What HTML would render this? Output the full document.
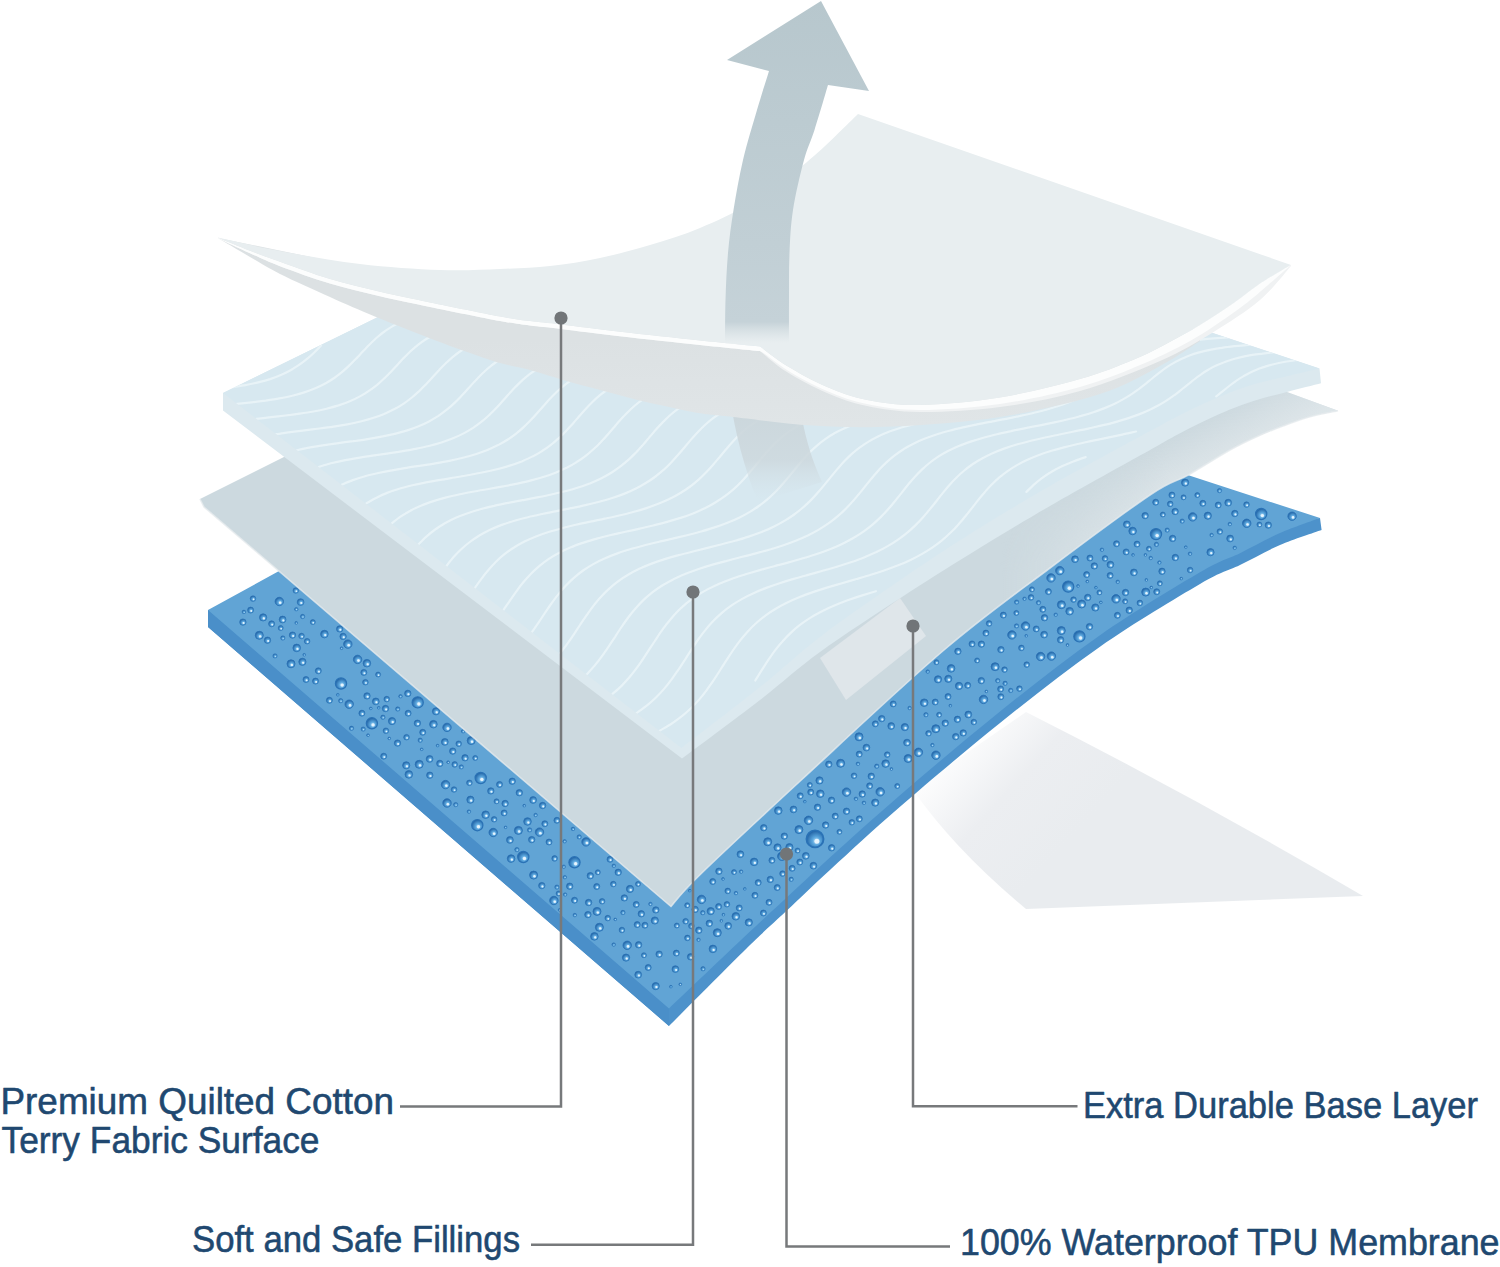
<!DOCTYPE html>
<html lang="en"><head><meta charset="utf-8"><title>Mattress protector layers</title>
<style>html,body{margin:0;padding:0;background:#fff;}body{width:1500px;height:1267px;overflow:hidden;position:relative;font-family:"Liberation Sans",sans-serif;}svg{display:block;position:absolute;left:0;top:0}
.lbl{font-family:"Liberation Sans",sans-serif;font-size:36.7px;fill:#204870;stroke:#204870;stroke-width:0.55px;stroke-linejoin:round}
</style></head><body>
<svg width="1500" height="1267" viewBox="0 0 1500 1267">
<defs>
<linearGradient id="shadowG" gradientUnits="userSpaceOnUse" x1="945" y1="745" x2="1060" y2="850"><stop offset="0" stop-color="#ffffff"/><stop offset="0.5" stop-color="#eceef1"/><stop offset="1" stop-color="#e9ecef"/></linearGradient>
<linearGradient id="arrowG" gradientUnits="userSpaceOnUse" x1="0" y1="0" x2="0" y2="348"><stop offset="0" stop-color="#b7c7cd"/><stop offset="0.7" stop-color="#c1cfd5"/><stop offset="0.925" stop-color="#c5d2d8" stop-opacity="1"/><stop offset="0.985" stop-color="#d5dee2" stop-opacity="0"/></linearGradient>
<linearGradient id="arrowLow" gradientUnits="userSpaceOnUse" x1="0" y1="400" x2="0" y2="500"><stop offset="0" stop-color="#cad5da" stop-opacity="0.95"/><stop offset="0.6" stop-color="#cdd8dd" stop-opacity="0.85"/><stop offset="1" stop-color="#d4e2e9" stop-opacity="0"/></linearGradient>
<radialGradient id="drop" cx="0.58" cy="0.62" r="0.62"><stop offset="0" stop-color="#c2e3f8"/><stop offset="0.38" stop-color="#5aa6dd"/><stop offset="1" stop-color="#1f60a2"/></radialGradient>
<linearGradient id="grayG" gradientUnits="userSpaceOnUse" x1="1140" y1="452" x2="1163" y2="495"><stop offset="0" stop-color="#e3e9ec" stop-opacity="0"/><stop offset="0.5" stop-color="#e3e9ec" stop-opacity="0.4"/><stop offset="1" stop-color="#e3e9ec" stop-opacity="0.75"/></linearGradient>
<linearGradient id="fadeX" gradientUnits="userSpaceOnUse" x1="1000" y1="0" x2="1170" y2="0"><stop offset="0" stop-color="#000"/><stop offset="1" stop-color="#fff"/></linearGradient>
<mask id="fadeM" maskUnits="userSpaceOnUse" x="0" y="0" width="1500" height="1267"><rect x="0" y="0" width="1500" height="1267" fill="url(#fadeX)"/></mask>
<linearGradient id="underG" gradientUnits="userSpaceOnUse" x1="0" y1="340" x2="0" y2="425"><stop offset="0" stop-color="#dce1e3"/><stop offset="1" stop-color="#e0e5e7"/></linearGradient>
</defs>
<path d="M1026,712 Q1200,800 1363,896 L1026,909 Q955,850 913,790 Z" fill="url(#shadowG)"/>
<clipPath id="blueClip"><path d="M208.0,610.0 L669.0,1008.5 C681.8,996.3 726.5,953.7 746.0,935.3 C765.5,916.9 771.8,911.4 786.0,898.3 C800.2,885.2 812.0,873.8 831.0,856.6 C850.0,839.4 871.8,819.4 900.0,795.2 C928.2,771.0 966.7,738.2 1000.0,711.5 C1033.3,684.8 1066.7,658.4 1100.0,635.2 C1133.3,612.0 1176.7,585.9 1200.0,572.3 C1223.3,558.6 1226.7,559.7 1240.0,553.2 C1253.3,546.7 1266.7,539.0 1280.0,533.1 C1293.3,527.2 1313.3,520.5 1320.0,518.0 L727.0,325.0 Z"/></clipPath>
<path d="M208.0,610.0 L208,627 L669.0,1026.0 C681.8,1013.2 726.5,968.1 746.0,949.0 C765.5,929.9 771.8,924.6 786.0,911.3 C800.2,898.0 812.0,886.4 831.0,869.0 C850.0,851.6 871.8,831.0 900.0,806.7 C928.2,782.4 966.7,749.7 1000.0,723.0 C1033.3,696.3 1066.7,669.9 1100.0,646.7 C1133.3,623.5 1176.7,597.6 1200.0,584.0 C1223.3,570.4 1226.7,571.5 1240.0,565.0 C1253.3,558.5 1266.4,550.8 1280.0,545.0 C1293.6,539.2 1314.7,532.5 1321.6,530.0 L1320,518 Z" fill="#4d92cb"/>
<path d="M208,610 L208,627 L669,1026 L669,1008.5 Z" fill="#4a8fc9"/>
<path d="M208.0,610.0 L669.0,1008.5 C681.8,996.3 726.5,953.7 746.0,935.3 C765.5,916.9 771.8,911.4 786.0,898.3 C800.2,885.2 812.0,873.8 831.0,856.6 C850.0,839.4 871.8,819.4 900.0,795.2 C928.2,771.0 966.7,738.2 1000.0,711.5 C1033.3,684.8 1066.7,658.4 1100.0,635.2 C1133.3,612.0 1176.7,585.9 1200.0,572.3 C1223.3,558.6 1226.7,559.7 1240.0,553.2 C1253.3,546.7 1266.7,539.0 1280.0,533.1 C1293.3,527.2 1313.3,520.5 1320.0,518.0 L727.0,325.0 Z" fill="#61a4d5"/>
<g>
<circle cx="763.7" cy="827.7" r="3.2" fill="url(#drop)" stroke="#2a72b6" stroke-width="0.7"/>
<circle cx="764.5" cy="828.6" r="1.0" fill="#eef8ff" opacity="0.9"/>
<circle cx="1094.3" cy="565.9" r="3.2" fill="url(#drop)" stroke="#2a72b6" stroke-width="0.7"/>
<circle cx="1095.0" cy="566.8" r="1.0" fill="#eef8ff" opacity="0.9"/>
<circle cx="370.8" cy="708.4" r="1.4" fill="url(#drop)" stroke="#2a72b6" stroke-width="0.5"/>
<circle cx="361.9" cy="713.2" r="3.0" fill="url(#drop)" stroke="#2a72b6" stroke-width="0.7"/>
<circle cx="362.6" cy="714.0" r="0.9" fill="#eef8ff" opacity="0.9"/>
<circle cx="282.8" cy="638.0" r="2.2" fill="url(#drop)" stroke="#2a72b6" stroke-width="0.5"/>
<circle cx="855.9" cy="798.8" r="1.8" fill="url(#drop)" stroke="#2a72b6" stroke-width="0.5"/>
<circle cx="687.2" cy="905.2" r="2.5" fill="url(#drop)" stroke="#2a72b6" stroke-width="0.6"/>
<circle cx="687.7" cy="905.9" r="0.8" fill="#eef8ff" opacity="0.9"/>
<circle cx="357.6" cy="659.4" r="4.2" fill="url(#drop)" stroke="#2a72b6" stroke-width="0.9"/>
<circle cx="358.5" cy="660.6" r="1.3" fill="#eef8ff" opacity="0.9"/>
<circle cx="835.2" cy="816.1" r="3.0" fill="url(#drop)" stroke="#2a72b6" stroke-width="0.7"/>
<circle cx="835.9" cy="817.0" r="0.9" fill="#eef8ff" opacity="0.9"/>
<circle cx="784.3" cy="836.1" r="3.2" fill="url(#drop)" stroke="#2a72b6" stroke-width="0.7"/>
<circle cx="785.0" cy="837.0" r="1.0" fill="#eef8ff" opacity="0.9"/>
<circle cx="918.4" cy="752.3" r="4.2" fill="url(#drop)" stroke="#2a72b6" stroke-width="0.9"/>
<circle cx="919.3" cy="753.5" r="1.3" fill="#eef8ff" opacity="0.9"/>
<circle cx="493.2" cy="832.5" r="4.2" fill="url(#drop)" stroke="#2a72b6" stroke-width="0.9"/>
<circle cx="494.2" cy="833.7" r="1.3" fill="#eef8ff" opacity="0.9"/>
<circle cx="349.2" cy="704.2" r="4.2" fill="url(#drop)" stroke="#2a72b6" stroke-width="0.9"/>
<circle cx="350.1" cy="705.4" r="1.3" fill="#eef8ff" opacity="0.9"/>
<circle cx="972.0" cy="643.9" r="3.0" fill="url(#drop)" stroke="#2a72b6" stroke-width="0.7"/>
<circle cx="972.6" cy="644.8" r="0.9" fill="#eef8ff" opacity="0.9"/>
<circle cx="1185.1" cy="482.6" r="3.6" fill="url(#drop)" stroke="#2a72b6" stroke-width="0.8"/>
<circle cx="1185.9" cy="483.6" r="1.1" fill="#eef8ff" opacity="0.9"/>
<circle cx="306.0" cy="679.5" r="3.0" fill="url(#drop)" stroke="#2a72b6" stroke-width="0.7"/>
<circle cx="306.7" cy="680.3" r="0.9" fill="#eef8ff" opacity="0.9"/>
<circle cx="770.3" cy="879.4" r="3.2" fill="url(#drop)" stroke="#2a72b6" stroke-width="0.7"/>
<circle cx="771.0" cy="880.3" r="1.0" fill="#eef8ff" opacity="0.9"/>
<circle cx="315.5" cy="681.1" r="3.0" fill="url(#drop)" stroke="#2a72b6" stroke-width="0.7"/>
<circle cx="316.2" cy="681.9" r="0.9" fill="#eef8ff" opacity="0.9"/>
<circle cx="659.1" cy="954.1" r="3.2" fill="url(#drop)" stroke="#2a72b6" stroke-width="0.7"/>
<circle cx="659.8" cy="955.0" r="1.0" fill="#eef8ff" opacity="0.9"/>
<circle cx="263.1" cy="617.4" r="3.6" fill="url(#drop)" stroke="#2a72b6" stroke-width="0.8"/>
<circle cx="263.9" cy="618.4" r="1.1" fill="#eef8ff" opacity="0.9"/>
<circle cx="341.0" cy="683.5" r="5.6" fill="url(#drop)" stroke="#2a72b6" stroke-width="1.2"/>
<circle cx="342.2" cy="685.1" r="1.7" fill="#eef8ff" opacity="0.9"/>
<circle cx="810.7" cy="792.1" r="3.0" fill="url(#drop)" stroke="#2a72b6" stroke-width="0.7"/>
<circle cx="811.3" cy="793.0" r="0.9" fill="#eef8ff" opacity="0.9"/>
<circle cx="523.3" cy="857.0" r="5.6" fill="url(#drop)" stroke="#2a72b6" stroke-width="1.2"/>
<circle cx="524.5" cy="858.5" r="1.7" fill="#eef8ff" opacity="0.9"/>
<circle cx="499.5" cy="784.4" r="3.0" fill="url(#drop)" stroke="#2a72b6" stroke-width="0.7"/>
<circle cx="500.1" cy="785.2" r="0.9" fill="#eef8ff" opacity="0.9"/>
<circle cx="1024.5" cy="598.7" r="1.8" fill="url(#drop)" stroke="#2a72b6" stroke-width="0.5"/>
<circle cx="509.9" cy="839.9" r="3.4" fill="url(#drop)" stroke="#2a72b6" stroke-width="0.7"/>
<circle cx="510.7" cy="840.9" r="1.0" fill="#eef8ff" opacity="0.9"/>
<circle cx="723.4" cy="914.7" r="1.4" fill="url(#drop)" stroke="#2a72b6" stroke-width="0.5"/>
<circle cx="758.2" cy="882.6" r="3.0" fill="url(#drop)" stroke="#2a72b6" stroke-width="0.7"/>
<circle cx="758.8" cy="883.5" r="0.9" fill="#eef8ff" opacity="0.9"/>
<circle cx="366.9" cy="663.2" r="3.8" fill="url(#drop)" stroke="#2a72b6" stroke-width="0.8"/>
<circle cx="367.8" cy="664.3" r="1.1" fill="#eef8ff" opacity="0.9"/>
<circle cx="1207.8" cy="515.7" r="3.6" fill="url(#drop)" stroke="#2a72b6" stroke-width="0.8"/>
<circle cx="1208.6" cy="516.7" r="1.1" fill="#eef8ff" opacity="0.9"/>
<circle cx="955.7" cy="736.6" r="3.2" fill="url(#drop)" stroke="#2a72b6" stroke-width="0.7"/>
<circle cx="956.4" cy="737.5" r="1.0" fill="#eef8ff" opacity="0.9"/>
<circle cx="862.2" cy="794.0" r="3.2" fill="url(#drop)" stroke="#2a72b6" stroke-width="0.7"/>
<circle cx="863.0" cy="794.9" r="1.0" fill="#eef8ff" opacity="0.9"/>
<circle cx="655.7" cy="986.1" r="3.6" fill="url(#drop)" stroke="#2a72b6" stroke-width="0.8"/>
<circle cx="656.5" cy="987.1" r="1.1" fill="#eef8ff" opacity="0.9"/>
<circle cx="439.8" cy="763.4" r="3.2" fill="url(#drop)" stroke="#2a72b6" stroke-width="0.7"/>
<circle cx="440.5" cy="764.3" r="1.0" fill="#eef8ff" opacity="0.9"/>
<circle cx="292.5" cy="635.1" r="3.2" fill="url(#drop)" stroke="#2a72b6" stroke-width="0.7"/>
<circle cx="293.2" cy="636.0" r="1.0" fill="#eef8ff" opacity="0.9"/>
<circle cx="1210.5" cy="552.2" r="3.6" fill="url(#drop)" stroke="#2a72b6" stroke-width="0.8"/>
<circle cx="1211.3" cy="553.2" r="1.1" fill="#eef8ff" opacity="0.9"/>
<circle cx="1021.4" cy="647.9" r="2.8" fill="url(#drop)" stroke="#2a72b6" stroke-width="0.6"/>
<circle cx="1022.0" cy="648.7" r="0.8" fill="#eef8ff" opacity="0.9"/>
<circle cx="587.9" cy="914.6" r="3.2" fill="url(#drop)" stroke="#2a72b6" stroke-width="0.7"/>
<circle cx="588.6" cy="915.5" r="1.0" fill="#eef8ff" opacity="0.9"/>
<circle cx="781.8" cy="856.3" r="4.2" fill="url(#drop)" stroke="#2a72b6" stroke-width="0.9"/>
<circle cx="782.8" cy="857.5" r="1.3" fill="#eef8ff" opacity="0.9"/>
<circle cx="300.6" cy="602.1" r="3.4" fill="url(#drop)" stroke="#2a72b6" stroke-width="0.7"/>
<circle cx="301.3" cy="603.0" r="1.0" fill="#eef8ff" opacity="0.9"/>
<circle cx="875.3" cy="723.8" r="3.0" fill="url(#drop)" stroke="#2a72b6" stroke-width="0.7"/>
<circle cx="876.0" cy="724.6" r="0.9" fill="#eef8ff" opacity="0.9"/>
<circle cx="893.2" cy="703.9" r="3.0" fill="url(#drop)" stroke="#2a72b6" stroke-width="0.7"/>
<circle cx="893.9" cy="704.8" r="0.9" fill="#eef8ff" opacity="0.9"/>
<circle cx="1044.1" cy="634.6" r="3.4" fill="url(#drop)" stroke="#2a72b6" stroke-width="0.7"/>
<circle cx="1044.8" cy="635.5" r="1.0" fill="#eef8ff" opacity="0.9"/>
<circle cx="295.8" cy="590.5" r="2.8" fill="url(#drop)" stroke="#2a72b6" stroke-width="0.6"/>
<circle cx="296.5" cy="591.3" r="0.8" fill="#eef8ff" opacity="0.9"/>
<circle cx="1075.0" cy="559.2" r="3.4" fill="url(#drop)" stroke="#2a72b6" stroke-width="0.7"/>
<circle cx="1075.7" cy="560.1" r="1.0" fill="#eef8ff" opacity="0.9"/>
<circle cx="1087.7" cy="597.4" r="3.2" fill="url(#drop)" stroke="#2a72b6" stroke-width="0.7"/>
<circle cx="1088.4" cy="598.3" r="1.0" fill="#eef8ff" opacity="0.9"/>
<circle cx="840.6" cy="763.3" r="4.0" fill="url(#drop)" stroke="#2a72b6" stroke-width="0.9"/>
<circle cx="841.5" cy="764.5" r="1.2" fill="#eef8ff" opacity="0.9"/>
<circle cx="365.4" cy="682.2" r="2.8" fill="url(#drop)" stroke="#2a72b6" stroke-width="0.6"/>
<circle cx="366.0" cy="683.0" r="0.8" fill="#eef8ff" opacity="0.9"/>
<circle cx="644.9" cy="925.2" r="3.0" fill="url(#drop)" stroke="#2a72b6" stroke-width="0.7"/>
<circle cx="645.6" cy="926.1" r="0.9" fill="#eef8ff" opacity="0.9"/>
<circle cx="1003.3" cy="615.1" r="3.0" fill="url(#drop)" stroke="#2a72b6" stroke-width="0.7"/>
<circle cx="1004.0" cy="615.9" r="0.9" fill="#eef8ff" opacity="0.9"/>
<circle cx="569.7" cy="886.2" r="3.2" fill="url(#drop)" stroke="#2a72b6" stroke-width="0.7"/>
<circle cx="570.4" cy="887.1" r="1.0" fill="#eef8ff" opacity="0.9"/>
<circle cx="627.2" cy="945.3" r="4.2" fill="url(#drop)" stroke="#2a72b6" stroke-width="0.9"/>
<circle cx="628.1" cy="946.4" r="1.3" fill="#eef8ff" opacity="0.9"/>
<circle cx="1000.6" cy="688.9" r="3.0" fill="url(#drop)" stroke="#2a72b6" stroke-width="0.7"/>
<circle cx="1001.3" cy="689.7" r="0.9" fill="#eef8ff" opacity="0.9"/>
<circle cx="539.5" cy="832.1" r="4.2" fill="url(#drop)" stroke="#2a72b6" stroke-width="0.9"/>
<circle cx="540.4" cy="833.2" r="1.3" fill="#eef8ff" opacity="0.9"/>
<circle cx="468.9" cy="811.6" r="1.8" fill="url(#drop)" stroke="#2a72b6" stroke-width="0.5"/>
<circle cx="1211.6" cy="535.0" r="1.8" fill="url(#drop)" stroke="#2a72b6" stroke-width="0.5"/>
<circle cx="1219.5" cy="490.6" r="2.2" fill="url(#drop)" stroke="#2a72b6" stroke-width="0.5"/>
<circle cx="452.7" cy="751.1" r="3.2" fill="url(#drop)" stroke="#2a72b6" stroke-width="0.7"/>
<circle cx="453.4" cy="752.0" r="1.0" fill="#eef8ff" opacity="0.9"/>
<circle cx="817.5" cy="807.2" r="3.2" fill="url(#drop)" stroke="#2a72b6" stroke-width="0.7"/>
<circle cx="818.2" cy="808.1" r="1.0" fill="#eef8ff" opacity="0.9"/>
<circle cx="948.3" cy="678.8" r="3.6" fill="url(#drop)" stroke="#2a72b6" stroke-width="0.8"/>
<circle cx="949.1" cy="679.8" r="1.1" fill="#eef8ff" opacity="0.9"/>
<circle cx="341.6" cy="648.2" r="1.4" fill="url(#drop)" stroke="#2a72b6" stroke-width="0.5"/>
<circle cx="1159.4" cy="562.5" r="1.8" fill="url(#drop)" stroke="#2a72b6" stroke-width="0.5"/>
<circle cx="1010.7" cy="690.4" r="2.2" fill="url(#drop)" stroke="#2a72b6" stroke-width="0.5"/>
<circle cx="447.0" cy="803.0" r="4.2" fill="url(#drop)" stroke="#2a72b6" stroke-width="0.9"/>
<circle cx="447.9" cy="804.2" r="1.3" fill="#eef8ff" opacity="0.9"/>
<circle cx="291.0" cy="663.8" r="4.0" fill="url(#drop)" stroke="#2a72b6" stroke-width="0.9"/>
<circle cx="291.9" cy="664.9" r="1.2" fill="#eef8ff" opacity="0.9"/>
<circle cx="613.3" cy="884.1" r="2.8" fill="url(#drop)" stroke="#2a72b6" stroke-width="0.6"/>
<circle cx="614.0" cy="884.9" r="0.8" fill="#eef8ff" opacity="0.9"/>
<circle cx="798.9" cy="829.6" r="4.0" fill="url(#drop)" stroke="#2a72b6" stroke-width="0.9"/>
<circle cx="799.8" cy="830.7" r="1.2" fill="#eef8ff" opacity="0.9"/>
<circle cx="564.8" cy="877.2" r="1.8" fill="url(#drop)" stroke="#2a72b6" stroke-width="0.5"/>
<circle cx="907.0" cy="742.6" r="3.4" fill="url(#drop)" stroke="#2a72b6" stroke-width="0.7"/>
<circle cx="907.8" cy="743.6" r="1.0" fill="#eef8ff" opacity="0.9"/>
<circle cx="948.0" cy="696.5" r="3.0" fill="url(#drop)" stroke="#2a72b6" stroke-width="0.7"/>
<circle cx="948.6" cy="697.3" r="0.9" fill="#eef8ff" opacity="0.9"/>
<circle cx="417.4" cy="723.2" r="3.2" fill="url(#drop)" stroke="#2a72b6" stroke-width="0.7"/>
<circle cx="418.1" cy="724.1" r="1.0" fill="#eef8ff" opacity="0.9"/>
<circle cx="1172.6" cy="538.4" r="3.2" fill="url(#drop)" stroke="#2a72b6" stroke-width="0.7"/>
<circle cx="1173.3" cy="539.3" r="1.0" fill="#eef8ff" opacity="0.9"/>
<circle cx="1026.7" cy="664.6" r="2.8" fill="url(#drop)" stroke="#2a72b6" stroke-width="0.6"/>
<circle cx="1027.3" cy="665.4" r="0.8" fill="#eef8ff" opacity="0.9"/>
<circle cx="469.4" cy="782.8" r="2.8" fill="url(#drop)" stroke="#2a72b6" stroke-width="0.6"/>
<circle cx="470.0" cy="783.6" r="0.8" fill="#eef8ff" opacity="0.9"/>
<circle cx="505.6" cy="827.3" r="1.4" fill="url(#drop)" stroke="#2a72b6" stroke-width="0.5"/>
<circle cx="939.1" cy="714.7" r="2.5" fill="url(#drop)" stroke="#2a72b6" stroke-width="0.6"/>
<circle cx="939.6" cy="715.4" r="0.8" fill="#eef8ff" opacity="0.9"/>
<circle cx="397.5" cy="743.1" r="3.2" fill="url(#drop)" stroke="#2a72b6" stroke-width="0.7"/>
<circle cx="398.2" cy="744.0" r="1.0" fill="#eef8ff" opacity="0.9"/>
<circle cx="615.2" cy="919.4" r="1.4" fill="url(#drop)" stroke="#2a72b6" stroke-width="0.5"/>
<circle cx="318.3" cy="670.8" r="3.0" fill="url(#drop)" stroke="#2a72b6" stroke-width="0.7"/>
<circle cx="319.0" cy="671.7" r="0.9" fill="#eef8ff" opacity="0.9"/>
<circle cx="1051.4" cy="656.1" r="4.2" fill="url(#drop)" stroke="#2a72b6" stroke-width="0.9"/>
<circle cx="1052.3" cy="657.3" r="1.3" fill="#eef8ff" opacity="0.9"/>
<circle cx="927.7" cy="671.6" r="1.8" fill="url(#drop)" stroke="#2a72b6" stroke-width="0.5"/>
<circle cx="563.7" cy="866.7" r="1.8" fill="url(#drop)" stroke="#2a72b6" stroke-width="0.5"/>
<circle cx="1067.5" cy="645.0" r="1.4" fill="url(#drop)" stroke="#2a72b6" stroke-width="0.5"/>
<circle cx="968.3" cy="714.5" r="3.4" fill="url(#drop)" stroke="#2a72b6" stroke-width="0.7"/>
<circle cx="969.1" cy="715.5" r="1.0" fill="#eef8ff" opacity="0.9"/>
<circle cx="407.8" cy="693.4" r="3.2" fill="url(#drop)" stroke="#2a72b6" stroke-width="0.7"/>
<circle cx="408.5" cy="694.3" r="1.0" fill="#eef8ff" opacity="0.9"/>
<circle cx="429.6" cy="758.9" r="3.4" fill="url(#drop)" stroke="#2a72b6" stroke-width="0.7"/>
<circle cx="430.3" cy="759.8" r="1.0" fill="#eef8ff" opacity="0.9"/>
<circle cx="1016.3" cy="612.9" r="2.5" fill="url(#drop)" stroke="#2a72b6" stroke-width="0.6"/>
<circle cx="1016.8" cy="613.6" r="0.8" fill="#eef8ff" opacity="0.9"/>
<circle cx="641.3" cy="913.8" r="3.2" fill="url(#drop)" stroke="#2a72b6" stroke-width="0.7"/>
<circle cx="642.0" cy="914.7" r="1.0" fill="#eef8ff" opacity="0.9"/>
<circle cx="885.6" cy="763.6" r="3.8" fill="url(#drop)" stroke="#2a72b6" stroke-width="0.8"/>
<circle cx="886.5" cy="764.7" r="1.1" fill="#eef8ff" opacity="0.9"/>
<circle cx="819.5" cy="780.4" r="3.6" fill="url(#drop)" stroke="#2a72b6" stroke-width="0.8"/>
<circle cx="820.3" cy="781.4" r="1.1" fill="#eef8ff" opacity="0.9"/>
<circle cx="643.9" cy="955.2" r="2.5" fill="url(#drop)" stroke="#2a72b6" stroke-width="0.6"/>
<circle cx="644.4" cy="955.9" r="0.8" fill="#eef8ff" opacity="0.9"/>
<circle cx="859.2" cy="754.1" r="3.0" fill="url(#drop)" stroke="#2a72b6" stroke-width="0.7"/>
<circle cx="859.9" cy="754.9" r="0.9" fill="#eef8ff" opacity="0.9"/>
<circle cx="574.5" cy="862.3" r="5.6" fill="url(#drop)" stroke="#2a72b6" stroke-width="1.2"/>
<circle cx="575.7" cy="863.8" r="1.7" fill="#eef8ff" opacity="0.9"/>
<circle cx="951.1" cy="668.4" r="3.8" fill="url(#drop)" stroke="#2a72b6" stroke-width="0.8"/>
<circle cx="952.0" cy="669.4" r="1.1" fill="#eef8ff" opacity="0.9"/>
<circle cx="1261.2" cy="514.0" r="5.6" fill="url(#drop)" stroke="#2a72b6" stroke-width="1.2"/>
<circle cx="1262.4" cy="515.6" r="1.7" fill="#eef8ff" opacity="0.9"/>
<circle cx="371.9" cy="723.3" r="5.6" fill="url(#drop)" stroke="#2a72b6" stroke-width="1.2"/>
<circle cx="373.1" cy="724.9" r="1.7" fill="#eef8ff" opacity="0.9"/>
<circle cx="846.5" cy="811.2" r="3.2" fill="url(#drop)" stroke="#2a72b6" stroke-width="0.7"/>
<circle cx="847.2" cy="812.1" r="1.0" fill="#eef8ff" opacity="0.9"/>
<circle cx="1095.3" cy="607.5" r="3.6" fill="url(#drop)" stroke="#2a72b6" stroke-width="0.8"/>
<circle cx="1096.1" cy="608.5" r="1.1" fill="#eef8ff" opacity="0.9"/>
<circle cx="959.0" cy="685.9" r="3.6" fill="url(#drop)" stroke="#2a72b6" stroke-width="0.8"/>
<circle cx="959.8" cy="686.9" r="1.1" fill="#eef8ff" opacity="0.9"/>
<circle cx="1069.6" cy="611.2" r="3.8" fill="url(#drop)" stroke="#2a72b6" stroke-width="0.8"/>
<circle cx="1070.5" cy="612.3" r="1.1" fill="#eef8ff" opacity="0.9"/>
<circle cx="734.0" cy="872.1" r="2.5" fill="url(#drop)" stroke="#2a72b6" stroke-width="0.6"/>
<circle cx="734.6" cy="872.8" r="0.8" fill="#eef8ff" opacity="0.9"/>
<circle cx="511.1" cy="858.6" r="3.8" fill="url(#drop)" stroke="#2a72b6" stroke-width="0.8"/>
<circle cx="511.9" cy="859.7" r="1.1" fill="#eef8ff" opacity="0.9"/>
<circle cx="480.7" cy="778.0" r="5.6" fill="url(#drop)" stroke="#2a72b6" stroke-width="1.2"/>
<circle cx="481.9" cy="779.5" r="1.7" fill="#eef8ff" opacity="0.9"/>
<circle cx="769.0" cy="902.3" r="3.0" fill="url(#drop)" stroke="#2a72b6" stroke-width="0.7"/>
<circle cx="769.7" cy="903.2" r="0.9" fill="#eef8ff" opacity="0.9"/>
<circle cx="496.5" cy="801.3" r="2.5" fill="url(#drop)" stroke="#2a72b6" stroke-width="0.6"/>
<circle cx="497.1" cy="802.0" r="0.8" fill="#eef8ff" opacity="0.9"/>
<circle cx="881.7" cy="718.6" r="3.2" fill="url(#drop)" stroke="#2a72b6" stroke-width="0.7"/>
<circle cx="882.4" cy="719.5" r="1.0" fill="#eef8ff" opacity="0.9"/>
<circle cx="455.7" cy="804.6" r="2.2" fill="url(#drop)" stroke="#2a72b6" stroke-width="0.5"/>
<circle cx="891.4" cy="769.0" r="1.4" fill="url(#drop)" stroke="#2a72b6" stroke-width="0.5"/>
<circle cx="981.4" cy="644.1" r="3.2" fill="url(#drop)" stroke="#2a72b6" stroke-width="0.7"/>
<circle cx="982.1" cy="645.0" r="1.0" fill="#eef8ff" opacity="0.9"/>
<circle cx="419.2" cy="764.3" r="4.0" fill="url(#drop)" stroke="#2a72b6" stroke-width="0.9"/>
<circle cx="420.1" cy="765.4" r="1.2" fill="#eef8ff" opacity="0.9"/>
<circle cx="938.0" cy="679.3" r="3.6" fill="url(#drop)" stroke="#2a72b6" stroke-width="0.8"/>
<circle cx="938.8" cy="680.4" r="1.1" fill="#eef8ff" opacity="0.9"/>
<circle cx="728.2" cy="925.8" r="3.4" fill="url(#drop)" stroke="#2a72b6" stroke-width="0.7"/>
<circle cx="728.9" cy="926.7" r="1.0" fill="#eef8ff" opacity="0.9"/>
<circle cx="282.6" cy="619.5" r="3.4" fill="url(#drop)" stroke="#2a72b6" stroke-width="0.7"/>
<circle cx="283.4" cy="620.4" r="1.0" fill="#eef8ff" opacity="0.9"/>
<circle cx="408.1" cy="713.2" r="3.0" fill="url(#drop)" stroke="#2a72b6" stroke-width="0.7"/>
<circle cx="408.8" cy="714.0" r="0.9" fill="#eef8ff" opacity="0.9"/>
<circle cx="533.6" cy="875.1" r="4.0" fill="url(#drop)" stroke="#2a72b6" stroke-width="0.9"/>
<circle cx="534.5" cy="876.2" r="1.2" fill="#eef8ff" opacity="0.9"/>
<circle cx="698.8" cy="930.2" r="3.2" fill="url(#drop)" stroke="#2a72b6" stroke-width="0.7"/>
<circle cx="699.5" cy="931.1" r="1.0" fill="#eef8ff" opacity="0.9"/>
<circle cx="1089.5" cy="626.6" r="3.2" fill="url(#drop)" stroke="#2a72b6" stroke-width="0.7"/>
<circle cx="1090.2" cy="627.5" r="1.0" fill="#eef8ff" opacity="0.9"/>
<circle cx="1087.2" cy="581.5" r="1.4" fill="url(#drop)" stroke="#2a72b6" stroke-width="0.5"/>
<circle cx="406.5" cy="737.2" r="2.8" fill="url(#drop)" stroke="#2a72b6" stroke-width="0.6"/>
<circle cx="407.1" cy="738.0" r="0.8" fill="#eef8ff" opacity="0.9"/>
<circle cx="382.9" cy="717.2" r="2.2" fill="url(#drop)" stroke="#2a72b6" stroke-width="0.5"/>
<circle cx="1116.0" cy="598.8" r="4.2" fill="url(#drop)" stroke="#2a72b6" stroke-width="0.9"/>
<circle cx="1116.9" cy="600.0" r="1.3" fill="#eef8ff" opacity="0.9"/>
<circle cx="599.4" cy="927.3" r="4.0" fill="url(#drop)" stroke="#2a72b6" stroke-width="0.9"/>
<circle cx="600.3" cy="928.4" r="1.2" fill="#eef8ff" opacity="0.9"/>
<circle cx="908.1" cy="758.5" r="4.0" fill="url(#drop)" stroke="#2a72b6" stroke-width="0.9"/>
<circle cx="909.0" cy="759.6" r="1.2" fill="#eef8ff" opacity="0.9"/>
<circle cx="383.7" cy="756.2" r="3.0" fill="url(#drop)" stroke="#2a72b6" stroke-width="0.7"/>
<circle cx="384.4" cy="757.1" r="0.9" fill="#eef8ff" opacity="0.9"/>
<circle cx="871.2" cy="776.2" r="3.2" fill="url(#drop)" stroke="#2a72b6" stroke-width="0.7"/>
<circle cx="871.9" cy="777.1" r="1.0" fill="#eef8ff" opacity="0.9"/>
<circle cx="904.8" cy="727.1" r="3.6" fill="url(#drop)" stroke="#2a72b6" stroke-width="0.8"/>
<circle cx="905.6" cy="728.1" r="1.1" fill="#eef8ff" opacity="0.9"/>
<circle cx="859.3" cy="818.8" r="3.0" fill="url(#drop)" stroke="#2a72b6" stroke-width="0.7"/>
<circle cx="860.0" cy="819.6" r="0.9" fill="#eef8ff" opacity="0.9"/>
<circle cx="1059.8" cy="570.6" r="4.2" fill="url(#drop)" stroke="#2a72b6" stroke-width="0.9"/>
<circle cx="1060.8" cy="571.8" r="1.3" fill="#eef8ff" opacity="0.9"/>
<circle cx="1246.5" cy="504.6" r="2.8" fill="url(#drop)" stroke="#2a72b6" stroke-width="0.6"/>
<circle cx="1247.2" cy="505.4" r="0.8" fill="#eef8ff" opacity="0.9"/>
<circle cx="957.9" cy="651.3" r="3.2" fill="url(#drop)" stroke="#2a72b6" stroke-width="0.7"/>
<circle cx="958.6" cy="652.2" r="1.0" fill="#eef8ff" opacity="0.9"/>
<circle cx="654.8" cy="920.5" r="3.6" fill="url(#drop)" stroke="#2a72b6" stroke-width="0.8"/>
<circle cx="655.6" cy="921.5" r="1.1" fill="#eef8ff" opacity="0.9"/>
<circle cx="590.3" cy="875.7" r="3.2" fill="url(#drop)" stroke="#2a72b6" stroke-width="0.7"/>
<circle cx="591.0" cy="876.6" r="1.0" fill="#eef8ff" opacity="0.9"/>
<circle cx="957.4" cy="719.3" r="3.2" fill="url(#drop)" stroke="#2a72b6" stroke-width="0.7"/>
<circle cx="958.1" cy="720.1" r="1.0" fill="#eef8ff" opacity="0.9"/>
<circle cx="1137.0" cy="544.1" r="3.0" fill="url(#drop)" stroke="#2a72b6" stroke-width="0.7"/>
<circle cx="1137.6" cy="544.9" r="0.9" fill="#eef8ff" opacity="0.9"/>
<circle cx="1228.2" cy="502.7" r="3.4" fill="url(#drop)" stroke="#2a72b6" stroke-width="0.7"/>
<circle cx="1229.0" cy="503.7" r="1.0" fill="#eef8ff" opacity="0.9"/>
<circle cx="596.7" cy="886.5" r="3.0" fill="url(#drop)" stroke="#2a72b6" stroke-width="0.7"/>
<circle cx="597.3" cy="887.3" r="0.9" fill="#eef8ff" opacity="0.9"/>
<circle cx="1229.8" cy="524.1" r="1.8" fill="url(#drop)" stroke="#2a72b6" stroke-width="0.5"/>
<circle cx="417.7" cy="702.4" r="5.6" fill="url(#drop)" stroke="#2a72b6" stroke-width="1.2"/>
<circle cx="418.9" cy="704.0" r="1.7" fill="#eef8ff" opacity="0.9"/>
<circle cx="347.8" cy="644.1" r="4.2" fill="url(#drop)" stroke="#2a72b6" stroke-width="0.9"/>
<circle cx="348.8" cy="645.2" r="1.3" fill="#eef8ff" opacity="0.9"/>
<circle cx="1016.6" cy="602.1" r="2.2" fill="url(#drop)" stroke="#2a72b6" stroke-width="0.5"/>
<circle cx="1171.9" cy="495.0" r="3.0" fill="url(#drop)" stroke="#2a72b6" stroke-width="0.7"/>
<circle cx="1172.6" cy="495.9" r="0.9" fill="#eef8ff" opacity="0.9"/>
<circle cx="1156.7" cy="591.7" r="3.0" fill="url(#drop)" stroke="#2a72b6" stroke-width="0.7"/>
<circle cx="1157.3" cy="592.6" r="0.9" fill="#eef8ff" opacity="0.9"/>
<circle cx="670.9" cy="986.7" r="1.4" fill="url(#drop)" stroke="#2a72b6" stroke-width="0.5"/>
<circle cx="368.0" cy="735.2" r="1.4" fill="url(#drop)" stroke="#2a72b6" stroke-width="0.5"/>
<circle cx="687.4" cy="937.9" r="2.8" fill="url(#drop)" stroke="#2a72b6" stroke-width="0.6"/>
<circle cx="688.0" cy="938.6" r="0.8" fill="#eef8ff" opacity="0.9"/>
<circle cx="494.1" cy="819.3" r="2.8" fill="url(#drop)" stroke="#2a72b6" stroke-width="0.6"/>
<circle cx="494.7" cy="820.1" r="0.8" fill="#eef8ff" opacity="0.9"/>
<circle cx="748.8" cy="922.4" r="3.6" fill="url(#drop)" stroke="#2a72b6" stroke-width="0.8"/>
<circle cx="749.6" cy="923.4" r="1.1" fill="#eef8ff" opacity="0.9"/>
<circle cx="698.5" cy="939.7" r="1.8" fill="url(#drop)" stroke="#2a72b6" stroke-width="0.5"/>
<circle cx="928.5" cy="733.3" r="2.8" fill="url(#drop)" stroke="#2a72b6" stroke-width="0.6"/>
<circle cx="929.1" cy="734.1" r="0.8" fill="#eef8ff" opacity="0.9"/>
<circle cx="267.5" cy="640.2" r="3.2" fill="url(#drop)" stroke="#2a72b6" stroke-width="0.7"/>
<circle cx="268.2" cy="641.1" r="1.0" fill="#eef8ff" opacity="0.9"/>
<circle cx="610.0" cy="859.3" r="3.0" fill="url(#drop)" stroke="#2a72b6" stroke-width="0.7"/>
<circle cx="610.6" cy="860.1" r="0.9" fill="#eef8ff" opacity="0.9"/>
<circle cx="1081.6" cy="604.0" r="4.0" fill="url(#drop)" stroke="#2a72b6" stroke-width="0.9"/>
<circle cx="1082.5" cy="605.2" r="1.2" fill="#eef8ff" opacity="0.9"/>
<circle cx="1162.8" cy="514.5" r="2.5" fill="url(#drop)" stroke="#2a72b6" stroke-width="0.6"/>
<circle cx="1163.4" cy="515.2" r="0.8" fill="#eef8ff" opacity="0.9"/>
<circle cx="1048.4" cy="591.6" r="3.0" fill="url(#drop)" stroke="#2a72b6" stroke-width="0.7"/>
<circle cx="1049.0" cy="592.4" r="0.9" fill="#eef8ff" opacity="0.9"/>
<circle cx="529.6" cy="829.9" r="2.2" fill="url(#drop)" stroke="#2a72b6" stroke-width="0.5"/>
<circle cx="1000.8" cy="696.7" r="3.0" fill="url(#drop)" stroke="#2a72b6" stroke-width="0.7"/>
<circle cx="1001.5" cy="697.5" r="0.9" fill="#eef8ff" opacity="0.9"/>
<circle cx="792.1" cy="868.3" r="3.0" fill="url(#drop)" stroke="#2a72b6" stroke-width="0.7"/>
<circle cx="792.8" cy="869.1" r="0.9" fill="#eef8ff" opacity="0.9"/>
<circle cx="363.8" cy="672.4" r="3.0" fill="url(#drop)" stroke="#2a72b6" stroke-width="0.7"/>
<circle cx="364.5" cy="673.3" r="0.9" fill="#eef8ff" opacity="0.9"/>
<circle cx="296.7" cy="647.9" r="3.8" fill="url(#drop)" stroke="#2a72b6" stroke-width="0.8"/>
<circle cx="297.5" cy="648.9" r="1.1" fill="#eef8ff" opacity="0.9"/>
<circle cx="791.2" cy="879.3" r="2.2" fill="url(#drop)" stroke="#2a72b6" stroke-width="0.5"/>
<circle cx="935.9" cy="755.2" r="4.2" fill="url(#drop)" stroke="#2a72b6" stroke-width="0.9"/>
<circle cx="936.9" cy="756.4" r="1.3" fill="#eef8ff" opacity="0.9"/>
<circle cx="813.4" cy="865.7" r="3.4" fill="url(#drop)" stroke="#2a72b6" stroke-width="0.7"/>
<circle cx="814.1" cy="866.7" r="1.0" fill="#eef8ff" opacity="0.9"/>
<circle cx="997.7" cy="680.6" r="2.2" fill="url(#drop)" stroke="#2a72b6" stroke-width="0.5"/>
<circle cx="613.8" cy="865.8" r="1.8" fill="url(#drop)" stroke="#2a72b6" stroke-width="0.5"/>
<circle cx="636.2" cy="904.4" r="3.0" fill="url(#drop)" stroke="#2a72b6" stroke-width="0.7"/>
<circle cx="636.8" cy="905.2" r="0.9" fill="#eef8ff" opacity="0.9"/>
<circle cx="1055.7" cy="614.7" r="1.8" fill="url(#drop)" stroke="#2a72b6" stroke-width="0.5"/>
<circle cx="296.3" cy="609.2" r="1.8" fill="url(#drop)" stroke="#2a72b6" stroke-width="0.5"/>
<circle cx="271.6" cy="623.8" r="3.0" fill="url(#drop)" stroke="#2a72b6" stroke-width="0.7"/>
<circle cx="272.3" cy="624.6" r="0.9" fill="#eef8ff" opacity="0.9"/>
<circle cx="447.0" cy="727.4" r="4.2" fill="url(#drop)" stroke="#2a72b6" stroke-width="0.9"/>
<circle cx="448.0" cy="728.6" r="1.3" fill="#eef8ff" opacity="0.9"/>
<circle cx="869.6" cy="785.8" r="3.0" fill="url(#drop)" stroke="#2a72b6" stroke-width="0.7"/>
<circle cx="870.3" cy="786.6" r="0.9" fill="#eef8ff" opacity="0.9"/>
<circle cx="741.1" cy="871.6" r="1.8" fill="url(#drop)" stroke="#2a72b6" stroke-width="0.5"/>
<circle cx="859.0" cy="736.8" r="4.0" fill="url(#drop)" stroke="#2a72b6" stroke-width="0.9"/>
<circle cx="859.9" cy="738.0" r="1.2" fill="#eef8ff" opacity="0.9"/>
<circle cx="924.2" cy="702.7" r="3.8" fill="url(#drop)" stroke="#2a72b6" stroke-width="0.8"/>
<circle cx="925.0" cy="703.8" r="1.1" fill="#eef8ff" opacity="0.9"/>
<circle cx="406.2" cy="765.3" r="3.6" fill="url(#drop)" stroke="#2a72b6" stroke-width="0.8"/>
<circle cx="407.0" cy="766.3" r="1.1" fill="#eef8ff" opacity="0.9"/>
<circle cx="875.2" cy="802.6" r="3.6" fill="url(#drop)" stroke="#2a72b6" stroke-width="0.8"/>
<circle cx="876.0" cy="803.6" r="1.1" fill="#eef8ff" opacity="0.9"/>
<circle cx="400.5" cy="696.3" r="1.8" fill="url(#drop)" stroke="#2a72b6" stroke-width="0.5"/>
<circle cx="800.2" cy="795.8" r="3.0" fill="url(#drop)" stroke="#2a72b6" stroke-width="0.7"/>
<circle cx="800.8" cy="796.7" r="0.9" fill="#eef8ff" opacity="0.9"/>
<circle cx="564.6" cy="841.3" r="1.8" fill="url(#drop)" stroke="#2a72b6" stroke-width="0.5"/>
<circle cx="1230.1" cy="538.5" r="3.4" fill="url(#drop)" stroke="#2a72b6" stroke-width="0.7"/>
<circle cx="1230.9" cy="539.5" r="1.0" fill="#eef8ff" opacity="0.9"/>
<circle cx="695.1" cy="909.4" r="3.2" fill="url(#drop)" stroke="#2a72b6" stroke-width="0.7"/>
<circle cx="695.8" cy="910.3" r="1.0" fill="#eef8ff" opacity="0.9"/>
<circle cx="253.0" cy="598.6" r="2.8" fill="url(#drop)" stroke="#2a72b6" stroke-width="0.6"/>
<circle cx="253.6" cy="599.4" r="0.8" fill="#eef8ff" opacity="0.9"/>
<circle cx="1000.9" cy="649.6" r="3.2" fill="url(#drop)" stroke="#2a72b6" stroke-width="0.7"/>
<circle cx="1001.6" cy="650.5" r="1.0" fill="#eef8ff" opacity="0.9"/>
<circle cx="1197.3" cy="495.1" r="2.5" fill="url(#drop)" stroke="#2a72b6" stroke-width="0.6"/>
<circle cx="1197.8" cy="495.8" r="0.8" fill="#eef8ff" opacity="0.9"/>
<circle cx="831.5" cy="800.2" r="3.2" fill="url(#drop)" stroke="#2a72b6" stroke-width="0.7"/>
<circle cx="832.2" cy="801.1" r="1.0" fill="#eef8ff" opacity="0.9"/>
<circle cx="602.1" cy="901.3" r="2.8" fill="url(#drop)" stroke="#2a72b6" stroke-width="0.6"/>
<circle cx="602.7" cy="902.1" r="0.8" fill="#eef8ff" opacity="0.9"/>
<circle cx="437.6" cy="745.6" r="1.4" fill="url(#drop)" stroke="#2a72b6" stroke-width="0.5"/>
<circle cx="1219.8" cy="531.5" r="2.8" fill="url(#drop)" stroke="#2a72b6" stroke-width="0.6"/>
<circle cx="1220.5" cy="532.3" r="0.8" fill="#eef8ff" opacity="0.9"/>
<circle cx="1133.0" cy="554.9" r="1.4" fill="url(#drop)" stroke="#2a72b6" stroke-width="0.5"/>
<circle cx="1038.5" cy="602.6" r="2.2" fill="url(#drop)" stroke="#2a72b6" stroke-width="0.5"/>
<circle cx="739.2" cy="907.9" r="3.0" fill="url(#drop)" stroke="#2a72b6" stroke-width="0.7"/>
<circle cx="739.9" cy="908.7" r="0.9" fill="#eef8ff" opacity="0.9"/>
<circle cx="638.6" cy="944.8" r="3.2" fill="url(#drop)" stroke="#2a72b6" stroke-width="0.7"/>
<circle cx="639.3" cy="945.7" r="1.0" fill="#eef8ff" opacity="0.9"/>
<circle cx="618.2" cy="872.3" r="3.2" fill="url(#drop)" stroke="#2a72b6" stroke-width="0.7"/>
<circle cx="618.9" cy="873.2" r="1.0" fill="#eef8ff" opacity="0.9"/>
<circle cx="809.8" cy="784.9" r="2.5" fill="url(#drop)" stroke="#2a72b6" stroke-width="0.6"/>
<circle cx="810.3" cy="785.6" r="0.8" fill="#eef8ff" opacity="0.9"/>
<circle cx="723.0" cy="879.0" r="1.4" fill="url(#drop)" stroke="#2a72b6" stroke-width="0.5"/>
<circle cx="799.8" cy="862.0" r="3.0" fill="url(#drop)" stroke="#2a72b6" stroke-width="0.7"/>
<circle cx="800.5" cy="862.9" r="0.9" fill="#eef8ff" opacity="0.9"/>
<circle cx="712.7" cy="881.5" r="3.0" fill="url(#drop)" stroke="#2a72b6" stroke-width="0.7"/>
<circle cx="713.4" cy="882.4" r="0.9" fill="#eef8ff" opacity="0.9"/>
<circle cx="789.4" cy="847.2" r="3.6" fill="url(#drop)" stroke="#2a72b6" stroke-width="0.8"/>
<circle cx="790.2" cy="848.2" r="1.1" fill="#eef8ff" opacity="0.9"/>
<circle cx="250.6" cy="610.1" r="3.0" fill="url(#drop)" stroke="#2a72b6" stroke-width="0.7"/>
<circle cx="251.3" cy="611.0" r="0.9" fill="#eef8ff" opacity="0.9"/>
<circle cx="1146.3" cy="579.9" r="1.4" fill="url(#drop)" stroke="#2a72b6" stroke-width="0.5"/>
<circle cx="1234.7" cy="547.8" r="1.8" fill="url(#drop)" stroke="#2a72b6" stroke-width="0.5"/>
<circle cx="825.6" cy="825.0" r="3.2" fill="url(#drop)" stroke="#2a72b6" stroke-width="0.7"/>
<circle cx="826.3" cy="825.9" r="1.0" fill="#eef8ff" opacity="0.9"/>
<circle cx="754.1" cy="861.9" r="3.8" fill="url(#drop)" stroke="#2a72b6" stroke-width="0.8"/>
<circle cx="754.9" cy="862.9" r="1.1" fill="#eef8ff" opacity="0.9"/>
<circle cx="1129.2" cy="610.2" r="3.2" fill="url(#drop)" stroke="#2a72b6" stroke-width="0.7"/>
<circle cx="1129.9" cy="611.1" r="1.0" fill="#eef8ff" opacity="0.9"/>
<circle cx="808.5" cy="820.3" r="4.2" fill="url(#drop)" stroke="#2a72b6" stroke-width="0.9"/>
<circle cx="809.4" cy="821.5" r="1.3" fill="#eef8ff" opacity="0.9"/>
<circle cx="945.2" cy="723.1" r="3.2" fill="url(#drop)" stroke="#2a72b6" stroke-width="0.7"/>
<circle cx="945.9" cy="724.0" r="1.0" fill="#eef8ff" opacity="0.9"/>
<circle cx="544.8" cy="823.7" r="3.0" fill="url(#drop)" stroke="#2a72b6" stroke-width="0.7"/>
<circle cx="545.5" cy="824.5" r="0.9" fill="#eef8ff" opacity="0.9"/>
<circle cx="721.3" cy="920.8" r="1.4" fill="url(#drop)" stroke="#2a72b6" stroke-width="0.5"/>
<circle cx="607.7" cy="918.1" r="2.8" fill="url(#drop)" stroke="#2a72b6" stroke-width="0.6"/>
<circle cx="608.4" cy="918.9" r="0.8" fill="#eef8ff" opacity="0.9"/>
<circle cx="950.3" cy="705.7" r="1.4" fill="url(#drop)" stroke="#2a72b6" stroke-width="0.5"/>
<circle cx="445.5" cy="784.6" r="4.2" fill="url(#drop)" stroke="#2a72b6" stroke-width="0.9"/>
<circle cx="446.4" cy="785.8" r="1.3" fill="#eef8ff" opacity="0.9"/>
<circle cx="771.9" cy="860.3" r="3.0" fill="url(#drop)" stroke="#2a72b6" stroke-width="0.7"/>
<circle cx="772.5" cy="861.2" r="0.9" fill="#eef8ff" opacity="0.9"/>
<circle cx="1099.4" cy="592.4" r="2.5" fill="url(#drop)" stroke="#2a72b6" stroke-width="0.6"/>
<circle cx="1099.9" cy="593.1" r="0.8" fill="#eef8ff" opacity="0.9"/>
<circle cx="710.7" cy="911.1" r="3.6" fill="url(#drop)" stroke="#2a72b6" stroke-width="0.8"/>
<circle cx="711.5" cy="912.1" r="1.1" fill="#eef8ff" opacity="0.9"/>
<circle cx="324.4" cy="634.1" r="3.8" fill="url(#drop)" stroke="#2a72b6" stroke-width="0.8"/>
<circle cx="325.3" cy="635.1" r="1.1" fill="#eef8ff" opacity="0.9"/>
<circle cx="243.9" cy="611.9" r="1.8" fill="url(#drop)" stroke="#2a72b6" stroke-width="0.5"/>
<circle cx="689.8" cy="890.7" r="1.4" fill="url(#drop)" stroke="#2a72b6" stroke-width="0.5"/>
<circle cx="1110.1" cy="575.4" r="3.0" fill="url(#drop)" stroke="#2a72b6" stroke-width="0.7"/>
<circle cx="1110.7" cy="576.2" r="0.9" fill="#eef8ff" opacity="0.9"/>
<circle cx="1175.1" cy="511.5" r="3.2" fill="url(#drop)" stroke="#2a72b6" stroke-width="0.7"/>
<circle cx="1175.8" cy="512.4" r="1.0" fill="#eef8ff" opacity="0.9"/>
<circle cx="367.0" cy="695.9" r="3.2" fill="url(#drop)" stroke="#2a72b6" stroke-width="0.7"/>
<circle cx="367.7" cy="696.8" r="1.0" fill="#eef8ff" opacity="0.9"/>
<circle cx="977.1" cy="660.4" r="2.5" fill="url(#drop)" stroke="#2a72b6" stroke-width="0.6"/>
<circle cx="977.6" cy="661.1" r="0.8" fill="#eef8ff" opacity="0.9"/>
<circle cx="465.0" cy="757.8" r="3.2" fill="url(#drop)" stroke="#2a72b6" stroke-width="0.7"/>
<circle cx="465.7" cy="758.7" r="1.0" fill="#eef8ff" opacity="0.9"/>
<circle cx="470.4" cy="799.7" r="3.6" fill="url(#drop)" stroke="#2a72b6" stroke-width="0.8"/>
<circle cx="471.2" cy="800.7" r="1.1" fill="#eef8ff" opacity="0.9"/>
<circle cx="624.3" cy="897.9" r="3.2" fill="url(#drop)" stroke="#2a72b6" stroke-width="0.7"/>
<circle cx="625.0" cy="898.8" r="1.0" fill="#eef8ff" opacity="0.9"/>
<circle cx="558.6" cy="893.4" r="2.5" fill="url(#drop)" stroke="#2a72b6" stroke-width="0.6"/>
<circle cx="559.1" cy="894.1" r="0.8" fill="#eef8ff" opacity="0.9"/>
<circle cx="588.6" cy="902.5" r="3.2" fill="url(#drop)" stroke="#2a72b6" stroke-width="0.7"/>
<circle cx="589.3" cy="903.4" r="1.0" fill="#eef8ff" opacity="0.9"/>
<circle cx="516.9" cy="849.6" r="2.2" fill="url(#drop)" stroke="#2a72b6" stroke-width="0.5"/>
<circle cx="433.4" cy="724.2" r="3.8" fill="url(#drop)" stroke="#2a72b6" stroke-width="0.8"/>
<circle cx="434.3" cy="725.3" r="1.1" fill="#eef8ff" opacity="0.9"/>
<circle cx="839.4" cy="831.8" r="2.5" fill="url(#drop)" stroke="#2a72b6" stroke-width="0.6"/>
<circle cx="839.9" cy="832.5" r="0.8" fill="#eef8ff" opacity="0.9"/>
<circle cx="1145.4" cy="554.9" r="1.4" fill="url(#drop)" stroke="#2a72b6" stroke-width="0.5"/>
<circle cx="680.3" cy="984.3" r="1.4" fill="url(#drop)" stroke="#2a72b6" stroke-width="0.5"/>
<circle cx="726.9" cy="904.3" r="2.8" fill="url(#drop)" stroke="#2a72b6" stroke-width="0.6"/>
<circle cx="727.6" cy="905.1" r="0.8" fill="#eef8ff" opacity="0.9"/>
<circle cx="778.3" cy="810.6" r="3.8" fill="url(#drop)" stroke="#2a72b6" stroke-width="0.8"/>
<circle cx="779.2" cy="811.7" r="1.1" fill="#eef8ff" opacity="0.9"/>
<circle cx="1117.4" cy="615.3" r="3.0" fill="url(#drop)" stroke="#2a72b6" stroke-width="0.7"/>
<circle cx="1118.0" cy="616.1" r="0.9" fill="#eef8ff" opacity="0.9"/>
<circle cx="638.2" cy="974.7" r="3.4" fill="url(#drop)" stroke="#2a72b6" stroke-width="0.7"/>
<circle cx="639.0" cy="975.6" r="1.0" fill="#eef8ff" opacity="0.9"/>
<circle cx="621.9" cy="930.0" r="2.8" fill="url(#drop)" stroke="#2a72b6" stroke-width="0.6"/>
<circle cx="622.5" cy="930.8" r="0.8" fill="#eef8ff" opacity="0.9"/>
<circle cx="1125.1" cy="601.3" r="2.5" fill="url(#drop)" stroke="#2a72b6" stroke-width="0.6"/>
<circle cx="1125.7" cy="602.0" r="0.8" fill="#eef8ff" opacity="0.9"/>
<circle cx="385.9" cy="730.7" r="2.8" fill="url(#drop)" stroke="#2a72b6" stroke-width="0.6"/>
<circle cx="386.5" cy="731.5" r="0.8" fill="#eef8ff" opacity="0.9"/>
<circle cx="533.1" cy="800.0" r="3.4" fill="url(#drop)" stroke="#2a72b6" stroke-width="0.7"/>
<circle cx="533.8" cy="801.0" r="1.0" fill="#eef8ff" opacity="0.9"/>
<circle cx="804.8" cy="801.6" r="1.4" fill="url(#drop)" stroke="#2a72b6" stroke-width="0.5"/>
<circle cx="851.8" cy="822.3" r="2.8" fill="url(#drop)" stroke="#2a72b6" stroke-width="0.6"/>
<circle cx="852.4" cy="823.1" r="0.8" fill="#eef8ff" opacity="0.9"/>
<circle cx="815.0" cy="838.9" r="8.5" fill="url(#drop)" stroke="#2a72b6" stroke-width="1.9"/>
<circle cx="816.9" cy="841.3" r="2.5" fill="#eef8ff" opacity="0.9"/>
<circle cx="1031.9" cy="589.3" r="2.5" fill="url(#drop)" stroke="#2a72b6" stroke-width="0.6"/>
<circle cx="1032.5" cy="590.0" r="0.8" fill="#eef8ff" opacity="0.9"/>
<circle cx="1060.6" cy="639.8" r="3.2" fill="url(#drop)" stroke="#2a72b6" stroke-width="0.7"/>
<circle cx="1061.3" cy="640.7" r="1.0" fill="#eef8ff" opacity="0.9"/>
<circle cx="727.7" cy="890.9" r="2.8" fill="url(#drop)" stroke="#2a72b6" stroke-width="0.6"/>
<circle cx="728.4" cy="891.7" r="0.8" fill="#eef8ff" opacity="0.9"/>
<circle cx="1218.2" cy="505.0" r="3.0" fill="url(#drop)" stroke="#2a72b6" stroke-width="0.7"/>
<circle cx="1218.8" cy="505.9" r="0.9" fill="#eef8ff" opacity="0.9"/>
<circle cx="1139.8" cy="602.9" r="2.8" fill="url(#drop)" stroke="#2a72b6" stroke-width="0.6"/>
<circle cx="1140.4" cy="603.7" r="0.8" fill="#eef8ff" opacity="0.9"/>
<circle cx="1011.9" cy="634.9" r="4.2" fill="url(#drop)" stroke="#2a72b6" stroke-width="0.9"/>
<circle cx="1012.8" cy="636.0" r="1.3" fill="#eef8ff" opacity="0.9"/>
<circle cx="259.3" cy="635.3" r="4.0" fill="url(#drop)" stroke="#2a72b6" stroke-width="0.9"/>
<circle cx="260.2" cy="636.4" r="1.2" fill="#eef8ff" opacity="0.9"/>
<circle cx="597.8" cy="872.2" r="2.5" fill="url(#drop)" stroke="#2a72b6" stroke-width="0.6"/>
<circle cx="598.3" cy="872.9" r="0.8" fill="#eef8ff" opacity="0.9"/>
<circle cx="1192.6" cy="516.9" r="4.2" fill="url(#drop)" stroke="#2a72b6" stroke-width="0.9"/>
<circle cx="1193.5" cy="518.1" r="1.3" fill="#eef8ff" opacity="0.9"/>
<circle cx="1159.8" cy="583.3" r="2.5" fill="url(#drop)" stroke="#2a72b6" stroke-width="0.6"/>
<circle cx="1160.3" cy="584.0" r="0.8" fill="#eef8ff" opacity="0.9"/>
<circle cx="475.2" cy="757.9" r="2.5" fill="url(#drop)" stroke="#2a72b6" stroke-width="0.6"/>
<circle cx="475.8" cy="758.6" r="0.8" fill="#eef8ff" opacity="0.9"/>
<circle cx="630.0" cy="888.9" r="3.6" fill="url(#drop)" stroke="#2a72b6" stroke-width="0.8"/>
<circle cx="630.8" cy="890.0" r="1.1" fill="#eef8ff" opacity="0.9"/>
<circle cx="1175.3" cy="557.5" r="3.2" fill="url(#drop)" stroke="#2a72b6" stroke-width="0.7"/>
<circle cx="1176.0" cy="558.4" r="1.0" fill="#eef8ff" opacity="0.9"/>
<circle cx="1185.8" cy="547.1" r="1.4" fill="url(#drop)" stroke="#2a72b6" stroke-width="0.5"/>
<circle cx="675.4" cy="969.1" r="3.4" fill="url(#drop)" stroke="#2a72b6" stroke-width="0.7"/>
<circle cx="676.2" cy="970.0" r="1.0" fill="#eef8ff" opacity="0.9"/>
<circle cx="1150.7" cy="558.0" r="1.8" fill="url(#drop)" stroke="#2a72b6" stroke-width="0.5"/>
<circle cx="524.2" cy="805.7" r="1.4" fill="url(#drop)" stroke="#2a72b6" stroke-width="0.5"/>
<circle cx="887.2" cy="754.6" r="2.8" fill="url(#drop)" stroke="#2a72b6" stroke-width="0.6"/>
<circle cx="887.9" cy="755.3" r="0.8" fill="#eef8ff" opacity="0.9"/>
<circle cx="909.6" cy="708.0" r="1.8" fill="url(#drop)" stroke="#2a72b6" stroke-width="0.5"/>
<circle cx="1133.9" cy="572.4" r="3.4" fill="url(#drop)" stroke="#2a72b6" stroke-width="0.7"/>
<circle cx="1134.6" cy="573.4" r="1.0" fill="#eef8ff" opacity="0.9"/>
<circle cx="709.3" cy="923.3" r="3.2" fill="url(#drop)" stroke="#2a72b6" stroke-width="0.7"/>
<circle cx="710.1" cy="924.2" r="1.0" fill="#eef8ff" opacity="0.9"/>
<circle cx="329.4" cy="700.3" r="3.0" fill="url(#drop)" stroke="#2a72b6" stroke-width="0.7"/>
<circle cx="330.1" cy="701.2" r="0.9" fill="#eef8ff" opacity="0.9"/>
<circle cx="1145.7" cy="592.1" r="4.0" fill="url(#drop)" stroke="#2a72b6" stroke-width="0.9"/>
<circle cx="1146.5" cy="593.2" r="1.2" fill="#eef8ff" opacity="0.9"/>
<circle cx="985.9" cy="633.1" r="3.0" fill="url(#drop)" stroke="#2a72b6" stroke-width="0.7"/>
<circle cx="986.6" cy="634.0" r="0.9" fill="#eef8ff" opacity="0.9"/>
<circle cx="471.2" cy="740.6" r="4.0" fill="url(#drop)" stroke="#2a72b6" stroke-width="0.9"/>
<circle cx="472.1" cy="741.7" r="1.2" fill="#eef8ff" opacity="0.9"/>
<circle cx="1095.9" cy="587.6" r="1.4" fill="url(#drop)" stroke="#2a72b6" stroke-width="0.5"/>
<circle cx="392.0" cy="721.1" r="3.6" fill="url(#drop)" stroke="#2a72b6" stroke-width="0.8"/>
<circle cx="392.8" cy="722.1" r="1.1" fill="#eef8ff" opacity="0.9"/>
<circle cx="995.1" cy="666.7" r="4.0" fill="url(#drop)" stroke="#2a72b6" stroke-width="0.9"/>
<circle cx="996.0" cy="667.8" r="1.2" fill="#eef8ff" opacity="0.9"/>
<circle cx="1078.0" cy="586.0" r="1.4" fill="url(#drop)" stroke="#2a72b6" stroke-width="0.5"/>
<circle cx="1126.8" cy="524.3" r="3.4" fill="url(#drop)" stroke="#2a72b6" stroke-width="0.7"/>
<circle cx="1127.6" cy="525.3" r="1.0" fill="#eef8ff" opacity="0.9"/>
<circle cx="279.3" cy="601.5" r="4.2" fill="url(#drop)" stroke="#2a72b6" stroke-width="0.9"/>
<circle cx="280.2" cy="602.7" r="1.3" fill="#eef8ff" opacity="0.9"/>
<circle cx="638.0" cy="883.9" r="2.5" fill="url(#drop)" stroke="#2a72b6" stroke-width="0.6"/>
<circle cx="638.6" cy="884.6" r="0.8" fill="#eef8ff" opacity="0.9"/>
<circle cx="477.3" cy="825.2" r="5.6" fill="url(#drop)" stroke="#2a72b6" stroke-width="1.2"/>
<circle cx="478.5" cy="826.8" r="1.7" fill="#eef8ff" opacity="0.9"/>
<circle cx="573.0" cy="828.9" r="1.8" fill="url(#drop)" stroke="#2a72b6" stroke-width="0.5"/>
<circle cx="1183.5" cy="497.3" r="2.5" fill="url(#drop)" stroke="#2a72b6" stroke-width="0.6"/>
<circle cx="1184.0" cy="498.0" r="0.8" fill="#eef8ff" opacity="0.9"/>
<circle cx="676.8" cy="925.5" r="2.5" fill="url(#drop)" stroke="#2a72b6" stroke-width="0.6"/>
<circle cx="677.4" cy="926.2" r="0.8" fill="#eef8ff" opacity="0.9"/>
<circle cx="535.6" cy="815.0" r="1.8" fill="url(#drop)" stroke="#2a72b6" stroke-width="0.5"/>
<circle cx="754.9" cy="895.3" r="3.0" fill="url(#drop)" stroke="#2a72b6" stroke-width="0.7"/>
<circle cx="755.6" cy="896.1" r="0.9" fill="#eef8ff" opacity="0.9"/>
<circle cx="574.8" cy="915.1" r="1.8" fill="url(#drop)" stroke="#2a72b6" stroke-width="0.5"/>
<circle cx="1116.5" cy="543.7" r="3.0" fill="url(#drop)" stroke="#2a72b6" stroke-width="0.7"/>
<circle cx="1117.2" cy="544.5" r="0.9" fill="#eef8ff" opacity="0.9"/>
<circle cx="767.7" cy="841.8" r="4.0" fill="url(#drop)" stroke="#2a72b6" stroke-width="0.9"/>
<circle cx="768.6" cy="843.0" r="1.2" fill="#eef8ff" opacity="0.9"/>
<circle cx="932.4" cy="745.1" r="1.8" fill="url(#drop)" stroke="#2a72b6" stroke-width="0.5"/>
<circle cx="485.6" cy="814.7" r="3.8" fill="url(#drop)" stroke="#2a72b6" stroke-width="0.8"/>
<circle cx="486.4" cy="815.8" r="1.1" fill="#eef8ff" opacity="0.9"/>
<circle cx="458.7" cy="743.7" r="2.8" fill="url(#drop)" stroke="#2a72b6" stroke-width="0.6"/>
<circle cx="459.3" cy="744.5" r="0.8" fill="#eef8ff" opacity="0.9"/>
<circle cx="1145.1" cy="515.6" r="3.2" fill="url(#drop)" stroke="#2a72b6" stroke-width="0.7"/>
<circle cx="1145.8" cy="516.4" r="1.0" fill="#eef8ff" opacity="0.9"/>
<circle cx="717.3" cy="932.7" r="4.0" fill="url(#drop)" stroke="#2a72b6" stroke-width="0.9"/>
<circle cx="718.2" cy="933.9" r="1.2" fill="#eef8ff" opacity="0.9"/>
<circle cx="565.1" cy="894.5" r="1.8" fill="url(#drop)" stroke="#2a72b6" stroke-width="0.5"/>
<circle cx="676.3" cy="953.1" r="3.0" fill="url(#drop)" stroke="#2a72b6" stroke-width="0.7"/>
<circle cx="677.0" cy="953.9" r="0.9" fill="#eef8ff" opacity="0.9"/>
<circle cx="703.0" cy="968.8" r="2.2" fill="url(#drop)" stroke="#2a72b6" stroke-width="0.5"/>
<circle cx="1151.2" cy="587.5" r="1.4" fill="url(#drop)" stroke="#2a72b6" stroke-width="0.5"/>
<circle cx="1079.4" cy="636.4" r="5.6" fill="url(#drop)" stroke="#2a72b6" stroke-width="1.2"/>
<circle cx="1080.7" cy="638.0" r="1.7" fill="#eef8ff" opacity="0.9"/>
<circle cx="876.7" cy="766.2" r="2.2" fill="url(#drop)" stroke="#2a72b6" stroke-width="0.5"/>
<circle cx="579.2" cy="836.9" r="2.2" fill="url(#drop)" stroke="#2a72b6" stroke-width="0.5"/>
<circle cx="685.6" cy="921.2" r="2.8" fill="url(#drop)" stroke="#2a72b6" stroke-width="0.6"/>
<circle cx="686.2" cy="922.0" r="0.8" fill="#eef8ff" opacity="0.9"/>
<circle cx="1105.0" cy="558.4" r="2.8" fill="url(#drop)" stroke="#2a72b6" stroke-width="0.6"/>
<circle cx="1105.6" cy="559.2" r="0.8" fill="#eef8ff" opacity="0.9"/>
<circle cx="343.1" cy="636.4" r="3.2" fill="url(#drop)" stroke="#2a72b6" stroke-width="0.7"/>
<circle cx="343.8" cy="637.3" r="1.0" fill="#eef8ff" opacity="0.9"/>
<circle cx="691.4" cy="926.0" r="2.8" fill="url(#drop)" stroke="#2a72b6" stroke-width="0.6"/>
<circle cx="692.1" cy="926.8" r="0.8" fill="#eef8ff" opacity="0.9"/>
<circle cx="805.8" cy="855.8" r="3.4" fill="url(#drop)" stroke="#2a72b6" stroke-width="0.7"/>
<circle cx="806.6" cy="856.8" r="1.0" fill="#eef8ff" opacity="0.9"/>
<circle cx="854.0" cy="775.7" r="2.8" fill="url(#drop)" stroke="#2a72b6" stroke-width="0.6"/>
<circle cx="854.6" cy="776.5" r="0.8" fill="#eef8ff" opacity="0.9"/>
<circle cx="744.8" cy="888.9" r="1.4" fill="url(#drop)" stroke="#2a72b6" stroke-width="0.5"/>
<circle cx="777.2" cy="887.5" r="3.0" fill="url(#drop)" stroke="#2a72b6" stroke-width="0.7"/>
<circle cx="777.8" cy="888.4" r="0.9" fill="#eef8ff" opacity="0.9"/>
<circle cx="701.5" cy="899.4" r="4.2" fill="url(#drop)" stroke="#2a72b6" stroke-width="0.9"/>
<circle cx="702.4" cy="900.5" r="1.3" fill="#eef8ff" opacity="0.9"/>
<circle cx="307.1" cy="641.2" r="2.8" fill="url(#drop)" stroke="#2a72b6" stroke-width="0.6"/>
<circle cx="307.7" cy="642.0" r="0.8" fill="#eef8ff" opacity="0.9"/>
<circle cx="375.8" cy="701.4" r="3.4" fill="url(#drop)" stroke="#2a72b6" stroke-width="0.7"/>
<circle cx="376.5" cy="702.3" r="1.0" fill="#eef8ff" opacity="0.9"/>
<circle cx="936.4" cy="662.2" r="2.5" fill="url(#drop)" stroke="#2a72b6" stroke-width="0.6"/>
<circle cx="936.9" cy="662.9" r="0.8" fill="#eef8ff" opacity="0.9"/>
<circle cx="989.1" cy="623.4" r="2.8" fill="url(#drop)" stroke="#2a72b6" stroke-width="0.6"/>
<circle cx="989.7" cy="624.2" r="0.8" fill="#eef8ff" opacity="0.9"/>
<circle cx="242.9" cy="622.1" r="3.2" fill="url(#drop)" stroke="#2a72b6" stroke-width="0.7"/>
<circle cx="243.6" cy="623.0" r="1.0" fill="#eef8ff" opacity="0.9"/>
<circle cx="777.5" cy="847.4" r="3.6" fill="url(#drop)" stroke="#2a72b6" stroke-width="0.8"/>
<circle cx="778.3" cy="848.4" r="1.1" fill="#eef8ff" opacity="0.9"/>
<circle cx="1005.1" cy="683.3" r="2.2" fill="url(#drop)" stroke="#2a72b6" stroke-width="0.5"/>
<circle cx="421.7" cy="749.3" r="1.4" fill="url(#drop)" stroke="#2a72b6" stroke-width="0.5"/>
<circle cx="304.2" cy="654.8" r="1.4" fill="url(#drop)" stroke="#2a72b6" stroke-width="0.5"/>
<circle cx="1167.2" cy="530.1" r="2.2" fill="url(#drop)" stroke="#2a72b6" stroke-width="0.5"/>
<circle cx="301.5" cy="636.0" r="2.8" fill="url(#drop)" stroke="#2a72b6" stroke-width="0.6"/>
<circle cx="302.2" cy="636.8" r="0.8" fill="#eef8ff" opacity="0.9"/>
<circle cx="574.5" cy="900.2" r="3.0" fill="url(#drop)" stroke="#2a72b6" stroke-width="0.7"/>
<circle cx="575.2" cy="901.0" r="0.9" fill="#eef8ff" opacity="0.9"/>
<circle cx="385.5" cy="708.5" r="3.2" fill="url(#drop)" stroke="#2a72b6" stroke-width="0.7"/>
<circle cx="386.2" cy="709.4" r="1.0" fill="#eef8ff" opacity="0.9"/>
<circle cx="857.9" cy="763.8" r="1.8" fill="url(#drop)" stroke="#2a72b6" stroke-width="0.5"/>
<circle cx="1068.2" cy="586.6" r="5.6" fill="url(#drop)" stroke="#2a72b6" stroke-width="1.2"/>
<circle cx="1069.4" cy="588.2" r="1.7" fill="#eef8ff" opacity="0.9"/>
<circle cx="655.8" cy="909.9" r="3.2" fill="url(#drop)" stroke="#2a72b6" stroke-width="0.7"/>
<circle cx="656.5" cy="910.8" r="1.0" fill="#eef8ff" opacity="0.9"/>
<circle cx="340.7" cy="700.7" r="2.2" fill="url(#drop)" stroke="#2a72b6" stroke-width="0.5"/>
<circle cx="735.9" cy="893.1" r="1.8" fill="url(#drop)" stroke="#2a72b6" stroke-width="0.5"/>
<circle cx="1156.0" cy="534.1" r="5.6" fill="url(#drop)" stroke="#2a72b6" stroke-width="1.2"/>
<circle cx="1157.2" cy="535.6" r="1.7" fill="#eef8ff" opacity="0.9"/>
<circle cx="490.8" cy="790.9" r="3.2" fill="url(#drop)" stroke="#2a72b6" stroke-width="0.7"/>
<circle cx="491.5" cy="791.8" r="1.0" fill="#eef8ff" opacity="0.9"/>
<circle cx="429.8" cy="775.2" r="3.2" fill="url(#drop)" stroke="#2a72b6" stroke-width="0.7"/>
<circle cx="430.5" cy="776.1" r="1.0" fill="#eef8ff" opacity="0.9"/>
<circle cx="831.6" cy="847.8" r="3.2" fill="url(#drop)" stroke="#2a72b6" stroke-width="0.7"/>
<circle cx="832.3" cy="848.7" r="1.0" fill="#eef8ff" opacity="0.9"/>
<circle cx="1156.4" cy="544.4" r="2.2" fill="url(#drop)" stroke="#2a72b6" stroke-width="0.5"/>
<circle cx="613.7" cy="944.6" r="1.8" fill="url(#drop)" stroke="#2a72b6" stroke-width="0.5"/>
<circle cx="1036.2" cy="628.9" r="3.0" fill="url(#drop)" stroke="#2a72b6" stroke-width="0.7"/>
<circle cx="1036.9" cy="629.8" r="0.9" fill="#eef8ff" opacity="0.9"/>
<circle cx="1073.5" cy="599.6" r="2.8" fill="url(#drop)" stroke="#2a72b6" stroke-width="0.6"/>
<circle cx="1074.1" cy="600.3" r="0.8" fill="#eef8ff" opacity="0.9"/>
<circle cx="1100.8" cy="602.3" r="1.4" fill="url(#drop)" stroke="#2a72b6" stroke-width="0.5"/>
<circle cx="454.0" cy="789.5" r="2.8" fill="url(#drop)" stroke="#2a72b6" stroke-width="0.6"/>
<circle cx="454.6" cy="790.3" r="0.8" fill="#eef8ff" opacity="0.9"/>
<circle cx="718.9" cy="871.2" r="3.2" fill="url(#drop)" stroke="#2a72b6" stroke-width="0.7"/>
<circle cx="719.6" cy="872.1" r="1.0" fill="#eef8ff" opacity="0.9"/>
<circle cx="891.2" cy="726.0" r="3.4" fill="url(#drop)" stroke="#2a72b6" stroke-width="0.7"/>
<circle cx="891.9" cy="727.0" r="1.0" fill="#eef8ff" opacity="0.9"/>
<circle cx="586.0" cy="841.9" r="4.2" fill="url(#drop)" stroke="#2a72b6" stroke-width="0.9"/>
<circle cx="587.0" cy="843.0" r="1.3" fill="#eef8ff" opacity="0.9"/>
<circle cx="866.4" cy="747.6" r="3.4" fill="url(#drop)" stroke="#2a72b6" stroke-width="0.7"/>
<circle cx="867.2" cy="748.5" r="1.0" fill="#eef8ff" opacity="0.9"/>
<circle cx="793.5" cy="809.4" r="3.4" fill="url(#drop)" stroke="#2a72b6" stroke-width="0.7"/>
<circle cx="794.2" cy="810.3" r="1.0" fill="#eef8ff" opacity="0.9"/>
<circle cx="1061.3" cy="630.6" r="4.0" fill="url(#drop)" stroke="#2a72b6" stroke-width="0.9"/>
<circle cx="1062.2" cy="631.7" r="1.2" fill="#eef8ff" opacity="0.9"/>
<circle cx="1268.3" cy="525.1" r="3.2" fill="url(#drop)" stroke="#2a72b6" stroke-width="0.7"/>
<circle cx="1269.0" cy="526.0" r="1.0" fill="#eef8ff" opacity="0.9"/>
<circle cx="378.1" cy="674.5" r="2.5" fill="url(#drop)" stroke="#2a72b6" stroke-width="0.6"/>
<circle cx="378.6" cy="675.2" r="0.8" fill="#eef8ff" opacity="0.9"/>
<circle cx="1190.0" cy="553.7" r="1.8" fill="url(#drop)" stroke="#2a72b6" stroke-width="0.5"/>
<circle cx="740.4" cy="854.2" r="3.4" fill="url(#drop)" stroke="#2a72b6" stroke-width="0.7"/>
<circle cx="741.1" cy="855.2" r="1.0" fill="#eef8ff" opacity="0.9"/>
<circle cx="1040.6" cy="656.5" r="4.2" fill="url(#drop)" stroke="#2a72b6" stroke-width="0.9"/>
<circle cx="1041.5" cy="657.6" r="1.3" fill="#eef8ff" opacity="0.9"/>
<circle cx="1148.9" cy="548.7" r="2.5" fill="url(#drop)" stroke="#2a72b6" stroke-width="0.6"/>
<circle cx="1149.5" cy="549.4" r="0.8" fill="#eef8ff" opacity="0.9"/>
<circle cx="559.6" cy="909.9" r="1.4" fill="url(#drop)" stroke="#2a72b6" stroke-width="0.5"/>
<circle cx="1234.8" cy="513.5" r="3.2" fill="url(#drop)" stroke="#2a72b6" stroke-width="0.7"/>
<circle cx="1235.5" cy="514.4" r="1.0" fill="#eef8ff" opacity="0.9"/>
<circle cx="782.5" cy="873.6" r="2.8" fill="url(#drop)" stroke="#2a72b6" stroke-width="0.6"/>
<circle cx="783.1" cy="874.4" r="0.8" fill="#eef8ff" opacity="0.9"/>
<circle cx="549.0" cy="842.0" r="3.0" fill="url(#drop)" stroke="#2a72b6" stroke-width="0.7"/>
<circle cx="549.6" cy="842.9" r="0.9" fill="#eef8ff" opacity="0.9"/>
<circle cx="1061.4" cy="604.7" r="4.0" fill="url(#drop)" stroke="#2a72b6" stroke-width="0.9"/>
<circle cx="1062.3" cy="605.8" r="1.2" fill="#eef8ff" opacity="0.9"/>
<circle cx="518.4" cy="830.4" r="4.0" fill="url(#drop)" stroke="#2a72b6" stroke-width="0.9"/>
<circle cx="519.2" cy="831.5" r="1.2" fill="#eef8ff" opacity="0.9"/>
<circle cx="444.8" cy="741.9" r="3.4" fill="url(#drop)" stroke="#2a72b6" stroke-width="0.7"/>
<circle cx="445.6" cy="742.9" r="1.0" fill="#eef8ff" opacity="0.9"/>
<circle cx="296.2" cy="622.9" r="1.4" fill="url(#drop)" stroke="#2a72b6" stroke-width="0.5"/>
<circle cx="527.5" cy="821.5" r="3.8" fill="url(#drop)" stroke="#2a72b6" stroke-width="0.8"/>
<circle cx="528.4" cy="822.6" r="1.1" fill="#eef8ff" opacity="0.9"/>
<circle cx="422.7" cy="732.3" r="3.0" fill="url(#drop)" stroke="#2a72b6" stroke-width="0.7"/>
<circle cx="423.4" cy="733.1" r="0.9" fill="#eef8ff" opacity="0.9"/>
<circle cx="1162.0" cy="571.3" r="3.2" fill="url(#drop)" stroke="#2a72b6" stroke-width="0.7"/>
<circle cx="1162.7" cy="572.2" r="1.0" fill="#eef8ff" opacity="0.9"/>
<circle cx="1170.2" cy="503.9" r="2.8" fill="url(#drop)" stroke="#2a72b6" stroke-width="0.6"/>
<circle cx="1170.8" cy="504.7" r="0.8" fill="#eef8ff" opacity="0.9"/>
<circle cx="302.4" cy="661.8" r="3.6" fill="url(#drop)" stroke="#2a72b6" stroke-width="0.8"/>
<circle cx="303.2" cy="662.8" r="1.1" fill="#eef8ff" opacity="0.9"/>
<circle cx="797.5" cy="850.5" r="2.5" fill="url(#drop)" stroke="#2a72b6" stroke-width="0.6"/>
<circle cx="798.1" cy="851.2" r="0.8" fill="#eef8ff" opacity="0.9"/>
<circle cx="846.5" cy="792.1" r="4.2" fill="url(#drop)" stroke="#2a72b6" stroke-width="0.9"/>
<circle cx="847.4" cy="793.3" r="1.3" fill="#eef8ff" opacity="0.9"/>
<circle cx="763.4" cy="913.0" r="3.0" fill="url(#drop)" stroke="#2a72b6" stroke-width="0.7"/>
<circle cx="764.0" cy="913.8" r="0.9" fill="#eef8ff" opacity="0.9"/>
<circle cx="1202.8" cy="503.3" r="3.0" fill="url(#drop)" stroke="#2a72b6" stroke-width="0.7"/>
<circle cx="1203.5" cy="504.1" r="0.9" fill="#eef8ff" opacity="0.9"/>
<circle cx="973.8" cy="722.0" r="2.8" fill="url(#drop)" stroke="#2a72b6" stroke-width="0.6"/>
<circle cx="974.5" cy="722.8" r="0.8" fill="#eef8ff" opacity="0.9"/>
<circle cx="556.9" cy="887.1" r="2.2" fill="url(#drop)" stroke="#2a72b6" stroke-width="0.5"/>
<circle cx="1044.5" cy="617.7" r="3.2" fill="url(#drop)" stroke="#2a72b6" stroke-width="0.7"/>
<circle cx="1045.2" cy="618.6" r="1.0" fill="#eef8ff" opacity="0.9"/>
<circle cx="967.7" cy="685.3" r="3.0" fill="url(#drop)" stroke="#2a72b6" stroke-width="0.7"/>
<circle cx="968.4" cy="686.1" r="0.9" fill="#eef8ff" opacity="0.9"/>
<circle cx="280.7" cy="628.0" r="2.5" fill="url(#drop)" stroke="#2a72b6" stroke-width="0.6"/>
<circle cx="281.2" cy="628.7" r="0.8" fill="#eef8ff" opacity="0.9"/>
<circle cx="1259.4" cy="524.5" r="2.5" fill="url(#drop)" stroke="#2a72b6" stroke-width="0.6"/>
<circle cx="1259.9" cy="525.2" r="0.8" fill="#eef8ff" opacity="0.9"/>
<circle cx="626.0" cy="957.6" r="3.6" fill="url(#drop)" stroke="#2a72b6" stroke-width="0.8"/>
<circle cx="626.8" cy="958.6" r="1.1" fill="#eef8ff" opacity="0.9"/>
<circle cx="463.1" cy="731.3" r="1.8" fill="url(#drop)" stroke="#2a72b6" stroke-width="0.5"/>
<circle cx="554.6" cy="858.4" r="2.8" fill="url(#drop)" stroke="#2a72b6" stroke-width="0.6"/>
<circle cx="555.2" cy="859.1" r="0.8" fill="#eef8ff" opacity="0.9"/>
<circle cx="436.0" cy="711.3" r="3.6" fill="url(#drop)" stroke="#2a72b6" stroke-width="0.8"/>
<circle cx="436.8" cy="712.3" r="1.1" fill="#eef8ff" opacity="0.9"/>
<circle cx="448.1" cy="762.2" r="1.4" fill="url(#drop)" stroke="#2a72b6" stroke-width="0.5"/>
<circle cx="302.6" cy="616.5" r="2.2" fill="url(#drop)" stroke="#2a72b6" stroke-width="0.5"/>
<circle cx="622.9" cy="912.5" r="2.2" fill="url(#drop)" stroke="#2a72b6" stroke-width="0.5"/>
<circle cx="1292.1" cy="516.2" r="4.2" fill="url(#drop)" stroke="#2a72b6" stroke-width="0.9"/>
<circle cx="1293.1" cy="517.4" r="1.3" fill="#eef8ff" opacity="0.9"/>
<circle cx="386.7" cy="699.1" r="2.8" fill="url(#drop)" stroke="#2a72b6" stroke-width="0.6"/>
<circle cx="387.3" cy="699.9" r="0.8" fill="#eef8ff" opacity="0.9"/>
<circle cx="275.0" cy="655.9" r="2.2" fill="url(#drop)" stroke="#2a72b6" stroke-width="0.5"/>
<circle cx="519.3" cy="792.7" r="3.2" fill="url(#drop)" stroke="#2a72b6" stroke-width="0.7"/>
<circle cx="520.0" cy="793.6" r="1.0" fill="#eef8ff" opacity="0.9"/>
<circle cx="963.2" cy="732.9" r="3.2" fill="url(#drop)" stroke="#2a72b6" stroke-width="0.7"/>
<circle cx="963.9" cy="733.8" r="1.0" fill="#eef8ff" opacity="0.9"/>
<circle cx="420.2" cy="740.2" r="2.2" fill="url(#drop)" stroke="#2a72b6" stroke-width="0.5"/>
<circle cx="1181.2" cy="578.6" r="1.4" fill="url(#drop)" stroke="#2a72b6" stroke-width="0.5"/>
<circle cx="712.9" cy="948.9" r="3.8" fill="url(#drop)" stroke="#2a72b6" stroke-width="0.8"/>
<circle cx="713.7" cy="950.0" r="1.1" fill="#eef8ff" opacity="0.9"/>
<circle cx="337.8" cy="694.8" r="1.4" fill="url(#drop)" stroke="#2a72b6" stroke-width="0.5"/>
<circle cx="505.1" cy="803.5" r="3.2" fill="url(#drop)" stroke="#2a72b6" stroke-width="0.7"/>
<circle cx="505.8" cy="804.4" r="1.0" fill="#eef8ff" opacity="0.9"/>
<circle cx="1117.7" cy="581.8" r="1.8" fill="url(#drop)" stroke="#2a72b6" stroke-width="0.5"/>
<circle cx="553.9" cy="900.5" r="4.2" fill="url(#drop)" stroke="#2a72b6" stroke-width="0.9"/>
<circle cx="554.8" cy="901.7" r="1.3" fill="#eef8ff" opacity="0.9"/>
<circle cx="880.2" cy="791.8" r="4.2" fill="url(#drop)" stroke="#2a72b6" stroke-width="0.9"/>
<circle cx="881.1" cy="793.0" r="1.3" fill="#eef8ff" opacity="0.9"/>
<circle cx="718.6" cy="906.5" r="3.0" fill="url(#drop)" stroke="#2a72b6" stroke-width="0.7"/>
<circle cx="719.3" cy="907.3" r="0.9" fill="#eef8ff" opacity="0.9"/>
<circle cx="986.3" cy="691.4" r="1.4" fill="url(#drop)" stroke="#2a72b6" stroke-width="0.5"/>
<circle cx="339.7" cy="628.9" r="3.2" fill="url(#drop)" stroke="#2a72b6" stroke-width="0.7"/>
<circle cx="340.4" cy="629.8" r="1.0" fill="#eef8ff" opacity="0.9"/>
<circle cx="1086.6" cy="574.6" r="3.0" fill="url(#drop)" stroke="#2a72b6" stroke-width="0.7"/>
<circle cx="1087.3" cy="575.5" r="0.9" fill="#eef8ff" opacity="0.9"/>
<circle cx="351.5" cy="728.3" r="2.2" fill="url(#drop)" stroke="#2a72b6" stroke-width="0.5"/>
<circle cx="363.2" cy="729.1" r="2.2" fill="url(#drop)" stroke="#2a72b6" stroke-width="0.5"/>
<circle cx="597.0" cy="911.4" r="4.0" fill="url(#drop)" stroke="#2a72b6" stroke-width="0.9"/>
<circle cx="597.9" cy="912.6" r="1.2" fill="#eef8ff" opacity="0.9"/>
<circle cx="820.3" cy="793.7" r="3.8" fill="url(#drop)" stroke="#2a72b6" stroke-width="0.8"/>
<circle cx="821.1" cy="794.8" r="1.1" fill="#eef8ff" opacity="0.9"/>
<circle cx="1182.2" cy="521.1" r="2.2" fill="url(#drop)" stroke="#2a72b6" stroke-width="0.5"/>
<circle cx="512.2" cy="781.2" r="3.2" fill="url(#drop)" stroke="#2a72b6" stroke-width="0.7"/>
<circle cx="512.9" cy="782.1" r="1.0" fill="#eef8ff" opacity="0.9"/>
<circle cx="556.9" cy="820.3" r="3.0" fill="url(#drop)" stroke="#2a72b6" stroke-width="0.7"/>
<circle cx="557.5" cy="821.1" r="0.9" fill="#eef8ff" opacity="0.9"/>
<circle cx="378.7" cy="707.8" r="1.4" fill="url(#drop)" stroke="#2a72b6" stroke-width="0.5"/>
<circle cx="1155.7" cy="502.2" r="3.0" fill="url(#drop)" stroke="#2a72b6" stroke-width="0.7"/>
<circle cx="1156.4" cy="503.1" r="0.9" fill="#eef8ff" opacity="0.9"/>
<circle cx="1246.7" cy="523.3" r="4.2" fill="url(#drop)" stroke="#2a72b6" stroke-width="0.9"/>
<circle cx="1247.6" cy="524.5" r="1.3" fill="#eef8ff" opacity="0.9"/>
<circle cx="1019.4" cy="688.6" r="2.8" fill="url(#drop)" stroke="#2a72b6" stroke-width="0.6"/>
<circle cx="1020.0" cy="689.4" r="0.8" fill="#eef8ff" opacity="0.9"/>
<circle cx="983.5" cy="699.4" r="4.2" fill="url(#drop)" stroke="#2a72b6" stroke-width="0.9"/>
<circle cx="984.5" cy="700.6" r="1.3" fill="#eef8ff" opacity="0.9"/>
<circle cx="1089.9" cy="558.0" r="3.0" fill="url(#drop)" stroke="#2a72b6" stroke-width="0.7"/>
<circle cx="1090.6" cy="558.8" r="0.9" fill="#eef8ff" opacity="0.9"/>
<circle cx="389.2" cy="738.4" r="1.4" fill="url(#drop)" stroke="#2a72b6" stroke-width="0.5"/>
<circle cx="461.3" cy="766.9" r="2.2" fill="url(#drop)" stroke="#2a72b6" stroke-width="0.5"/>
<circle cx="828.8" cy="764.2" r="3.2" fill="url(#drop)" stroke="#2a72b6" stroke-width="0.7"/>
<circle cx="829.5" cy="765.1" r="1.0" fill="#eef8ff" opacity="0.9"/>
<circle cx="1016.5" cy="625.9" r="2.2" fill="url(#drop)" stroke="#2a72b6" stroke-width="0.5"/>
<circle cx="397.7" cy="709.0" r="2.2" fill="url(#drop)" stroke="#2a72b6" stroke-width="0.5"/>
<circle cx="935.2" cy="702.0" r="3.0" fill="url(#drop)" stroke="#2a72b6" stroke-width="0.7"/>
<circle cx="935.8" cy="702.8" r="0.9" fill="#eef8ff" opacity="0.9"/>
<circle cx="1025.5" cy="626.0" r="4.2" fill="url(#drop)" stroke="#2a72b6" stroke-width="0.9"/>
<circle cx="1026.4" cy="627.2" r="1.3" fill="#eef8ff" opacity="0.9"/>
<circle cx="637.2" cy="924.6" r="3.0" fill="url(#drop)" stroke="#2a72b6" stroke-width="0.7"/>
<circle cx="637.8" cy="925.5" r="0.9" fill="#eef8ff" opacity="0.9"/>
<circle cx="702.7" cy="912.7" r="2.2" fill="url(#drop)" stroke="#2a72b6" stroke-width="0.5"/>
<circle cx="1042.8" cy="609.3" r="3.0" fill="url(#drop)" stroke="#2a72b6" stroke-width="0.7"/>
<circle cx="1043.5" cy="610.1" r="0.9" fill="#eef8ff" opacity="0.9"/>
<circle cx="1125.5" cy="592.5" r="3.2" fill="url(#drop)" stroke="#2a72b6" stroke-width="0.7"/>
<circle cx="1126.2" cy="593.3" r="1.0" fill="#eef8ff" opacity="0.9"/>
<circle cx="541.8" cy="885.6" r="3.2" fill="url(#drop)" stroke="#2a72b6" stroke-width="0.7"/>
<circle cx="542.5" cy="886.5" r="1.0" fill="#eef8ff" opacity="0.9"/>
<circle cx="1126.1" cy="551.9" r="3.0" fill="url(#drop)" stroke="#2a72b6" stroke-width="0.7"/>
<circle cx="1126.8" cy="552.7" r="0.9" fill="#eef8ff" opacity="0.9"/>
<circle cx="1101.9" cy="549.7" r="1.8" fill="url(#drop)" stroke="#2a72b6" stroke-width="0.5"/>
<circle cx="594.4" cy="936.4" r="3.8" fill="url(#drop)" stroke="#2a72b6" stroke-width="0.8"/>
<circle cx="595.3" cy="937.4" r="1.1" fill="#eef8ff" opacity="0.9"/>
<circle cx="454.7" cy="764.4" r="2.8" fill="url(#drop)" stroke="#2a72b6" stroke-width="0.6"/>
<circle cx="455.3" cy="765.1" r="0.8" fill="#eef8ff" opacity="0.9"/>
<circle cx="925.9" cy="714.7" r="2.2" fill="url(#drop)" stroke="#2a72b6" stroke-width="0.5"/>
<circle cx="542.6" cy="805.5" r="3.2" fill="url(#drop)" stroke="#2a72b6" stroke-width="0.7"/>
<circle cx="543.3" cy="806.4" r="1.0" fill="#eef8ff" opacity="0.9"/>
<circle cx="1051.0" cy="577.9" r="4.2" fill="url(#drop)" stroke="#2a72b6" stroke-width="0.9"/>
<circle cx="1051.9" cy="579.0" r="1.3" fill="#eef8ff" opacity="0.9"/>
<circle cx="531.7" cy="839.6" r="3.2" fill="url(#drop)" stroke="#2a72b6" stroke-width="0.7"/>
<circle cx="532.4" cy="840.5" r="1.0" fill="#eef8ff" opacity="0.9"/>
<circle cx="650.4" cy="904.0" r="1.8" fill="url(#drop)" stroke="#2a72b6" stroke-width="0.5"/>
<circle cx="863.9" cy="802.8" r="1.8" fill="url(#drop)" stroke="#2a72b6" stroke-width="0.5"/>
<circle cx="1190.1" cy="570.0" r="2.8" fill="url(#drop)" stroke="#2a72b6" stroke-width="0.6"/>
<circle cx="1190.7" cy="570.8" r="0.8" fill="#eef8ff" opacity="0.9"/>
<circle cx="648.2" cy="967.5" r="3.0" fill="url(#drop)" stroke="#2a72b6" stroke-width="0.7"/>
<circle cx="648.9" cy="968.3" r="0.9" fill="#eef8ff" opacity="0.9"/>
<circle cx="690.6" cy="956.8" r="3.2" fill="url(#drop)" stroke="#2a72b6" stroke-width="0.7"/>
<circle cx="691.3" cy="957.7" r="1.0" fill="#eef8ff" opacity="0.9"/>
<circle cx="1026.2" cy="635.8" r="1.4" fill="url(#drop)" stroke="#2a72b6" stroke-width="0.5"/>
<circle cx="504.1" cy="812.9" r="3.0" fill="url(#drop)" stroke="#2a72b6" stroke-width="0.7"/>
<circle cx="504.7" cy="813.7" r="0.9" fill="#eef8ff" opacity="0.9"/>
<circle cx="1110.4" cy="564.6" r="3.4" fill="url(#drop)" stroke="#2a72b6" stroke-width="0.7"/>
<circle cx="1111.1" cy="565.5" r="1.0" fill="#eef8ff" opacity="0.9"/>
<circle cx="1132.6" cy="531.0" r="3.8" fill="url(#drop)" stroke="#2a72b6" stroke-width="0.8"/>
<circle cx="1133.4" cy="532.1" r="1.1" fill="#eef8ff" opacity="0.9"/>
<circle cx="408.8" cy="774.4" r="3.8" fill="url(#drop)" stroke="#2a72b6" stroke-width="0.8"/>
<circle cx="409.6" cy="775.5" r="1.1" fill="#eef8ff" opacity="0.9"/>
<circle cx="735.8" cy="916.3" r="3.8" fill="url(#drop)" stroke="#2a72b6" stroke-width="0.8"/>
<circle cx="736.6" cy="917.3" r="1.1" fill="#eef8ff" opacity="0.9"/>
<circle cx="312.8" cy="622.1" r="2.5" fill="url(#drop)" stroke="#2a72b6" stroke-width="0.6"/>
<circle cx="313.3" cy="622.8" r="0.8" fill="#eef8ff" opacity="0.9"/>
<circle cx="935.8" cy="728.7" r="4.0" fill="url(#drop)" stroke="#2a72b6" stroke-width="0.9"/>
<circle cx="936.7" cy="729.9" r="1.2" fill="#eef8ff" opacity="0.9"/>
<circle cx="981.3" cy="680.6" r="3.2" fill="url(#drop)" stroke="#2a72b6" stroke-width="0.7"/>
<circle cx="982.0" cy="681.5" r="1.0" fill="#eef8ff" opacity="0.9"/>
<circle cx="1004.5" cy="669.6" r="2.8" fill="url(#drop)" stroke="#2a72b6" stroke-width="0.6"/>
<circle cx="1005.1" cy="670.4" r="0.8" fill="#eef8ff" opacity="0.9"/>
<circle cx="1031.0" cy="597.4" r="2.8" fill="url(#drop)" stroke="#2a72b6" stroke-width="0.6"/>
<circle cx="1031.6" cy="598.2" r="0.8" fill="#eef8ff" opacity="0.9"/>
<circle cx="897.2" cy="786.0" r="2.5" fill="url(#drop)" stroke="#2a72b6" stroke-width="0.6"/>
<circle cx="897.8" cy="786.7" r="0.8" fill="#eef8ff" opacity="0.9"/>
</g>
<path d="M200.0,499.0 L204,507 L671.0,906.5 C675.8,901.2 678.3,895.8 700.0,874.7 C721.7,853.6 760.6,817.5 801.3,780.0 C842.0,742.5 902.5,685.3 944.0,650.0 C985.5,614.7 1015.7,593.8 1050.0,568.0 C1084.3,542.2 1126.9,510.6 1150.0,495.0 C1173.1,479.4 1175.4,482.2 1188.7,474.7 C1202.0,467.2 1218.7,456.3 1230.0,450.0 C1241.3,443.7 1247.9,440.7 1256.7,436.7 C1265.5,432.7 1274.1,429.3 1283.0,426.0 C1291.9,422.7 1300.8,419.2 1310.0,416.7 C1319.2,414.1 1333.3,411.7 1338.0,410.7 L783.0,207.0 Z" fill="#ccd9df"/>
<path d="M200.0,499.0 L204,507 L671.0,906.5 C675.8,901.2 678.3,895.8 700.0,874.7 C721.7,853.6 760.6,817.5 801.3,780.0 C842.0,742.5 902.5,685.3 944.0,650.0 C985.5,614.7 1015.7,593.8 1050.0,568.0 C1084.3,542.2 1126.9,510.6 1150.0,495.0 C1173.1,479.4 1175.4,482.2 1188.7,474.7 C1202.0,467.2 1218.7,456.3 1230.0,450.0 C1241.3,443.7 1247.9,440.7 1256.7,436.7 C1265.5,432.7 1274.1,429.3 1283.0,426.0 C1291.9,422.7 1300.8,419.2 1310.0,416.7 C1319.2,414.1 1333.3,411.7 1338.0,410.7 L783.0,207.0 Z" fill="url(#grayG)" mask="url(#fadeM)"/>
<path d="M200,499 L204,507 L671,906.5 C675.8,901.2 678.3,895.8 700.0,874.7 C721.7,853.6 760.6,817.5 801.3,780.0 C842.0,742.5 902.5,685.3 944.0,650.0 C985.5,614.7 1015.7,593.8 1050.0,568.0 C1084.3,542.2 1126.9,510.6 1150.0,495.0 C1173.1,479.4 1175.4,482.2 1188.7,474.7 C1202.0,467.2 1218.7,456.3 1230.0,450.0 C1241.3,443.7 1247.9,440.7 1256.7,436.7 C1265.5,432.7 1274.1,429.3 1283.0,426.0 C1291.9,422.7 1300.8,419.2 1310.0,416.7 C1319.2,414.1 1333.3,411.7 1338.0,410.7" fill="none" stroke="#e6ebed" stroke-width="1.6" opacity="0.8"/>
<polygon points="820,658 900,598 926,636 846,700" fill="#e6eaed" opacity="0.75"/>
<clipPath id="lbClip"><path d="M223.0,393.0 L681.5,748.0 C694.6,737.8 736.9,705.6 760.0,687.1 C783.1,668.6 796.3,654.9 820.0,636.9 C843.7,618.8 877.0,595.9 902.0,578.8 C927.0,561.6 945.3,549.5 970.0,534.0 C994.7,518.5 1020.0,503.1 1050.0,486.0 C1080.0,468.9 1128.9,442.7 1150.0,431.1 C1171.1,419.6 1167.8,421.3 1176.7,416.7 C1185.6,412.2 1194.4,407.9 1203.3,403.8 C1212.2,399.8 1221.1,395.8 1230.0,392.4 C1238.9,389.1 1247.2,386.2 1256.7,383.5 C1266.2,380.8 1276.5,378.7 1287.0,376.2 C1297.5,373.7 1314.1,369.8 1319.5,368.5 L1200,328.7 L1000,345 L600,335 L400,306.3 Z"/></clipPath>
<path d="M223.0,393.0 L223,410.5 L682,758.5 C695.0,748.8 737.0,717.8 760.0,700.0 C783.0,682.2 796.3,669.2 820.0,652.0 C843.7,634.8 877.0,613.3 902.0,597.0 C927.0,580.7 945.3,569.2 970.0,554.0 C994.7,538.8 1020.0,523.3 1050.0,506.0 C1080.0,488.7 1128.9,461.8 1150.0,450.0 C1171.1,438.2 1167.8,439.8 1176.7,435.0 C1185.6,430.2 1194.4,425.8 1203.3,421.5 C1212.2,417.2 1221.1,413.1 1230.0,409.5 C1238.9,405.9 1247.2,402.9 1256.7,400.0 C1266.2,397.1 1276.3,394.8 1287.0,392.0 C1297.7,389.2 1315.3,384.8 1321.0,383.3 L1319.5,368.5 L1200,328.7 L1000,345 L600,335 L400,306.3 Z" fill="#dce9ef"/>
<path d="M223.0,393.0 L681.5,748.0 C694.6,737.8 736.9,705.6 760.0,687.1 C783.1,668.6 796.3,654.9 820.0,636.9 C843.7,618.8 877.0,595.9 902.0,578.8 C927.0,561.6 945.3,549.5 970.0,534.0 C994.7,518.5 1020.0,503.1 1050.0,486.0 C1080.0,468.9 1128.9,442.7 1150.0,431.1 C1171.1,419.6 1167.8,421.3 1176.7,416.7 C1185.6,412.2 1194.4,407.9 1203.3,403.8 C1212.2,399.8 1221.1,395.8 1230.0,392.4 C1238.9,389.1 1247.2,386.2 1256.7,383.5 C1266.2,380.8 1276.5,378.7 1287.0,376.2 C1297.5,373.7 1314.1,369.8 1319.5,368.5 L1200,328.7 L1000,345 L600,335 L400,306.3 Z" fill="#d7e8f0"/>
<g clip-path="url(#lbClip)" fill="none" stroke="#f6fbfd" stroke-opacity="0.55" stroke-width="2.2" stroke-linecap="round">
<path d="M713.8,220.5 C715.9,220.3 722.4,219.9 726.5,219.5 C730.5,219.1 734.5,218.7 738.2,218.1 C741.9,217.6 745.5,217.0 748.9,216.4 C752.3,215.7 755.5,215.0 758.5,214.3 C761.6,213.5 764.4,212.6 767.2,211.8 C769.9,210.9 772.5,209.9 774.9,209.0 C777.4,208.0 780.8,206.5 782.0,206.0"/>
<path d="M923.1,187.2 C925.5,187.3 932.8,187.7 937.5,187.9 C942.3,188.1 947.0,188.3 951.6,188.5 C956.2,188.6 960.7,188.8 965.1,188.9 C969.4,189.0 973.7,189.1 977.8,189.1 C981.8,189.1 987.5,189.0 989.5,189.0"/>
<path d="M231.7,387.2 C234.0,386.8 240.9,385.9 245.3,385.1 C249.7,384.3 254.0,383.4 258.1,382.4 C262.2,381.4 266.2,380.3 270.0,379.1 C273.8,377.8 277.4,376.5 280.8,375.0 C284.3,373.5 287.5,371.9 290.6,370.2 C293.7,368.5 296.6,366.6 299.4,364.7 C302.2,362.8 304.8,360.8 307.3,358.7 C309.8,356.6 312.2,354.4 314.5,352.2 C316.8,350.0 320.0,346.6 321.1,345.5"/>
<path d="M454.4,296.0 C456.8,295.8 464.1,295.4 468.9,295.0 C473.6,294.7 478.4,294.4 483.0,293.9 C487.6,293.5 492.2,293.0 496.6,292.5 C501.0,291.9 505.3,291.3 509.4,290.6 C513.5,289.9 517.5,289.1 521.3,288.2 C525.1,287.3 528.7,286.3 532.1,285.2 C535.6,284.1 538.8,283.0 541.9,281.7 C545.0,280.5 547.9,279.1 550.7,277.7 C553.5,276.3 556.1,274.8 558.6,273.3 C561.1,271.8 563.4,270.2 565.7,268.6 C568.0,267.0 570.2,265.4 572.4,263.7 C574.6,262.1 576.7,260.5 578.9,258.9 C581.0,257.2 583.1,255.6 585.3,254.1 C587.6,252.5 591.0,250.3 592.1,249.6"/>
<path d="M663.1,231.7 C665.4,231.6 672.2,231.2 676.9,231.0 C681.6,230.8 686.4,230.7 691.2,230.5 C696.0,230.4 700.9,230.3 705.7,230.2 C710.5,230.1 715.4,230.0 720.1,229.9 C724.9,229.7 729.7,229.6 734.3,229.4 C738.9,229.2 743.5,229.0 747.9,228.7 C752.3,228.4 756.6,228.1 760.7,227.7 C764.8,227.3 768.8,226.9 772.6,226.3 C776.3,225.8 780.0,225.2 783.4,224.6 C786.8,223.9 790.1,223.2 793.2,222.5 C796.3,221.7 799.2,220.9 802.0,220.0 C804.7,219.1 807.3,218.2 809.9,217.2 C812.4,216.3 814.7,215.3 817.0,214.2 C819.3,213.2 821.5,212.2 823.7,211.2 C825.9,210.1 828.0,209.1 830.1,208.1 C832.3,207.1 834.4,206.0 836.6,205.1 C838.8,204.1 841.1,203.2 843.4,202.3 C845.8,201.4 848.2,200.6 850.8,199.8 C853.4,199.0 856.0,198.3 858.9,197.7 C861.8,197.0 864.8,196.5 868.0,196.0 C871.2,195.5 874.5,195.0 878.1,194.7 C881.6,194.3 885.3,194.1 889.2,193.9 C893.1,193.7 897.2,193.6 901.4,193.5 C905.6,193.4 910.0,193.4 914.4,193.5 C918.9,193.5 923.5,193.6 928.2,193.8 C932.9,193.9 937.7,194.1 942.5,194.3 C947.3,194.5 952.1,194.7 957.0,195.0 C961.8,195.2 966.7,195.5 971.4,195.7 C976.2,195.9 980.9,196.1 985.6,196.3 C990.2,196.5 994.8,196.7 999.2,196.8 C1003.5,197.0 1009.8,197.1 1012.0,197.1"/>
<path d="M237.0,403.8 C239.4,403.6 246.7,402.9 251.5,402.3 C256.3,401.8 261.0,401.2 265.7,400.6 C270.3,399.9 274.9,399.2 279.4,398.4 C283.8,397.6 288.1,396.7 292.3,395.7 C296.5,394.7 300.5,393.6 304.3,392.4 C308.2,391.1 311.8,389.8 315.3,388.3 C318.8,386.8 322.1,385.2 325.3,383.5 C328.4,381.8 331.4,379.9 334.2,378.0 C337.0,376.1 339.6,374.0 342.2,371.9 C344.7,369.8 347.1,367.6 349.4,365.4 C351.8,363.2 354.0,360.9 356.2,358.6 C358.4,356.4 360.5,354.0 362.6,351.8 C364.8,349.5 366.9,347.2 369.1,345.0 C371.3,342.8 373.5,340.6 375.8,338.5 C378.2,336.5 380.5,334.4 383.1,332.5 C385.6,330.6 388.3,328.8 391.1,327.1 C393.9,325.4 396.9,323.8 400.0,322.4 C403.2,320.9 406.5,319.6 410.0,318.4 C413.5,317.1 417.1,316.1 421.0,315.1 C424.8,314.1 428.8,313.2 433.0,312.5 C437.1,311.7 441.5,311.1 445.9,310.5 C450.3,309.9 454.9,309.4 459.6,308.9 C464.2,308.5 469.0,308.1 473.8,307.7 C478.6,307.4 483.5,307.0 488.3,306.7 C493.1,306.3 498.0,306.0 502.8,305.6 C507.5,305.2 512.3,304.9 517.0,304.4 C521.6,303.9 526.2,303.4 530.7,302.9 C535.1,302.3 539.4,301.6 543.6,300.9 C547.7,300.2 551.8,299.3 555.6,298.4 C559.4,297.5 563.1,296.5 566.6,295.4 C570.1,294.3 573.4,293.2 576.5,291.9 C579.7,290.6 582.6,289.3 585.5,287.9 C588.3,286.5 590.9,285.0 593.5,283.4 C596.0,281.9 598.4,280.3 600.7,278.7 C603.1,277.1 605.3,275.4 607.5,273.7 C609.7,272.1 611.8,270.4 613.9,268.8 C616.1,267.1 618.2,265.5 620.4,263.9 C622.6,262.3 624.8,260.8 627.1,259.3 C629.4,257.8 631.8,256.4 634.4,255.0 C636.9,253.7 639.6,252.4 642.4,251.3 C645.2,250.1 648.2,249.0 651.3,248.0 C654.4,247.0 657.8,246.1 661.2,245.3 C664.7,244.4 668.4,243.7 672.2,243.1 C676.1,242.5 680.1,241.9 684.3,241.5 C688.4,241.0 692.8,240.6 697.2,240.3 C701.6,239.9 706.2,239.7 710.9,239.4 C715.5,239.2 720.3,239.0 725.1,238.9 C729.9,238.7 734.7,238.6 739.6,238.4 C744.4,238.3 749.3,238.2 754.0,238.0 C758.8,237.8 763.6,237.7 768.2,237.5 C772.9,237.3 777.5,237.0 781.9,236.7 C786.4,236.4 790.7,236.1 794.9,235.7 C799.0,235.3 803.0,234.9 806.9,234.3 C810.7,233.8 814.4,233.2 817.9,232.6 C821.4,232.0 824.7,231.3 827.8,230.5 C831.0,229.7 833.9,228.9 836.7,228.0 C839.6,227.2 842.2,226.2 844.8,225.3 C847.3,224.3 849.7,223.3 852.0,222.3 C854.3,221.3 856.5,220.3 858.7,219.3 C860.9,218.2 863.0,217.2 865.2,216.2 C867.4,215.1 869.5,214.1 871.7,213.1 C873.9,212.2 876.1,211.2 878.4,210.3 C880.7,209.4 883.1,208.6 885.6,207.8 C888.2,207.0 890.8,206.3 893.7,205.6 C896.5,205.0 899.4,204.4 902.6,203.8 C905.7,203.3 909.0,202.9 912.5,202.5 C916.0,202.2 919.7,201.9 923.5,201.7 C927.4,201.5 931.4,201.3 935.5,201.2 C939.7,201.2 944.0,201.2 948.5,201.2 C952.9,201.2 957.5,201.4 962.1,201.5 C966.8,201.6 971.6,201.8 976.4,202.0 C981.1,202.2 986.0,202.5 990.8,202.7 C995.7,203.0 1000.5,203.2 1005.3,203.5 C1010.1,203.7 1014.9,204.0 1019.5,204.2 C1024.2,204.4 1030.9,204.7 1033.2,204.8"/>
<path d="M256.4,418.9 C258.8,418.6 266.1,417.8 270.9,417.2 C275.7,416.6 280.6,416.1 285.4,415.5 C290.2,415.0 295.0,414.4 299.6,413.7 C304.3,413.0 308.9,412.3 313.4,411.5 C317.9,410.7 322.3,409.8 326.5,408.8 C330.7,407.7 334.7,406.6 338.6,405.4 C342.5,404.1 346.2,402.8 349.8,401.3 C353.3,399.8 356.7,398.2 359.9,396.4 C363.1,394.7 366.1,392.9 368.9,390.9 C371.8,389.0 374.5,387.0 377.1,384.9 C379.7,382.7 382.1,380.5 384.4,378.3 C386.8,376.1 389.0,373.8 391.2,371.5 C393.4,369.2 395.5,366.8 397.7,364.5 C399.9,362.2 402.0,359.9 404.1,357.6 C406.3,355.4 408.5,353.1 410.8,351.0 C413.1,348.9 415.5,346.8 418.0,344.8 C420.5,342.9 423.1,341.0 425.9,339.2 C428.7,337.5 431.6,335.8 434.7,334.3 C437.7,332.7 441.0,331.3 444.4,330.0 C447.9,328.7 451.5,327.6 455.3,326.5 C459.1,325.5 463.0,324.5 467.2,323.7 C471.3,322.8 475.6,322.1 480.0,321.5 C484.4,320.8 488.9,320.2 493.6,319.7 C498.2,319.2 502.9,318.8 507.7,318.3 C512.5,317.9 517.3,317.5 522.2,317.1 C527.0,316.7 531.9,316.3 536.7,315.9 C541.5,315.5 546.2,315.1 550.9,314.6 C555.6,314.1 560.2,313.5 564.7,312.9 C569.2,312.3 573.5,311.7 577.7,310.9 C581.9,310.1 586.0,309.3 589.9,308.4 C593.8,307.5 597.5,306.4 601.1,305.3 C604.6,304.2 608.0,303.0 611.2,301.8 C614.3,300.5 617.4,299.1 620.2,297.7 C623.1,296.3 625.8,294.8 628.4,293.2 C630.9,291.7 633.3,290.1 635.7,288.5 C638.1,286.8 640.3,285.1 642.5,283.5 C644.7,281.8 646.8,280.1 649.0,278.4 C651.1,276.8 653.2,275.1 655.4,273.5 C657.6,271.9 659.8,270.3 662.1,268.7 C664.4,267.2 666.8,265.8 669.3,264.4 C671.8,263.0 674.4,261.7 677.2,260.4 C679.9,259.2 682.8,258.0 685.9,257.0 C689.0,255.9 692.3,255.0 695.7,254.1 C699.2,253.2 702.8,252.5 706.6,251.8 C710.4,251.1 714.3,250.5 718.4,250.0 C722.6,249.5 726.9,249.0 731.2,248.6 C735.6,248.3 740.2,247.9 744.8,247.7 C749.5,247.4 754.2,247.2 759.0,247.0 C763.7,246.8 768.6,246.6 773.4,246.4 C778.3,246.3 783.1,246.1 787.9,245.9 C792.7,245.7 797.5,245.6 802.2,245.3 C806.9,245.1 811.5,244.9 816.0,244.6 C820.4,244.3 824.8,243.9 829.0,243.5 C833.2,243.1 837.3,242.7 841.2,242.2 C845.1,241.7 848.8,241.1 852.3,240.5 C855.9,239.8 859.2,239.1 862.4,238.4 C865.6,237.6 868.6,236.8 871.5,236.0 C874.4,235.1 877.0,234.2 879.6,233.2 C882.2,232.3 884.6,231.3 887.0,230.3 C889.3,229.3 891.6,228.3 893.8,227.2 C896.0,226.2 898.1,225.2 900.3,224.1 C902.4,223.1 904.5,222.1 906.7,221.1 C908.9,220.2 911.1,219.2 913.4,218.3 C915.7,217.4 918.0,216.5 920.5,215.7 C923.1,214.9 925.7,214.2 928.4,213.5 C931.2,212.8 934.1,212.2 937.2,211.7 C940.3,211.2 943.6,210.7 947.0,210.3 C950.4,210.0 954.1,209.7 957.8,209.4 C961.6,209.2 965.6,209.1 969.7,209.0 C973.8,208.9 978.1,208.9 982.5,208.9 C986.9,209.0 991.5,209.1 996.1,209.2 C1000.7,209.4 1005.5,209.6 1010.3,209.8 C1015.0,210.0 1019.9,210.3 1024.7,210.5 C1029.5,210.8 1034.4,211.1 1039.2,211.4 C1044.0,211.6 1051.1,212.0 1053.5,212.2"/>
<path d="M276.2,434.2 C278.6,433.9 285.6,432.8 290.3,432.1 C295.1,431.5 299.9,430.9 304.8,430.3 C309.6,429.7 314.5,429.1 319.3,428.5 C324.1,427.9 328.9,427.3 333.6,426.6 C338.3,425.9 342.9,425.1 347.4,424.3 C351.9,423.4 356.4,422.5 360.6,421.5 C364.9,420.4 369.0,419.3 372.9,418.0 C376.8,416.8 380.6,415.4 384.2,413.9 C387.8,412.4 391.2,410.8 394.5,409.1 C397.7,407.4 400.8,405.5 403.7,403.6 C406.6,401.6 409.3,399.6 411.9,397.5 C414.6,395.3 417.0,393.1 419.4,390.9 C421.8,388.6 424.0,386.3 426.3,384.0 C428.5,381.6 430.6,379.3 432.8,376.9 C434.9,374.6 437.0,372.2 439.2,369.9 C441.4,367.6 443.5,365.4 445.8,363.2 C448.1,361.0 450.4,358.9 452.9,356.8 C455.4,354.8 457.9,352.9 460.7,351.0 C463.4,349.2 466.3,347.5 469.3,345.9 C472.4,344.3 475.6,342.8 478.9,341.4 C482.3,340.0 485.9,338.8 489.6,337.7 C493.4,336.5 497.3,335.5 501.4,334.6 C505.4,333.7 509.7,332.9 514.0,332.2 C518.4,331.4 522.9,330.8 527.5,330.2 C532.1,329.6 536.9,329.1 541.6,328.6 C546.4,328.1 551.2,327.7 556.0,327.2 C560.9,326.8 565.7,326.4 570.5,325.9 C575.4,325.4 580.2,325.0 584.9,324.4 C589.6,323.9 594.2,323.3 598.7,322.7 C603.2,322.1 607.6,321.4 611.9,320.6 C616.1,319.8 620.3,319.0 624.2,318.0 C628.1,317.1 631.9,316.1 635.5,315.0 C639.1,313.8 642.5,312.6 645.7,311.4 C649.0,310.1 652.0,308.7 655.0,307.3 C657.9,305.8 660.6,304.3 663.2,302.8 C665.8,301.2 668.3,299.6 670.7,297.9 C673.1,296.3 675.3,294.6 677.5,292.9 C679.8,291.2 681.9,289.5 684.0,287.8 C686.2,286.1 688.3,284.4 690.5,282.8 C692.6,281.1 694.8,279.5 697.1,277.9 C699.4,276.4 701.7,274.9 704.2,273.4 C706.7,272.0 709.2,270.6 711.9,269.4 C714.7,268.1 717.5,266.9 720.6,265.8 C723.6,264.7 726.8,263.7 730.2,262.7 C733.6,261.8 737.2,261.0 740.9,260.3 C744.7,259.5 748.6,258.9 752.6,258.3 C756.7,257.7 761.0,257.2 765.3,256.8 C769.7,256.4 774.2,256.0 778.8,255.7 C783.4,255.4 788.1,255.1 792.9,254.9 C797.6,254.7 802.5,254.5 807.3,254.3 C812.1,254.1 817.0,253.9 821.8,253.7 C826.6,253.5 831.4,253.3 836.1,253.1 C840.8,252.8 845.5,252.6 850.0,252.3 C854.5,252.0 858.9,251.6 863.2,251.2 C867.4,250.8 871.5,250.4 875.5,249.9 C879.4,249.4 883.2,248.8 886.8,248.2 C890.4,247.6 893.8,246.9 897.0,246.1 C900.3,245.4 903.3,244.6 906.2,243.7 C909.1,242.9 911.9,242.0 914.5,241.1 C917.1,240.1 919.6,239.1 922.0,238.2 C924.3,237.2 926.6,236.1 928.8,235.1 C931.0,234.1 933.2,233.1 935.3,232.0 C937.5,231.0 939.6,230.0 941.8,229.0 C943.9,228.1 946.1,227.1 948.4,226.2 C950.7,225.3 953.0,224.4 955.5,223.6 C957.9,222.8 960.5,222.0 963.2,221.4 C966.0,220.7 968.8,220.1 971.9,219.5 C974.9,219.0 978.1,218.5 981.5,218.1 C984.9,217.8 988.5,217.4 992.2,217.2 C995.9,217.0 999.9,216.8 1003.9,216.7 C1008.0,216.7 1012.2,216.6 1016.6,216.7 C1021.0,216.7 1025.5,216.8 1030.1,217.0 C1034.7,217.1 1039.4,217.4 1044.2,217.6 C1048.9,217.8 1053.8,218.1 1058.6,218.4 C1063.4,218.7 1070.7,219.2 1073.1,219.3"/>
<path d="M296.9,450.2 C299.1,449.7 305.7,448.3 310.2,447.4 C314.8,446.6 319.5,445.8 324.2,445.1 C329.0,444.4 333.8,443.8 338.6,443.1 C343.5,442.4 348.3,441.8 353.2,441.2 C358.0,440.5 362.8,439.9 367.5,439.1 C372.2,438.4 376.9,437.6 381.5,436.7 C386.0,435.9 390.5,434.9 394.7,433.9 C399.0,432.8 403.2,431.7 407.2,430.4 C411.2,429.2 415.0,427.8 418.6,426.3 C422.3,424.8 425.7,423.1 429.0,421.4 C432.3,419.7 435.4,417.8 438.4,415.9 C441.3,413.9 444.1,411.9 446.8,409.7 C449.4,407.6 451.9,405.4 454.3,403.1 C456.8,400.8 459.0,398.5 461.3,396.1 C463.5,393.8 465.7,391.4 467.8,389.0 C470.0,386.6 472.1,384.3 474.2,381.9 C476.4,379.6 478.6,377.3 480.8,375.0 C483.1,372.8 485.4,370.6 487.8,368.5 C490.3,366.4 492.8,364.4 495.5,362.5 C498.2,360.6 501.0,358.8 504.0,357.2 C507.0,355.5 510.1,353.9 513.5,352.5 C516.8,351.0 520.3,349.7 524.0,348.5 C527.7,347.3 531.6,346.2 535.6,345.2 C539.6,344.2 543.8,343.4 548.1,342.6 C552.5,341.8 557.0,341.1 561.5,340.4 C566.1,339.8 570.8,339.2 575.5,338.6 C580.3,338.1 585.1,337.6 589.9,337.1 C594.7,336.6 599.6,336.1 604.4,335.6 C609.2,335.1 614.1,334.6 618.8,334.0 C623.5,333.4 628.2,332.8 632.7,332.2 C637.3,331.5 641.7,330.8 646.0,330.0 C650.3,329.2 654.5,328.3 658.5,327.4 C662.4,326.4 666.3,325.4 669.9,324.3 C673.6,323.2 677.0,321.9 680.3,320.7 C683.6,319.4 686.7,318.0 689.7,316.6 C692.6,315.1 695.4,313.6 698.1,312.0 C700.7,310.5 703.2,308.8 705.6,307.2 C708.0,305.5 710.3,303.8 712.6,302.1 C714.8,300.4 716.9,298.6 719.1,296.9 C721.3,295.2 723.4,293.5 725.5,291.8 C727.7,290.1 729.8,288.5 732.1,286.9 C734.4,285.3 736.7,283.7 739.1,282.3 C741.5,280.8 744.1,279.4 746.8,278.1 C749.5,276.7 752.3,275.5 755.3,274.3 C758.3,273.2 761.4,272.1 764.8,271.2 C768.1,270.2 771.6,269.3 775.3,268.5 C779.0,267.7 782.8,267.0 786.9,266.4 C790.9,265.8 795.1,265.3 799.4,264.8 C803.7,264.3 808.2,263.9 812.8,263.6 C817.4,263.2 822.1,262.9 826.8,262.6 C831.5,262.4 836.4,262.2 841.2,261.9 C846.0,261.7 850.9,261.5 855.7,261.3 C860.5,261.1 865.4,260.9 870.1,260.6 C874.8,260.4 879.5,260.1 884.0,259.8 C888.6,259.5 893.0,259.1 897.3,258.8 C901.6,258.4 905.8,257.9 909.7,257.4 C913.7,256.9 917.5,256.4 921.2,255.8 C924.8,255.1 928.3,254.5 931.6,253.7 C934.9,253.0 938.0,252.2 941.0,251.4 C943.9,250.6 946.7,249.7 949.3,248.8 C952.0,247.9 954.5,246.9 956.9,245.9 C959.3,244.9 961.6,243.9 963.8,242.9 C966.1,241.9 968.2,240.9 970.4,239.9 C972.5,238.9 974.6,237.8 976.8,236.9 C979.0,235.9 981.1,234.9 983.4,234.0 C985.6,233.1 987.9,232.3 990.4,231.4 C992.8,230.6 995.3,229.9 998.0,229.2 C1000.7,228.5 1003.5,227.9 1006.5,227.3 C1009.5,226.8 1012.7,226.3 1016.0,225.9 C1019.4,225.6 1022.9,225.2 1026.6,225.0 C1030.3,224.8 1034.1,224.6 1038.1,224.5 C1042.2,224.4 1046.4,224.4 1050.7,224.5 C1055.0,224.5 1059.5,224.6 1064.1,224.8 C1068.6,225.0 1073.3,225.2 1078.1,225.5 C1082.8,225.7 1090.1,226.2 1092.5,226.3"/>
<path d="M318.6,467.0 C320.6,466.4 326.7,464.4 331.0,463.3 C335.2,462.2 339.7,461.2 344.2,460.3 C348.8,459.4 353.5,458.6 358.2,457.8 C362.9,457.0 367.7,456.4 372.5,455.6 C377.3,454.9 382.2,454.3 387.0,453.6 C391.9,452.9 396.7,452.2 401.4,451.4 C406.2,450.6 410.9,449.8 415.5,448.9 C420.0,448.0 424.5,447.1 428.8,446.0 C433.2,444.9 437.4,443.8 441.4,442.5 C445.4,441.2 449.3,439.8 453.0,438.3 C456.7,436.8 460.2,435.2 463.6,433.4 C466.9,431.7 470.1,429.8 473.1,427.9 C476.1,425.9 478.9,423.8 481.6,421.7 C484.3,419.6 486.8,417.3 489.3,415.0 C491.7,412.7 494.0,410.4 496.3,408.0 C498.6,405.6 500.7,403.2 502.9,400.8 C505.0,398.4 507.1,396.0 509.3,393.6 C511.5,391.2 513.6,388.9 515.8,386.6 C518.1,384.3 520.4,382.0 522.8,379.9 C525.2,377.8 527.7,375.7 530.3,373.7 C533.0,371.8 535.7,369.9 538.7,368.2 C541.6,366.4 544.7,364.8 548.0,363.3 C551.3,361.8 554.8,360.4 558.4,359.1 C562.0,357.8 565.9,356.6 569.8,355.6 C573.8,354.5 578.0,353.6 582.2,352.7 C586.5,351.8 591.0,351.0 595.5,350.3 C600.0,349.6 604.7,349.0 609.4,348.3 C614.2,347.7 619.0,347.2 623.8,346.6 C628.6,346.1 633.5,345.5 638.3,345.0 C643.1,344.4 648.0,343.9 652.7,343.3 C657.5,342.7 662.2,342.1 666.7,341.4 C671.3,340.7 675.8,339.9 680.1,339.1 C684.5,338.3 688.7,337.4 692.7,336.5 C696.7,335.5 700.6,334.4 704.3,333.3 C708.0,332.2 711.5,331.0 714.9,329.7 C718.2,328.4 721.4,327.0 724.4,325.5 C727.4,324.1 730.2,322.6 732.9,321.0 C735.6,319.4 738.1,317.8 740.6,316.1 C743.0,314.4 745.3,312.7 747.6,311.0 C749.8,309.3 752.0,307.5 754.2,305.8 C756.3,304.0 758.4,302.3 760.6,300.6 C762.7,298.9 764.9,297.2 767.1,295.6 C769.4,294.0 771.6,292.4 774.0,290.9 C776.5,289.4 778.9,287.9 781.6,286.5 C784.2,285.2 787.0,283.9 790.0,282.7 C792.9,281.5 796.0,280.4 799.3,279.4 C802.6,278.4 806.0,277.4 809.7,276.6 C813.3,275.8 817.1,275.0 821.1,274.4 C825.1,273.7 829.2,273.1 833.5,272.6 C837.8,272.1 842.3,271.6 846.8,271.2 C851.3,270.9 856.0,270.5 860.7,270.2 C865.4,269.9 870.3,269.7 875.1,269.4 C879.9,269.2 884.8,269.0 889.6,268.7 C894.4,268.5 899.3,268.3 904.0,268.0 C908.7,267.7 913.4,267.5 918.0,267.2 C922.6,266.9 927.1,266.5 931.4,266.1 C935.7,265.8 939.9,265.3 944.0,264.8 C948.0,264.3 951.9,263.8 955.6,263.2 C959.3,262.6 962.8,262.0 966.1,261.3 C969.5,260.5 972.6,259.8 975.6,259.0 C978.7,258.2 981.5,257.3 984.2,256.4 C986.9,255.5 989.4,254.6 991.8,253.6 C994.3,252.6 996.6,251.6 998.9,250.6 C1001.1,249.7 1003.3,248.6 1005.4,247.6 C1007.6,246.6 1009.7,245.6 1011.9,244.7 C1014.0,243.7 1016.2,242.8 1018.4,241.9 C1020.6,241.0 1022.9,240.1 1025.3,239.3 C1027.7,238.5 1030.2,237.7 1032.9,237.0 C1035.5,236.3 1038.3,235.7 1041.2,235.2 C1044.2,234.6 1047.3,234.2 1050.6,233.8 C1053.9,233.4 1057.3,233.1 1061.0,232.8 C1064.6,232.6 1068.4,232.4 1072.4,232.4 C1076.4,232.3 1080.5,232.3 1084.8,232.3 C1089.1,232.4 1093.5,232.5 1098.1,232.7 C1102.6,232.9 1109.7,233.3 1112.0,233.4"/>
<path d="M341.5,484.8 C343.4,484.0 348.9,481.5 352.8,480.1 C356.7,478.7 360.9,477.4 365.1,476.2 C369.3,475.0 373.8,474.0 378.3,473.0 C382.8,472.0 387.4,471.1 392.1,470.3 C396.8,469.4 401.6,468.7 406.4,467.9 C411.2,467.1 416.1,466.4 420.9,465.7 C425.7,464.9 430.6,464.2 435.4,463.3 C440.1,462.5 444.8,461.7 449.4,460.8 C454.0,459.9 458.6,458.9 462.9,457.8 C467.3,456.7 471.6,455.5 475.6,454.2 C479.7,452.9 483.6,451.5 487.4,450.0 C491.1,448.5 494.7,446.8 498.1,445.1 C501.5,443.3 504.7,441.5 507.8,439.5 C510.8,437.6 513.7,435.5 516.4,433.3 C519.2,431.2 521.7,428.9 524.2,426.6 C526.7,424.3 529.0,421.9 531.3,419.5 C533.6,417.1 535.8,414.7 537.9,412.2 C540.1,409.8 542.2,407.4 544.4,404.9 C546.5,402.5 548.6,400.1 550.9,397.8 C553.1,395.5 555.3,393.2 557.7,391.0 C560.1,388.8 562.5,386.6 565.2,384.6 C567.8,382.6 570.5,380.7 573.4,378.9 C576.3,377.1 579.4,375.3 582.6,373.8 C585.8,372.2 589.2,370.7 592.8,369.4 C596.4,368.0 600.2,366.8 604.1,365.6 C608.0,364.5 612.1,363.5 616.4,362.5 C620.6,361.6 625.0,360.7 629.5,359.9 C634.0,359.2 638.7,358.5 643.4,357.8 C648.1,357.1 652.9,356.5 657.7,355.9 C662.5,355.3 667.4,354.7 672.2,354.1 C677.0,353.5 681.9,352.9 686.6,352.3 C691.4,351.6 696.1,351.0 700.7,350.3 C705.3,349.6 709.9,348.8 714.2,348.0 C718.6,347.1 722.8,346.2 726.9,345.2 C731.0,344.3 734.9,343.2 738.7,342.1 C742.4,340.9 746.0,339.7 749.4,338.4 C752.8,337.1 756.0,335.7 759.0,334.3 C762.1,332.8 765.0,331.3 767.7,329.7 C770.4,328.1 773.0,326.5 775.5,324.8 C778.0,323.1 780.3,321.4 782.6,319.6 C784.9,317.9 787.0,316.1 789.2,314.4 C791.4,312.6 793.5,310.9 795.6,309.1 C797.8,307.4 799.9,305.7 802.1,304.0 C804.4,302.4 806.6,300.8 809.0,299.2 C811.4,297.7 813.8,296.2 816.4,294.8 C819.1,293.4 821.8,292.1 824.7,290.8 C827.6,289.6 830.6,288.4 833.9,287.4 C837.1,286.3 840.5,285.4 844.1,284.5 C847.7,283.6 851.5,282.8 855.4,282.1 C859.3,281.4 863.4,280.8 867.7,280.2 C871.9,279.7 876.3,279.2 880.8,278.8 C885.3,278.3 890.0,278.0 894.7,277.6 C899.4,277.3 904.2,277.0 909.0,276.8 C913.8,276.5 918.7,276.3 923.5,276.0 C928.3,275.8 933.2,275.5 937.9,275.3 C942.7,275.0 947.4,274.7 952.0,274.4 C956.6,274.1 961.1,273.8 965.5,273.4 C969.9,273.0 974.1,272.6 978.2,272.1 C982.3,271.7 986.2,271.1 989.9,270.6 C993.7,270.0 997.3,269.4 1000.7,268.7 C1004.1,268.0 1007.3,267.2 1010.3,266.4 C1013.4,265.7 1016.2,264.8 1019.0,263.9 C1021.7,263.1 1024.3,262.1 1026.8,261.2 C1029.2,260.3 1031.6,259.3 1033.9,258.3 C1036.1,257.3 1038.3,256.3 1040.5,255.4 C1042.7,254.4 1044.8,253.4 1046.9,252.4 C1049.1,251.5 1051.2,250.5 1053.4,249.7 C1055.7,248.8 1057.9,247.9 1060.3,247.1 C1062.7,246.3 1065.1,245.6 1067.7,244.9 C1070.3,244.2 1073.1,243.6 1076.0,243.0 C1078.9,242.5 1081.9,242.0 1085.2,241.6 C1088.4,241.2 1091.8,240.9 1095.4,240.7 C1099.0,240.5 1102.7,240.3 1106.7,240.3 C1110.6,240.2 1114.7,240.2 1118.9,240.3 C1123.2,240.3 1129.9,240.6 1132.1,240.7"/>
<path d="M365.9,503.6 C367.6,502.7 372.4,499.7 376.0,497.9 C379.5,496.1 383.2,494.4 387.1,492.9 C391.0,491.4 395.1,490.1 399.2,488.8 C403.4,487.5 407.8,486.4 412.3,485.3 C416.7,484.3 421.4,483.3 426.0,482.4 C430.7,481.5 435.5,480.7 440.3,479.9 C445.1,479.0 450.0,478.3 454.8,477.5 C459.6,476.6 464.5,475.9 469.3,475.0 C474.0,474.2 478.8,473.3 483.4,472.3 C488.0,471.4 492.6,470.4 497.0,469.3 C501.4,468.1 505.7,466.9 509.8,465.6 C514.0,464.3 517.9,462.9 521.7,461.4 C525.5,459.8 529.2,458.2 532.6,456.4 C536.0,454.7 539.3,452.8 542.4,450.8 C545.5,448.9 548.4,446.8 551.2,444.6 C554.0,442.5 556.6,440.2 559.1,437.9 C561.6,435.6 564.0,433.2 566.3,430.7 C568.6,428.3 570.8,425.8 573.0,423.4 C575.2,420.9 577.3,418.4 579.4,416.0 C581.6,413.5 583.7,411.1 585.9,408.7 C588.1,406.3 590.3,404.0 592.7,401.7 C595.0,399.5 597.5,397.3 600.0,395.2 C602.6,393.1 605.3,391.1 608.1,389.3 C611.0,387.4 614.0,385.6 617.2,384.0 C620.4,382.3 623.7,380.8 627.3,379.3 C630.8,377.9 634.5,376.6 638.4,375.4 C642.3,374.2 646.3,373.1 650.5,372.1 C654.7,371.1 659.1,370.1 663.6,369.3 C668.0,368.4 672.7,367.7 677.3,366.9 C682.0,366.2 686.8,365.5 691.6,364.9 C696.4,364.2 701.2,363.6 706.1,363.0 C710.9,362.3 715.8,361.7 720.5,361.0 C725.3,360.3 730.1,359.7 734.7,358.9 C739.3,358.2 743.9,357.4 748.3,356.5 C752.7,355.7 757.0,354.8 761.1,353.8 C765.2,352.8 769.2,351.7 773.0,350.5 C776.8,349.4 780.4,348.2 783.9,346.9 C787.3,345.5 790.6,344.2 793.7,342.7 C796.8,341.2 799.7,339.7 802.5,338.1 C805.3,336.5 807.9,334.9 810.4,333.2 C812.9,331.5 815.3,329.8 817.6,328.0 C819.9,326.3 822.1,324.5 824.3,322.7 C826.4,321.0 828.6,319.2 830.7,317.4 C832.9,315.7 835.0,314.0 837.2,312.3 C839.4,310.6 841.6,309.0 844.0,307.4 C846.3,305.8 848.7,304.3 851.3,302.9 C853.9,301.4 856.6,300.1 859.4,298.8 C862.3,297.5 865.3,296.3 868.5,295.2 C871.7,294.1 875.0,293.1 878.5,292.2 C882.1,291.3 885.8,290.4 889.7,289.7 C893.5,288.9 897.6,288.3 901.8,287.7 C906.0,287.1 910.4,286.6 914.8,286.1 C919.3,285.7 923.9,285.3 928.6,284.9 C933.3,284.6 938.1,284.3 942.9,284.0 C947.7,283.7 952.5,283.4 957.4,283.2 C962.2,282.9 967.0,282.7 971.8,282.4 C976.6,282.1 981.3,281.9 986.0,281.6 C990.6,281.3 995.2,280.9 999.6,280.6 C1004.0,280.2 1008.3,279.8 1012.4,279.3 C1016.5,278.9 1020.5,278.4 1024.3,277.8 C1028.1,277.3 1031.7,276.7 1035.2,276.0 C1038.6,275.3 1041.9,274.6 1045.0,273.9 C1048.1,273.1 1051.0,272.3 1053.8,271.4 C1056.6,270.6 1059.2,269.7 1061.7,268.8 C1064.2,267.9 1066.5,266.9 1068.9,266.0 C1071.2,265.0 1073.4,264.0 1075.5,263.1 C1077.7,262.1 1079.8,261.1 1082.0,260.2 C1084.1,259.3 1086.3,258.3 1088.5,257.5 C1090.7,256.6 1092.9,255.7 1095.2,255.0 C1097.6,254.2 1100.0,253.4 1102.6,252.8 C1105.2,252.1 1107.8,251.5 1110.7,250.9 C1113.6,250.4 1116.6,249.9 1119.7,249.6 C1122.9,249.2 1126.3,248.9 1129.8,248.7 C1133.4,248.4 1137.1,248.3 1140.9,248.3 C1144.8,248.2 1151.1,248.3 1153.1,248.3"/>
<path d="M391.6,523.6 C393.1,522.4 397.4,518.8 400.5,516.7 C403.7,514.6 407.0,512.5 410.4,510.7 C413.9,508.8 417.6,507.1 421.4,505.5 C425.2,503.9 429.3,502.5 433.4,501.1 C437.6,499.8 441.9,498.6 446.3,497.4 C450.8,496.3 455.4,495.3 460.0,494.3 C464.6,493.3 469.4,492.4 474.2,491.5 C479.0,490.6 483.8,489.8 488.7,489.0 C493.5,488.1 498.4,487.3 503.2,486.4 C507.9,485.5 512.7,484.6 517.4,483.6 C522.0,482.6 526.6,481.6 531.1,480.4 C535.5,479.3 539.9,478.1 544.0,476.7 C548.2,475.4 552.2,474.0 556.1,472.4 C559.9,470.9 563.6,469.2 567.1,467.5 C570.6,465.7 573.9,463.8 577.0,461.8 C580.2,459.9 583.2,457.8 586.0,455.6 C588.8,453.4 591.5,451.1 594.0,448.8 C596.6,446.5 598.9,444.1 601.3,441.6 C603.6,439.2 605.8,436.7 608.0,434.2 C610.2,431.7 612.3,429.2 614.5,426.7 C616.6,424.2 618.7,421.7 620.9,419.3 C623.1,416.9 625.3,414.5 627.7,412.2 C630.0,409.9 632.4,407.7 634.9,405.5 C637.5,403.4 640.1,401.3 642.9,399.4 C645.7,397.4 648.7,395.6 651.8,393.9 C654.9,392.1 658.2,390.5 661.7,389.0 C665.2,387.5 668.9,386.1 672.7,384.9 C676.5,383.6 680.5,382.4 684.7,381.3 C688.8,380.3 693.2,379.3 697.6,378.4 C702.0,377.4 706.6,376.6 711.3,375.8 C715.9,375.0 720.7,374.3 725.5,373.6 C730.3,372.9 735.1,372.2 740.0,371.5 C744.8,370.8 749.7,370.2 754.4,369.5 C759.2,368.7 764.0,368.0 768.7,367.3 C773.3,366.5 777.9,365.7 782.3,364.8 C786.8,363.9 791.1,363.0 795.3,362.0 C799.5,361.0 803.5,359.9 807.3,358.8 C811.2,357.6 814.9,356.4 818.4,355.0 C821.9,353.7 825.2,352.3 828.3,350.9 C831.5,349.4 834.4,347.9 837.3,346.3 C840.1,344.7 842.7,343.1 845.3,341.4 C847.8,339.7 850.2,337.9 852.6,336.2 C854.9,334.4 857.1,332.6 859.3,330.9 C861.5,329.1 863.6,327.3 865.8,325.5 C867.9,323.8 870.0,322.0 872.2,320.3 C874.4,318.6 876.6,316.9 878.9,315.3 C881.3,313.7 883.7,312.2 886.2,310.7 C888.7,309.3 891.4,307.9 894.2,306.5 C897.0,305.2 899.9,304.0 903.1,302.9 C906.2,301.7 909.5,300.7 913.0,299.7 C916.5,298.8 920.1,297.9 924.0,297.1 C927.8,296.3 931.8,295.6 936.0,295.0 C940.1,294.4 944.5,293.8 948.9,293.4 C953.3,292.9 957.9,292.5 962.6,292.1 C967.2,291.7 972.0,291.4 976.8,291.1 C981.5,290.8 986.4,290.5 991.2,290.2 C996.1,290.0 1000.9,289.7 1005.7,289.4 C1010.5,289.2 1015.3,288.9 1019.9,288.6 C1024.6,288.3 1029.2,288.0 1033.6,287.6 C1038.1,287.3 1042.4,286.9 1046.6,286.5 C1050.7,286.0 1054.8,285.5 1058.6,285.0 C1062.5,284.5 1066.1,283.9 1069.6,283.3 C1073.1,282.6 1076.5,281.9 1079.6,281.2 C1082.8,280.5 1085.7,279.7 1088.5,278.9 C1091.4,278.1 1094.0,277.2 1096.6,276.3 C1099.1,275.4 1101.5,274.5 1103.8,273.6 C1106.2,272.7 1108.4,271.7 1110.6,270.8 C1112.8,269.8 1114.9,268.9 1117.0,268.0 C1119.2,267.1 1121.3,266.2 1123.5,265.3 C1125.7,264.4 1127.9,263.6 1130.2,262.8 C1132.6,262.1 1134.9,261.3 1137.5,260.7 C1140.0,260.0 1142.6,259.4 1145.5,258.9 C1148.3,258.4 1151.2,257.9 1154.4,257.6 C1157.5,257.2 1160.8,256.9 1164.3,256.7 C1167.8,256.5 1173.4,256.4 1175.3,256.3"/>
<path d="M418.5,544.4 C419.8,543.1 423.6,539.0 426.4,536.6 C429.2,534.1 432.1,531.7 435.2,529.5 C438.2,527.3 441.5,525.2 444.9,523.2 C448.4,521.3 452.0,519.5 455.7,517.8 C459.5,516.1 463.5,514.6 467.6,513.2 C471.7,511.7 476.0,510.4 480.4,509.2 C484.8,508.0 489.3,506.9 494.0,505.9 C498.6,504.8 503.3,503.9 508.1,502.9 C512.9,502.0 517.7,501.1 522.6,500.2 C527.4,499.3 532.3,498.4 537.1,497.4 C541.8,496.5 546.6,495.6 551.3,494.5 C556.0,493.5 560.6,492.4 565.1,491.3 C569.6,490.1 574.0,488.9 578.2,487.5 C582.4,486.2 586.5,484.7 590.4,483.2 C594.3,481.6 598.0,479.9 601.5,478.2 C605.1,476.4 608.5,474.5 611.7,472.5 C614.9,470.5 617.9,468.4 620.7,466.2 C623.6,464.0 626.3,461.7 628.9,459.4 C631.5,457.1 633.9,454.6 636.3,452.2 C638.6,449.7 640.8,447.2 643.1,444.7 C645.3,442.2 647.4,439.6 649.5,437.1 C651.7,434.6 653.8,432.1 656.0,429.6 C658.2,427.1 660.4,424.7 662.7,422.4 C665.0,420.0 667.3,417.7 669.8,415.5 C672.3,413.3 674.9,411.2 677.7,409.2 C680.5,407.2 683.4,405.3 686.4,403.5 C689.5,401.7 692.8,400.0 696.2,398.4 C699.6,396.9 703.2,395.4 707.0,394.1 C710.8,392.7 714.8,391.5 718.9,390.3 C723.0,389.2 727.3,388.1 731.7,387.2 C736.1,386.2 740.6,385.3 745.2,384.4 C749.9,383.6 754.6,382.8 759.4,382.0 C764.1,381.3 769.0,380.6 773.8,379.8 C778.7,379.1 783.5,378.4 788.3,377.6 C793.1,376.9 797.9,376.2 802.6,375.4 C807.3,374.6 811.9,373.7 816.4,372.8 C820.9,371.9 825.3,371.0 829.5,370.0 C833.7,369.0 837.7,367.9 841.6,366.7 C845.5,365.5 849.3,364.3 852.8,363.0 C856.4,361.7 859.7,360.3 862.9,358.8 C866.1,357.4 869.1,355.8 872.0,354.2 C874.9,352.6 877.6,351.0 880.2,349.3 C882.8,347.6 885.2,345.9 887.5,344.1 C889.9,342.3 892.1,340.5 894.3,338.8 C896.6,337.0 898.7,335.2 900.8,333.4 C903.0,331.6 905.1,329.8 907.3,328.1 C909.5,326.4 911.6,324.7 913.9,323.1 C916.2,321.5 918.6,319.9 921.1,318.4 C923.6,316.9 926.2,315.5 929.0,314.1 C931.7,312.8 934.6,311.5 937.7,310.4 C940.8,309.2 944.1,308.1 947.5,307.1 C950.9,306.1 954.5,305.2 958.3,304.4 C962.1,303.6 966.1,302.9 970.2,302.2 C974.3,301.5 978.6,301.0 983.0,300.5 C987.3,299.9 991.9,299.5 996.5,299.1 C1001.1,298.7 1005.9,298.4 1010.7,298.0 C1015.4,297.7 1020.3,297.4 1025.1,297.2 C1029.9,296.9 1034.8,296.6 1039.6,296.4 C1044.4,296.1 1049.2,295.9 1053.9,295.6 C1058.6,295.3 1063.2,295.0 1067.7,294.6 C1072.1,294.3 1076.5,293.9 1080.7,293.5 C1084.9,293.1 1089.0,292.6 1092.9,292.1 C1096.8,291.6 1100.5,291.1 1104.1,290.5 C1107.6,289.9 1111.0,289.2 1114.2,288.5 C1117.4,287.8 1120.4,287.1 1123.3,286.3 C1126.2,285.5 1128.9,284.7 1131.4,283.8 C1134.0,283.0 1136.5,282.1 1138.8,281.2 C1141.2,280.3 1143.4,279.4 1145.6,278.5 C1147.8,277.6 1150.0,276.7 1152.1,275.8 C1154.3,274.9 1156.4,274.0 1158.5,273.2 C1160.7,272.3 1162.9,271.5 1165.2,270.8 C1167.5,270.0 1169.9,269.3 1172.4,268.7 C1174.9,268.0 1177.5,267.5 1180.2,267.0 C1183.0,266.5 1185.9,266.0 1189.0,265.7 C1192.1,265.3 1197.1,265.0 1198.8,264.9"/>
<path d="M446.4,566.0 C447.6,564.5 451.0,560.1 453.4,557.3 C455.9,554.5 458.5,551.8 461.2,549.3 C463.9,546.7 466.8,544.3 469.8,542.0 C472.9,539.7 476.1,537.5 479.4,535.5 C482.8,533.5 486.4,531.6 490.1,529.8 C493.8,528.0 497.7,526.4 501.8,524.9 C505.9,523.4 510.1,522.0 514.5,520.7 C518.8,519.5 523.3,518.3 527.9,517.2 C532.5,516.0 537.3,515.0 542.0,514.0 C546.8,513.0 551.6,512.0 556.4,511.1 C561.3,510.1 566.1,509.2 570.9,508.2 C575.7,507.2 580.6,506.2 585.3,505.1 C590.0,504.1 594.6,503.0 599.1,501.8 C603.6,500.6 608.1,499.3 612.3,498.0 C616.6,496.6 620.7,495.1 624.6,493.6 C628.6,492.0 632.4,490.3 636.0,488.5 C639.6,486.7 643.0,484.8 646.2,482.8 C649.5,480.8 652.6,478.7 655.5,476.5 C658.4,474.3 661.1,472.0 663.8,469.7 C666.4,467.3 668.8,464.9 671.2,462.4 C673.6,459.9 675.9,457.4 678.1,454.8 C680.3,452.3 682.5,449.7 684.6,447.2 C686.8,444.6 688.9,442.1 691.0,439.6 C693.2,437.1 695.4,434.6 697.7,432.2 C699.9,429.8 702.3,427.4 704.7,425.2 C707.2,423.0 709.7,420.8 712.5,418.7 C715.2,416.6 718.1,414.7 721.1,412.8 C724.1,411.0 727.3,409.2 730.7,407.6 C734.1,405.9 737.7,404.4 741.4,403.0 C745.1,401.6 749.0,400.3 753.1,399.1 C757.1,397.8 761.4,396.7 765.7,395.7 C770.1,394.6 774.6,393.7 779.2,392.8 C783.8,391.9 788.5,391.0 793.3,390.2 C798.0,389.4 802.9,388.6 807.7,387.9 C812.5,387.1 817.4,386.4 822.2,385.6 C827.0,384.8 831.8,384.0 836.5,383.2 C841.2,382.4 845.9,381.5 850.4,380.6 C854.9,379.7 859.4,378.7 863.6,377.7 C867.9,376.7 872.0,375.6 875.9,374.4 C879.9,373.2 883.6,372.0 887.2,370.7 C890.8,369.4 894.3,368.0 897.5,366.5 C900.8,365.1 903.8,363.5 906.8,361.9 C909.7,360.3 912.4,358.7 915.0,357.0 C917.7,355.3 920.1,353.6 922.5,351.8 C924.9,350.0 927.1,348.2 929.4,346.4 C931.6,344.7 933.7,342.8 935.9,341.1 C938.0,339.3 940.1,337.5 942.3,335.8 C944.5,334.0 946.7,332.3 948.9,330.7 C951.2,329.0 953.5,327.4 956.0,325.9 C958.5,324.4 961.0,322.9 963.8,321.6 C966.5,320.2 969.3,318.9 972.4,317.7 C975.4,316.5 978.6,315.4 982.0,314.3 C985.4,313.3 988.9,312.4 992.7,311.5 C996.4,310.7 1000.3,309.9 1004.4,309.3 C1008.4,308.6 1012.7,308.0 1017.0,307.4 C1021.4,306.9 1025.9,306.4 1030.5,306.0 C1035.1,305.6 1039.8,305.3 1044.6,304.9 C1049.3,304.6 1054.2,304.3 1059.0,304.0 C1063.8,303.7 1068.7,303.5 1073.5,303.2 C1078.3,303.0 1083.1,302.7 1087.8,302.5 C1092.5,302.2 1097.2,301.9 1101.7,301.6 C1106.2,301.3 1110.6,300.9 1114.9,300.5 C1119.1,300.1 1123.3,299.7 1127.2,299.2 C1131.1,298.8 1134.9,298.2 1138.5,297.7 C1142.1,297.1 1145.5,296.5 1148.8,295.8 C1152.1,295.2 1155.1,294.5 1158.0,293.7 C1161.0,293.0 1163.7,292.2 1166.3,291.4 C1168.9,290.6 1171.4,289.7 1173.8,288.8 C1176.2,288.0 1178.4,287.1 1180.7,286.2 C1182.9,285.4 1185.0,284.5 1187.2,283.6 C1189.3,282.8 1191.4,281.9 1193.6,281.1 C1195.8,280.3 1197.9,279.5 1200.2,278.8 C1202.5,278.1 1204.8,277.4 1207.3,276.8 C1209.8,276.2 1212.3,275.6 1215.0,275.1 C1217.8,274.6 1222.2,274.1 1223.7,273.9"/>
<path d="M474.8,588.0 C475.9,586.4 479.1,581.8 481.4,578.8 C483.6,575.8 485.9,572.8 488.4,570.0 C490.8,567.1 493.3,564.4 496.0,561.7 C498.7,559.1 501.5,556.6 504.5,554.2 C507.5,551.8 510.6,549.6 514.0,547.5 C517.3,545.3 520.8,543.4 524.5,541.5 C528.2,539.7 532.0,538.0 536.0,536.4 C540.0,534.8 544.2,533.4 548.6,532.0 C552.9,530.6 557.4,529.4 561.9,528.2 C566.5,527.0 571.2,525.9 575.9,524.8 C580.7,523.7 585.5,522.7 590.3,521.7 C595.1,520.6 600.0,519.7 604.8,518.6 C609.6,517.6 614.5,516.6 619.2,515.5 C623.9,514.4 628.6,513.2 633.1,512.0 C637.7,510.8 642.2,509.5 646.4,508.1 C650.7,506.7 654.9,505.2 658.9,503.6 C662.9,502.1 666.7,500.4 670.4,498.6 C674.0,496.8 677.5,494.9 680.8,492.8 C684.1,490.8 687.2,488.7 690.2,486.5 C693.2,484.3 695.9,482.0 698.6,479.6 C701.3,477.3 703.8,474.8 706.2,472.3 C708.6,469.8 710.9,467.3 713.1,464.7 C715.4,462.1 717.5,459.5 719.7,457.0 C721.8,454.4 723.9,451.8 726.1,449.2 C728.3,446.7 730.4,444.2 732.7,441.7 C734.9,439.3 737.2,436.9 739.7,434.6 C742.1,432.3 744.6,430.1 747.3,427.9 C750.0,425.8 752.8,423.8 755.8,421.9 C758.8,419.9 761.9,418.1 765.2,416.4 C768.6,414.7 772.1,413.1 775.8,411.7 C779.4,410.2 783.3,408.8 787.3,407.5 C791.3,406.2 795.5,405.1 799.8,404.0 C804.2,402.8 808.6,401.8 813.2,400.9 C817.8,399.9 822.5,399.0 827.2,398.2 C831.9,397.3 836.8,396.5 841.6,395.7 C846.4,394.8 851.3,394.1 856.1,393.2 C860.9,392.4 865.8,391.6 870.5,390.8 C875.2,389.9 879.9,389.1 884.4,388.1 C889.0,387.2 893.4,386.2 897.7,385.2 C902.0,384.1 906.2,383.0 910.2,381.9 C914.2,380.7 918.0,379.4 921.7,378.1 C925.3,376.8 928.8,375.4 932.1,374.0 C935.4,372.5 938.5,371.0 941.5,369.4 C944.4,367.8 947.2,366.2 949.9,364.5 C952.5,362.8 955.0,361.0 957.5,359.3 C959.9,357.5 962.1,355.7 964.4,353.9 C966.6,352.1 968.8,350.3 970.9,348.5 C973.1,346.7 975.2,344.9 977.4,343.2 C979.5,341.5 981.7,339.7 983.9,338.1 C986.2,336.4 988.5,334.8 990.9,333.2 C993.4,331.7 995.9,330.2 998.6,328.8 C1001.3,327.4 1004.1,326.1 1007.1,324.9 C1010.0,323.7 1013.2,322.5 1016.5,321.5 C1019.9,320.4 1023.4,319.5 1027.0,318.6 C1030.7,317.7 1034.6,316.9 1038.6,316.2 C1042.6,315.5 1046.8,314.9 1051.1,314.3 C1055.4,313.8 1059.9,313.3 1064.5,312.9 C1069.0,312.4 1073.8,312.1 1078.5,311.7 C1083.2,311.4 1088.1,311.1 1092.9,310.8 C1097.7,310.5 1102.6,310.3 1107.4,310.0 C1112.2,309.8 1117.0,309.5 1121.8,309.3 C1126.5,309.0 1131.2,308.8 1135.7,308.5 C1140.2,308.2 1144.7,307.8 1149.0,307.5 C1153.3,307.1 1157.5,306.7 1161.5,306.3 C1165.5,305.8 1169.3,305.4 1172.9,304.8 C1176.6,304.3 1180.1,303.7 1183.4,303.1 C1186.7,302.5 1189.8,301.8 1192.7,301.1 C1195.7,300.4 1198.5,299.7 1201.2,298.9 C1203.8,298.1 1206.3,297.3 1208.7,296.5 C1211.2,295.7 1213.4,294.9 1215.7,294.0 C1217.9,293.2 1220.1,292.4 1222.2,291.5 C1224.4,290.7 1226.5,289.9 1228.7,289.1 C1230.8,288.4 1233.0,287.6 1235.2,286.9 C1237.5,286.2 1239.8,285.6 1242.2,285.0 C1244.7,284.4 1248.6,283.7 1249.9,283.4"/>
<path d="M503.4,610.1 C504.5,608.6 507.7,603.8 509.9,600.6 C512.0,597.5 514.2,594.3 516.4,591.3 C518.6,588.2 520.9,585.2 523.3,582.3 C525.7,579.4 528.2,576.6 530.8,573.9 C533.5,571.2 536.3,568.6 539.2,566.1 C542.1,563.7 545.2,561.3 548.5,559.1 C551.8,556.9 555.2,554.9 558.9,553.0 C562.5,551.0 566.3,549.3 570.3,547.6 C574.2,545.9 578.4,544.4 582.7,542.9 C587.0,541.5 591.4,540.1 595.9,538.9 C600.5,537.6 605.1,536.4 609.8,535.3 C614.6,534.1 619.4,533.1 624.2,532.0 C629.0,530.9 633.9,529.8 638.7,528.8 C643.5,527.7 648.4,526.6 653.1,525.5 C657.9,524.3 662.6,523.2 667.1,521.9 C671.7,520.6 676.2,519.3 680.6,517.9 C684.9,516.5 689.1,515.0 693.1,513.4 C697.2,511.8 701.1,510.1 704.8,508.3 C708.5,506.5 712.0,504.6 715.3,502.5 C718.7,500.5 721.9,498.4 724.9,496.2 C727.9,494.0 730.7,491.6 733.4,489.3 C736.1,486.9 738.7,484.4 741.1,481.9 C743.6,479.4 745.9,476.8 748.1,474.2 C750.4,471.6 752.6,469.0 754.7,466.4 C756.9,463.8 759.0,461.2 761.2,458.6 C763.3,456.0 765.4,453.5 767.7,451.0 C769.9,448.5 772.2,446.1 774.6,443.7 C777.0,441.4 779.5,439.1 782.1,436.9 C784.8,434.7 787.5,432.6 790.5,430.6 C793.4,428.7 796.5,426.8 799.8,425.0 C803.1,423.2 806.5,421.6 810.2,420.0 C813.8,418.5 817.6,417.1 821.6,415.7 C825.5,414.4 829.7,413.1 834.0,412.0 C838.2,410.8 842.7,409.7 847.2,408.7 C851.7,407.7 856.4,406.7 861.1,405.8 C865.8,404.9 870.7,404.1 875.5,403.2 C880.3,402.3 885.2,401.5 890.0,400.7 C894.8,399.8 899.7,399.0 904.4,398.1 C909.1,397.2 913.9,396.4 918.4,395.4 C923.0,394.5 927.5,393.5 931.8,392.4 C936.2,391.4 940.4,390.3 944.4,389.1 C948.5,387.9 952.3,386.7 956.0,385.4 C959.7,384.0 963.3,382.7 966.6,381.2 C970.0,379.8 973.1,378.2 976.2,376.7 C979.2,375.1 982.0,373.4 984.7,371.7 C987.4,370.1 989.9,368.3 992.4,366.6 C994.8,364.8 997.1,363.0 999.4,361.2 C1001.7,359.4 1003.8,357.6 1006.0,355.8 C1008.2,354.0 1010.3,352.2 1012.4,350.5 C1014.6,348.7 1016.7,347.0 1019.0,345.3 C1021.2,343.6 1023.5,342.0 1025.9,340.4 C1028.3,338.9 1030.8,337.4 1033.4,336.0 C1036.1,334.5 1038.8,333.2 1041.8,331.9 C1044.7,330.7 1047.8,329.5 1051.1,328.5 C1054.4,327.4 1057.8,326.4 1061.4,325.5 C1065.1,324.6 1068.9,323.8 1072.8,323.1 C1076.8,322.3 1081.0,321.7 1085.2,321.1 C1089.5,320.6 1094.0,320.1 1098.5,319.6 C1103.0,319.2 1107.7,318.8 1112.4,318.5 C1117.1,318.1 1121.9,317.8 1126.8,317.5 C1131.6,317.3 1136.4,317.0 1141.3,316.8 C1146.1,316.5 1150.9,316.3 1155.7,316.1 C1160.4,315.8 1165.1,315.6 1169.7,315.3 C1174.3,315.0 1178.8,314.8 1183.1,314.4 C1187.4,314.1 1191.7,313.7 1195.7,313.3 C1199.7,312.9 1203.6,312.5 1207.3,312.0 C1211.0,311.5 1214.6,311.0 1217.9,310.4 C1221.3,309.8 1224.4,309.2 1227.4,308.6 C1230.5,307.9 1233.3,307.2 1236.0,306.5 C1238.7,305.8 1241.2,305.0 1243.7,304.3 C1246.1,303.5 1248.4,302.7 1250.7,301.9 C1253.0,301.1 1255.1,300.3 1257.3,299.5 C1259.5,298.8 1261.6,298.0 1263.7,297.2 C1265.9,296.5 1268.0,295.8 1270.2,295.1 C1272.5,294.5 1276.0,293.6 1277.2,293.3"/>
<path d="M531.9,632.1 C533.0,630.5 536.3,625.8 538.5,622.6 C540.7,619.4 542.8,616.2 544.9,613.0 C547.1,609.8 549.2,606.6 551.4,603.5 C553.7,600.4 555.9,597.3 558.3,594.4 C560.6,591.4 563.1,588.5 565.7,585.7 C568.3,583.0 571.0,580.3 573.9,577.8 C576.8,575.2 579.9,572.8 583.1,570.5 C586.3,568.3 589.7,566.1 593.3,564.1 C596.9,562.1 600.6,560.2 604.6,558.5 C608.5,556.7 612.6,555.1 616.8,553.6 C621.0,552.0 625.5,550.6 629.9,549.3 C634.4,547.9 639.1,546.7 643.8,545.5 C648.5,544.2 653.3,543.1 658.1,542.0 C662.9,540.8 667.8,539.7 672.6,538.6 C677.4,537.5 682.3,536.3 687.0,535.2 C691.8,534.0 696.5,532.8 701.1,531.5 C705.7,530.2 710.3,528.9 714.6,527.4 C719.0,526.0 723.3,524.5 727.4,522.8 C731.4,521.2 735.4,519.5 739.1,517.7 C742.9,515.9 746.5,513.9 749.9,511.9 C753.3,509.9 756.5,507.7 759.5,505.5 C762.6,503.3 765.5,500.9 768.2,498.6 C771.0,496.2 773.5,493.7 776.0,491.2 C778.5,488.6 780.8,486.0 783.1,483.4 C785.4,480.8 787.6,478.2 789.8,475.6 C792.0,472.9 794.1,470.3 796.2,467.7 C798.4,465.1 800.5,462.5 802.7,459.9 C804.9,457.4 807.2,454.9 809.6,452.5 C811.9,450.1 814.4,447.8 817.0,445.6 C819.6,443.3 822.3,441.2 825.2,439.1 C828.1,437.1 831.1,435.2 834.4,433.3 C837.6,431.5 841.0,429.8 844.6,428.2 C848.2,426.6 851.9,425.1 855.8,423.7 C859.8,422.2 863.9,420.9 868.1,419.7 C872.3,418.5 876.7,417.4 881.2,416.3 C885.7,415.2 890.4,414.2 895.1,413.3 C899.8,412.3 904.6,411.4 909.4,410.5 C914.2,409.6 919.0,408.7 923.9,407.9 C928.7,407.0 933.6,406.1 938.3,405.2 C943.1,404.3 947.8,403.4 952.4,402.5 C957.0,401.5 961.5,400.5 965.9,399.4 C970.3,398.4 974.6,397.3 978.6,396.1 C982.7,394.9 986.7,393.7 990.4,392.4 C994.2,391.1 997.7,389.7 1001.1,388.2 C1004.5,386.8 1007.8,385.3 1010.8,383.7 C1013.9,382.1 1016.8,380.5 1019.5,378.8 C1022.3,377.1 1024.8,375.4 1027.3,373.7 C1029.8,371.9 1032.1,370.1 1034.4,368.3 C1036.7,366.5 1038.9,364.7 1041.1,362.9 C1043.2,361.1 1045.3,359.3 1047.5,357.6 C1049.6,355.8 1051.8,354.1 1054.0,352.4 C1056.2,350.7 1058.5,349.1 1060.8,347.5 C1063.2,345.9 1065.7,344.4 1068.3,343.0 C1070.9,341.5 1073.6,340.2 1076.5,338.9 C1079.4,337.6 1082.4,336.4 1085.6,335.3 C1088.9,334.3 1092.3,333.2 1095.9,332.3 C1099.4,331.4 1103.2,330.6 1107.1,329.8 C1111.0,329.1 1115.1,328.4 1119.4,327.9 C1123.6,327.3 1128.0,326.8 1132.5,326.3 C1137.0,325.9 1141.7,325.5 1146.3,325.1 C1151.0,324.8 1155.8,324.5 1160.6,324.2 C1165.4,324.0 1170.3,323.7 1175.1,323.5 C1180.0,323.3 1184.8,323.1 1189.6,322.8 C1194.3,322.6 1199.1,322.4 1203.7,322.2 C1208.3,321.9 1212.8,321.7 1217.2,321.4 C1221.6,321.1 1225.8,320.8 1229.9,320.4 C1234.0,320.0 1237.9,319.6 1241.7,319.2 C1245.4,318.8 1249.0,318.3 1252.4,317.8 C1255.8,317.2 1259.0,316.7 1262.1,316.1 C1265.2,315.5 1268.0,314.8 1270.8,314.1 C1273.5,313.5 1276.1,312.8 1278.6,312.1 C1281.1,311.3 1283.4,310.6 1285.7,309.9 C1288.0,309.1 1290.2,308.4 1292.3,307.6 C1294.5,306.9 1296.6,306.2 1298.8,305.5 C1300.9,304.8 1304.2,303.8 1305.3,303.5"/>
<path d="M559.7,653.7 C560.9,652.1 564.5,647.5 566.9,644.4 C569.2,641.2 571.4,638.0 573.5,634.8 C575.7,631.5 577.8,628.3 580.0,625.0 C582.1,621.8 584.3,618.6 586.5,615.4 C588.7,612.3 590.9,609.1 593.2,606.1 C595.6,603.1 598.0,600.1 600.6,597.3 C603.1,594.4 605.8,591.7 608.7,589.1 C611.5,586.5 614.5,584.0 617.7,581.6 C620.9,579.3 624.2,577.0 627.7,575.0 C631.3,572.9 635.0,570.9 638.8,569.1 C642.7,567.2 646.8,565.5 651.0,563.9 C655.2,562.3 659.5,560.8 664.0,559.4 C668.4,558.0 673.1,556.6 677.7,555.4 C682.4,554.1 687.2,552.9 692.0,551.7 C696.8,550.5 701.6,549.3 706.5,548.1 C711.3,546.9 716.2,545.8 720.9,544.5 C725.7,543.3 730.5,542.1 735.1,540.8 C739.7,539.4 744.3,538.1 748.7,536.6 C753.1,535.1 757.4,533.6 761.6,532.0 C765.7,530.3 769.7,528.6 773.5,526.7 C777.3,524.9 780.9,523.0 784.4,520.9 C787.8,518.9 791.1,516.7 794.2,514.5 C797.3,512.3 800.2,509.9 803.0,507.5 C805.8,505.1 808.4,502.6 810.9,500.1 C813.5,497.6 815.8,495.0 818.1,492.3 C820.4,489.7 822.6,487.1 824.8,484.4 C827.0,481.7 829.1,479.1 831.3,476.4 C833.4,473.8 835.5,471.2 837.7,468.6 C840.0,466.0 842.2,463.5 844.5,461.1 C846.9,458.6 849.3,456.2 851.8,453.9 C854.4,451.7 857.1,449.4 859.9,447.4 C862.8,445.3 865.8,443.3 869.0,441.4 C872.1,439.5 875.5,437.7 879.0,436.0 C882.5,434.4 886.3,432.8 890.1,431.3 C894.0,429.9 898.1,428.5 902.2,427.2 C906.4,426.0 910.8,424.8 915.3,423.6 C919.7,422.5 924.3,421.5 929.0,420.5 C933.7,419.5 938.5,418.5 943.3,417.6 C948.0,416.6 952.9,415.7 957.7,414.8 C962.6,413.9 967.4,413.0 972.2,412.1 C977.0,411.2 981.7,410.3 986.4,409.3 C991.0,408.3 995.6,407.3 1000.0,406.2 C1004.4,405.2 1008.7,404.1 1012.8,402.9 C1017.0,401.7 1021.0,400.5 1024.8,399.2 C1028.6,397.9 1032.2,396.5 1035.6,395.0 C1039.1,393.6 1042.4,392.1 1045.5,390.5 C1048.6,389.0 1051.5,387.4 1054.3,385.7 C1057.1,384.0 1059.7,382.3 1062.2,380.6 C1064.7,378.8 1067.1,377.0 1069.4,375.3 C1071.7,373.5 1073.9,371.7 1076.1,369.9 C1078.3,368.1 1080.4,366.3 1082.6,364.5 C1084.7,362.8 1086.8,361.0 1089.0,359.3 C1091.2,357.6 1093.5,356.0 1095.8,354.4 C1098.2,352.8 1100.6,351.3 1103.1,349.9 C1105.7,348.4 1108.4,347.0 1111.2,345.7 C1114.1,344.5 1117.1,343.3 1120.2,342.2 C1123.4,341.0 1126.8,340.0 1130.3,339.1 C1133.8,338.2 1137.5,337.3 1141.4,336.6 C1145.3,335.8 1149.3,335.1 1153.5,334.5 C1157.7,333.9 1162.1,333.4 1166.5,333.0 C1171.0,332.5 1175.6,332.1 1180.3,331.8 C1185.0,331.4 1189.7,331.2 1194.5,330.9 C1199.3,330.6 1204.2,330.4 1209.0,330.2 C1213.9,330.0 1218.7,329.8 1223.5,329.6 C1228.3,329.4 1233.0,329.2 1237.7,329.0 C1242.3,328.8 1246.9,328.6 1251.3,328.3 C1255.7,328.1 1260.0,327.8 1264.1,327.5 C1268.2,327.2 1272.2,326.8 1276.0,326.4 C1279.8,326.1 1283.5,325.6 1286.9,325.2 C1290.4,324.7 1293.6,324.2 1296.8,323.6 C1299.9,323.1 1302.8,322.5 1305.6,321.9 C1308.4,321.3 1311.0,320.6 1313.5,320.0 C1316.0,319.3 1318.4,318.6 1320.7,317.9 C1323.0,317.2 1325.2,316.5 1327.4,315.9 C1329.6,315.2 1332.8,314.2 1333.8,313.9"/>
<path d="M586.5,674.5 C587.8,673.0 592.0,668.7 594.6,665.6 C597.1,662.6 599.5,659.5 601.8,656.3 C604.2,653.1 606.4,649.8 608.6,646.6 C610.8,643.3 612.9,640.0 615.1,636.8 C617.2,633.5 619.3,630.2 621.5,627.0 C623.7,623.8 625.9,620.6 628.2,617.5 C630.5,614.5 632.9,611.4 635.5,608.5 C638.0,605.6 640.6,602.8 643.4,600.1 C646.2,597.4 649.2,594.9 652.3,592.4 C655.4,590.0 658.7,587.7 662.2,585.5 C665.7,583.3 669.3,581.3 673.2,579.4 C677.0,577.4 681.0,575.7 685.1,574.0 C689.3,572.3 693.6,570.7 698.0,569.2 C702.5,567.7 707.0,566.3 711.7,564.9 C716.3,563.6 721.1,562.3 725.9,561.1 C730.6,559.8 735.5,558.6 740.3,557.3 C745.2,556.1 750.0,554.9 754.8,553.6 C759.6,552.3 764.4,551.1 769.1,549.7 C773.7,548.3 778.3,547.0 782.8,545.5 C787.2,544.0 791.6,542.4 795.7,540.8 C799.9,539.1 803.9,537.3 807.8,535.5 C811.6,533.6 815.3,531.7 818.8,529.6 C822.3,527.6 825.7,525.4 828.8,523.2 C832.0,521.0 835.0,518.6 837.8,516.2 C840.6,513.8 843.3,511.3 845.8,508.7 C848.4,506.2 850.8,503.6 853.1,500.9 C855.5,498.3 857.7,495.6 859.9,492.9 C862.1,490.3 864.2,487.6 866.3,484.9 C868.5,482.2 870.6,479.6 872.8,477.0 C875.0,474.4 877.2,471.8 879.5,469.3 C881.8,466.8 884.2,464.4 886.7,462.1 C889.3,459.7 891.9,457.5 894.7,455.3 C897.5,453.2 900.5,451.1 903.6,449.2 C906.7,447.2 910.0,445.4 913.5,443.7 C917.0,441.9 920.6,440.3 924.4,438.8 C928.3,437.3 932.3,435.9 936.4,434.5 C940.6,433.2 944.9,431.9 949.3,430.8 C953.7,429.6 958.3,428.5 963.0,427.4 C967.6,426.4 972.4,425.4 977.2,424.4 C981.9,423.4 986.8,422.5 991.6,421.6 C996.5,420.6 1001.3,419.7 1006.1,418.8 C1010.9,417.8 1015.7,416.9 1020.3,415.9 C1025.0,414.9 1029.6,413.9 1034.0,412.8 C1038.5,411.8 1042.8,410.7 1047.0,409.5 C1051.2,408.3 1055.2,407.1 1059.1,405.8 C1062.9,404.5 1066.6,403.1 1070.1,401.7 C1073.6,400.2 1076.9,398.8 1080.1,397.2 C1083.3,395.7 1086.2,394.1 1089.1,392.4 C1091.9,390.8 1094.6,389.0 1097.1,387.3 C1099.7,385.6 1102.1,383.8 1104.4,382.0 C1106.7,380.3 1108.9,378.5 1111.1,376.7 C1113.4,374.9 1115.5,373.1 1117.6,371.3 C1119.8,369.6 1121.9,367.8 1124.1,366.2 C1126.3,364.5 1128.5,362.8 1130.8,361.2 C1133.1,359.6 1135.5,358.1 1138.0,356.6 C1140.5,355.2 1143.2,353.8 1146.0,352.5 C1148.8,351.2 1151.7,350.0 1154.9,348.9 C1158.0,347.8 1161.3,346.7 1164.8,345.8 C1168.2,344.8 1171.9,344.0 1175.7,343.2 C1179.5,342.4 1183.5,341.8 1187.7,341.2 C1191.8,340.6 1196.2,340.0 1200.6,339.6 C1205.0,339.1 1209.6,338.7 1214.2,338.4 C1218.9,338.1 1223.7,337.8 1228.4,337.5 C1233.2,337.3 1238.1,337.1 1242.9,336.9 C1247.7,336.7 1252.6,336.6 1257.4,336.4 C1262.2,336.2 1267.0,336.1 1271.6,335.9 C1276.3,335.7 1280.9,335.5 1285.3,335.3 C1289.8,335.1 1294.1,334.9 1298.3,334.6 C1302.5,334.4 1306.5,334.1 1310.4,333.7 C1314.2,333.4 1317.9,333.0 1321.4,332.6 C1324.9,332.2 1328.2,331.8 1331.4,331.3 C1334.5,330.8 1337.5,330.3 1340.3,329.7 C1343.2,329.2 1345.8,328.6 1348.4,328.0 C1350.9,327.4 1353.3,326.7 1355.7,326.1 C1358.0,325.5 1361.3,324.5 1362.4,324.2"/>
<path d="M612.2,694.3 C613.7,692.9 618.4,689.0 621.3,686.1 C624.1,683.3 626.8,680.3 629.4,677.3 C632.0,674.2 634.4,671.1 636.8,667.9 C639.2,664.7 641.4,661.4 643.6,658.1 C645.8,654.8 648.0,651.5 650.1,648.2 C652.3,644.9 654.4,641.6 656.6,638.3 C658.7,635.0 660.9,631.8 663.2,628.7 C665.5,625.5 667.9,622.4 670.4,619.5 C672.9,616.5 675.4,613.6 678.2,610.8 C681.0,608.1 683.9,605.4 686.9,602.9 C690.0,600.4 693.3,598.0 696.7,595.8 C700.1,593.5 703.7,591.4 707.5,589.4 C711.3,587.4 715.2,585.5 719.3,583.7 C723.4,581.9 727.7,580.3 732.1,578.7 C736.5,577.1 741.0,575.7 745.6,574.2 C750.3,572.8 755.0,571.5 759.8,570.1 C764.5,568.8 769.4,567.5 774.2,566.2 C779.1,565.0 783.9,563.7 788.7,562.4 C793.5,561.1 798.3,559.7 803.0,558.3 C807.7,557.0 812.3,555.5 816.8,554.0 C821.3,552.5 825.7,550.9 829.9,549.2 C834.1,547.6 838.2,545.8 842.1,543.9 C846.0,542.1 849.7,540.1 853.3,538.0 C856.8,536.0 860.2,533.8 863.4,531.6 C866.6,529.3 869.7,527.0 872.5,524.6 C875.4,522.1 878.1,519.6 880.7,517.1 C883.3,514.5 885.7,511.9 888.1,509.2 C890.5,506.6 892.7,503.9 894.9,501.2 C897.1,498.5 899.2,495.8 901.4,493.1 C903.5,490.4 905.6,487.7 907.8,485.0 C910.0,482.4 912.2,479.8 914.5,477.3 C916.8,474.8 919.1,472.3 921.6,469.9 C924.1,467.5 926.7,465.2 929.5,463.0 C932.3,460.8 935.1,458.7 938.2,456.7 C941.3,454.7 944.5,452.8 948.0,451.0 C951.4,449.3 955.0,447.6 958.8,446.0 C962.5,444.4 966.5,443.0 970.6,441.6 C974.7,440.2 979.0,438.9 983.4,437.7 C987.8,436.4 992.3,435.3 996.9,434.2 C1001.5,433.1 1006.3,432.1 1011.1,431.1 C1015.8,430.0 1020.7,429.1 1025.5,428.1 C1030.3,427.2 1035.2,426.2 1040.0,425.3 C1044.8,424.3 1049.6,423.3 1054.3,422.3 C1059.0,421.3 1063.6,420.3 1068.1,419.2 C1072.6,418.2 1077.0,417.0 1081.2,415.9 C1085.4,414.7 1089.5,413.5 1093.4,412.2 C1097.3,410.9 1101.0,409.5 1104.6,408.1 C1108.1,406.7 1111.5,405.2 1114.7,403.7 C1117.9,402.2 1120.9,400.6 1123.8,398.9 C1126.7,397.3 1129.4,395.6 1132.0,393.9 C1134.6,392.2 1137.0,390.4 1139.4,388.7 C1141.7,386.9 1144.0,385.1 1146.2,383.4 C1148.4,381.6 1150.5,379.8 1152.7,378.0 C1154.8,376.3 1156.9,374.6 1159.1,372.9 C1161.3,371.2 1163.5,369.5 1165.8,367.9 C1168.1,366.3 1170.4,364.8 1172.9,363.4 C1175.4,361.9 1178.0,360.5 1180.8,359.2 C1183.5,357.9 1186.4,356.7 1189.5,355.5 C1192.6,354.4 1195.8,353.4 1199.2,352.4 C1202.7,351.5 1206.3,350.6 1210.0,349.8 C1213.8,349.1 1217.8,348.4 1221.9,347.8 C1226.0,347.2 1230.3,346.7 1234.7,346.2 C1239.0,345.7 1243.6,345.4 1248.2,345.0 C1252.8,344.7 1257.6,344.4 1262.3,344.2 C1267.1,344.0 1272.0,343.8 1276.8,343.6 C1281.6,343.5 1286.5,343.3 1291.3,343.2 C1296.1,343.1 1300.9,342.9 1305.6,342.8 C1310.2,342.7 1314.9,342.5 1319.4,342.4 C1323.8,342.2 1328.2,342.0 1332.5,341.8 C1336.7,341.6 1340.8,341.4 1344.7,341.1 C1348.6,340.8 1352.3,340.5 1355.9,340.2 C1359.4,339.8 1362.8,339.4 1366.0,339.0 C1369.2,338.6 1372.2,338.1 1375.1,337.7 C1378.0,337.2 1380.7,336.7 1383.3,336.1 C1385.9,335.6 1389.4,334.7 1390.7,334.5"/>
<path d="M636.4,713.1 C638.2,711.9 643.5,708.3 646.7,705.7 C650.0,703.1 653.1,700.3 656.0,697.5 C658.9,694.6 661.7,691.6 664.3,688.6 C666.9,685.5 669.4,682.3 671.8,679.1 C674.2,675.9 676.4,672.6 678.7,669.3 C680.9,666.0 683.0,662.6 685.2,659.3 C687.3,655.9 689.4,652.6 691.6,649.3 C693.8,646.0 695.9,642.7 698.2,639.5 C700.5,636.3 702.8,633.1 705.3,630.1 C707.7,627.0 710.3,624.1 713.0,621.3 C715.7,618.4 718.6,615.7 721.6,613.1 C724.6,610.5 727.8,608.0 731.2,605.7 C734.6,603.4 738.1,601.1 741.8,599.1 C745.6,597.0 749.5,595.0 753.5,593.2 C757.6,591.3 761.8,589.6 766.2,587.9 C770.5,586.3 775.0,584.7 779.6,583.2 C784.2,581.7 788.9,580.3 793.7,578.9 C798.4,577.5 803.3,576.2 808.1,574.9 C812.9,573.5 817.8,572.2 822.6,570.8 C827.4,569.5 832.2,568.1 836.9,566.7 C841.6,565.3 846.3,563.8 850.8,562.3 C855.3,560.7 859.8,559.1 864.0,557.4 C868.3,555.7 872.4,553.9 876.4,552.1 C880.3,550.2 884.1,548.2 887.7,546.1 C891.3,544.1 894.8,541.9 898.0,539.6 C901.3,537.4 904.3,535.0 907.3,532.6 C910.2,530.2 912.9,527.7 915.6,525.1 C918.2,522.5 920.7,519.9 923.1,517.2 C925.4,514.6 927.7,511.8 929.9,509.1 C932.2,506.4 934.3,503.7 936.5,501.0 C938.6,498.2 940.7,495.5 942.9,492.9 C945.1,490.2 947.2,487.5 949.5,485.0 C951.8,482.4 954.1,479.9 956.6,477.5 C959.0,475.1 961.6,472.7 964.3,470.5 C967.0,468.2 969.9,466.1 972.9,464.0 C975.9,462.0 979.1,460.0 982.5,458.2 C985.9,456.4 989.4,454.6 993.1,453.0 C996.8,451.4 1000.8,449.8 1004.8,448.4 C1008.9,447.0 1013.1,445.6 1017.5,444.3 C1021.8,443.1 1026.3,441.9 1030.9,440.7 C1035.5,439.6 1040.2,438.5 1045.0,437.5 C1049.7,436.4 1054.6,435.5 1059.4,434.5 C1064.2,433.5 1069.1,432.5 1073.9,431.5 C1078.7,430.5 1083.5,429.6 1088.2,428.6 C1092.9,427.5 1097.6,426.5 1102.1,425.4 C1106.6,424.4 1111.1,423.3 1115.3,422.1 C1119.6,420.9 1123.7,419.7 1127.7,418.4 C1131.6,417.1 1135.4,415.8 1139.0,414.4 C1142.6,413.0 1146.0,411.5 1149.3,410.0 C1152.6,408.5 1155.6,406.9 1158.6,405.3 C1161.5,403.7 1164.2,402.1 1166.8,400.4 C1169.5,398.7 1171.9,396.9 1174.3,395.2 C1176.7,393.4 1179.0,391.7 1181.2,389.9 C1183.4,388.1 1185.6,386.4 1187.7,384.6 C1189.9,382.9 1192.0,381.2 1194.2,379.5 C1196.3,377.8 1198.5,376.1 1200.8,374.6 C1203.1,373.0 1205.4,371.4 1207.8,370.0 C1210.3,368.5 1212.8,367.1 1215.6,365.8 C1218.3,364.5 1221.1,363.3 1224.2,362.2 C1227.2,361.0 1230.4,360.0 1233.8,359.0 C1237.1,358.1 1240.7,357.2 1244.4,356.4 C1248.1,355.7 1252.0,355.0 1256.1,354.4 C1260.1,353.8 1264.4,353.3 1268.7,352.8 C1273.1,352.4 1277.6,352.0 1282.2,351.7 C1286.8,351.4 1291.5,351.1 1296.2,350.9 C1301.0,350.7 1305.8,350.5 1310.7,350.4 C1315.5,350.2 1320.4,350.2 1325.2,350.1 C1330.0,350.0 1334.8,349.9 1339.5,349.8 C1344.2,349.7 1348.9,349.6 1353.4,349.5 C1357.9,349.4 1362.3,349.3 1366.6,349.1 C1370.9,349.0 1375.0,348.8 1378.9,348.6 C1382.9,348.4 1386.7,348.1 1390.3,347.8 C1393.9,347.6 1397.3,347.3 1400.6,346.9 C1403.8,346.6 1406.9,346.2 1409.8,345.8 C1412.8,345.3 1416.7,344.6 1418.1,344.4"/>
<path d="M659.4,730.9 C661.3,729.7 667.2,726.5 670.8,724.2 C674.5,721.8 678.0,719.3 681.3,716.7 C684.6,714.1 687.7,711.3 690.7,708.5 C693.7,705.6 696.5,702.6 699.1,699.6 C701.8,696.5 704.3,693.3 706.7,690.1 C709.1,686.8 711.4,683.5 713.7,680.2 C715.9,676.8 718.1,673.4 720.2,670.0 C722.4,666.7 724.5,663.2 726.7,659.9 C728.8,656.6 731.0,653.2 733.2,650.0 C735.5,646.7 737.8,643.5 740.2,640.4 C742.6,637.3 745.1,634.3 747.8,631.4 C750.5,628.5 753.3,625.7 756.3,623.0 C759.3,620.3 762.4,617.8 765.7,615.3 C769.1,612.9 772.6,610.6 776.2,608.5 C779.9,606.3 783.8,604.3 787.8,602.3 C791.8,600.4 796.0,598.6 800.3,596.8 C804.6,595.1 809.1,593.5 813.6,591.9 C818.2,590.4 822.9,588.9 827.6,587.4 C832.3,586.0 837.2,584.6 842.0,583.2 C846.8,581.8 851.7,580.4 856.5,579.0 C861.3,577.6 866.2,576.2 870.9,574.7 C875.6,573.3 880.3,571.8 884.8,570.2 C889.4,568.6 893.9,567.0 898.2,565.3 C902.5,563.6 906.6,561.8 910.6,559.9 C914.6,558.0 918.5,556.0 922.1,553.9 C925.8,551.8 929.3,549.7 932.6,547.4 C935.9,545.1 939.0,542.8 942.0,540.4 C945.0,537.9 947.7,535.4 950.4,532.8 C953.1,530.3 955.6,527.6 958.0,524.9 C960.4,522.3 962.7,519.5 965.0,516.8 C967.2,514.1 969.4,511.3 971.5,508.6 C973.7,505.8 975.8,503.1 977.9,500.4 C980.1,497.7 982.2,495.0 984.5,492.4 C986.8,489.8 989.0,487.3 991.5,484.8 C993.9,482.4 996.4,480.0 999.1,477.7 C1001.8,475.4 1004.6,473.2 1007.6,471.1 C1010.6,469.0 1013.7,467.0 1017.0,465.1 C1020.3,463.2 1023.8,461.4 1027.5,459.8 C1031.2,458.1 1035.0,456.5 1039.0,455.0 C1043.0,453.5 1047.2,452.1 1051.6,450.8 C1055.9,449.5 1060.3,448.3 1064.9,447.1 C1069.5,445.9 1074.2,444.8 1078.9,443.7 C1083.6,442.7 1088.4,441.6 1093.3,440.6 C1098.1,439.6 1103.0,438.6 1107.8,437.6 C1112.6,436.6 1117.4,435.6 1122.2,434.6 C1126.9,433.6 1133.8,432.0 1136.1,431.5"/>
<path d="M1216.2,396.3 C1217.3,395.5 1220.6,392.8 1222.8,391.1 C1225.0,389.4 1227.1,387.7 1229.2,386.0 C1231.4,384.3 1233.5,382.7 1235.8,381.1 C1238.0,379.5 1240.3,378.0 1242.8,376.6 C1245.2,375.1 1247.7,373.7 1250.4,372.4 C1253.1,371.1 1255.9,369.9 1258.8,368.7 C1261.8,367.6 1265.0,366.6 1268.3,365.6 C1271.6,364.7 1275.1,363.8 1278.8,363.0 C1282.5,362.3 1286.3,361.6 1290.3,361.0 C1294.3,360.4 1298.5,359.9 1302.8,359.4 C1307.1,359.0 1311.6,358.6 1316.2,358.3 C1320.7,358.0 1325.4,357.8 1330.2,357.6 C1334.9,357.4 1342.1,357.3 1344.5,357.2"/>
<path d="M755.3,680.5 C756.4,678.8 759.6,673.6 761.7,670.2 C763.9,666.8 766.0,663.4 768.2,660.1 C770.5,656.8 772.7,653.5 775.1,650.4 C777.5,647.2 780.0,644.1 782.7,641.2 C785.3,638.2 788.1,635.3 791.0,632.6 C793.9,629.8 797.0,627.2 800.3,624.7 C803.6,622.2 807.0,619.8 810.6,617.6 C814.2,615.3 818.1,613.2 822.0,611.2 C826.0,609.2 830.1,607.3 834.4,605.5 C838.7,603.7 843.1,602.0 847.6,600.3 C852.1,598.7 856.8,597.1 861.5,595.6 C866.2,594.1 873.5,591.9 875.9,591.2"/>
<path d="M1026.4,491.9 C1027.7,490.7 1031.3,487.0 1033.9,484.6 C1036.6,482.3 1039.3,480.1 1042.3,477.9 C1045.2,475.8 1048.3,473.7 1051.6,471.8 C1054.8,469.9 1058.3,468.0 1061.9,466.3 C1065.5,464.6 1069.3,463.0 1073.3,461.4 C1077.3,459.9 1083.6,457.8 1085.7,457.1"/>
</g>
<path d="M730,398 C735,432 744,468 758,502 L822,482 C812,460 806,440 802,418 Z" fill="url(#arrowLow)"/>
<path d="M218.0,238.0 C223.3,241.2 239.7,251.0 250.0,257.0 C260.3,263.0 266.7,267.3 280.0,274.0 C293.3,280.7 314.0,289.8 330.0,297.0 C346.0,304.2 358.2,309.7 376.0,317.0 C393.8,324.3 420.2,334.6 437.0,341.0 C453.8,347.4 466.5,351.8 477.0,355.5 C487.5,359.2 491.2,360.6 500.0,363.0 C508.8,365.4 518.9,367.0 530.0,370.0 C541.1,373.0 555.0,377.7 566.7,381.0 C578.4,384.3 589.0,387.1 600.0,390.0 C611.0,392.9 623.0,396.2 633.0,398.7 C643.0,401.2 648.8,402.6 660.0,405.0 C671.2,407.4 687.8,411.3 700.0,413.3 C712.2,415.3 714.2,415.0 733.0,417.0 C751.8,419.0 786.3,423.9 813.0,425.5 C839.7,427.1 861.8,427.9 893.0,426.5 C924.2,425.1 965.5,422.4 1000.0,417.0 C1034.5,411.6 1073.3,402.5 1100.0,394.0 C1126.7,385.5 1143.3,374.8 1160.0,366.0 C1176.7,357.2 1193.3,345.2 1200.0,341.0 L1200,330 L1100,360 L760,349 L218,238 Z" fill="url(#underG)"/>
<path d="M218.0,238.3 C223.3,240.8 239.7,248.7 250.0,253.3 C260.3,257.9 266.7,261.2 280.0,266.2 C293.3,271.2 313.3,278.5 330.0,283.5 C346.7,288.5 363.3,292.3 380.0,296.2 C396.7,300.1 410.0,302.8 430.0,306.9 C450.0,311.0 483.3,317.8 500.0,320.9 C516.7,324.0 519.8,324.2 530.0,325.5 C540.2,326.8 546.0,327.1 561.0,328.9 C576.0,330.7 596.8,333.5 620.0,336.2 C643.2,338.9 676.7,342.4 700.0,344.9 C723.3,347.4 750.0,350.0 760.0,351.0 C764.5,354.5 775.8,365.0 787.0,372.0 C798.2,379.0 813.7,387.3 827.0,393.0 C840.3,398.7 851.5,402.8 867.0,406.0 C882.5,409.2 897.8,411.8 920.0,412.0 C942.2,412.2 973.3,410.5 1000.0,407.0 C1026.7,403.5 1053.3,398.7 1080.0,391.0 C1106.7,383.3 1138.0,370.7 1160.0,361.0 C1182.0,351.3 1195.3,343.2 1212.0,333.0 C1228.7,322.8 1246.8,311.2 1260.0,300.0 C1273.2,288.8 1285.8,271.7 1291.0,266.0 L1291,265 C1285.5,267.9 1267.7,278.5 1258.0,285.0 C1248.3,291.5 1242.7,296.8 1233.0,303.5 C1223.3,310.2 1211.0,318.3 1200.0,325.0 C1189.0,331.7 1178.2,337.7 1167.0,343.5 C1155.8,349.3 1147.5,354.1 1133.0,360.0 C1118.5,365.9 1102.2,372.8 1080.0,379.0 C1057.8,385.2 1026.7,393.2 1000.0,397.5 C973.3,401.8 942.2,404.6 920.0,405.0 C897.8,405.4 882.5,403.0 867.0,400.0 C851.5,397.0 840.3,392.7 827.0,387.0 C813.7,381.3 798.2,372.8 787.0,366.0 C775.8,359.2 764.5,349.8 760.0,346.5 C750.0,345.5 723.3,342.9 700.0,340.5 C676.7,338.1 643.2,334.5 620.0,331.8 C596.8,329.1 576.0,326.3 561.0,324.5 C546.0,322.7 540.2,322.4 530.0,321.1 C519.8,319.8 516.7,319.6 500.0,316.5 C483.3,313.4 450.0,306.6 430.0,302.5 C410.0,298.4 396.7,295.7 380.0,291.8 C363.3,287.9 346.7,284.1 330.0,279.1 C313.3,274.1 293.3,266.5 280.0,261.8 C266.7,257.1 260.3,254.7 250.0,250.7 C239.7,246.7 223.3,239.9 218.0,237.7 Z" fill="#f0f2f3"/>
<path d="M218.0,238.3 C223.3,240.8 239.7,248.7 250.0,253.3 C260.3,257.9 266.7,261.2 280.0,266.2 C293.3,271.2 313.3,278.5 330.0,283.5 C346.7,288.5 363.3,292.3 380.0,296.2 C396.7,300.1 410.0,302.8 430.0,306.9 C450.0,311.0 483.3,317.8 500.0,320.9 C516.7,324.0 519.8,324.2 530.0,325.5 C540.2,326.8 546.0,327.1 561.0,328.9 C576.0,330.7 596.8,333.5 620.0,336.2 C643.2,338.9 676.7,342.4 700.0,344.9 C723.3,347.4 750.0,350.0 760.0,351.0 C764.5,352.9 775.8,363.1 787.0,370.0 C798.2,376.9 813.7,385.3 827.0,391.0 C840.3,396.7 851.5,400.8 867.0,404.0 C882.5,407.2 897.8,410.0 920.0,410.0 C942.2,410.0 973.3,407.8 1000.0,404.0 C1026.7,400.2 1055.8,393.8 1080.0,387.0 C1104.2,380.2 1125.7,371.2 1145.0,363.0 C1164.3,354.8 1180.2,346.7 1196.0,337.5 C1211.8,328.3 1228.7,316.2 1240.0,308.0 C1251.3,299.8 1255.5,295.7 1264.0,288.5 C1272.5,281.3 1286.5,268.9 1291.0,265.0 L1291,265 C1285.5,267.9 1267.7,278.5 1258.0,285.0 C1248.3,291.5 1242.7,296.8 1233.0,303.5 C1223.3,310.2 1211.0,318.3 1200.0,325.0 C1189.0,331.7 1178.2,337.7 1167.0,343.5 C1155.8,349.3 1147.5,354.1 1133.0,360.0 C1118.5,365.9 1102.2,372.8 1080.0,379.0 C1057.8,385.2 1026.7,393.2 1000.0,397.5 C973.3,401.8 942.2,404.6 920.0,405.0 C897.8,405.4 882.5,403.0 867.0,400.0 C851.5,397.0 840.3,392.7 827.0,387.0 C813.7,381.3 798.2,372.8 787.0,366.0 C775.8,359.2 764.5,349.8 760.0,346.5 C750.0,345.5 723.3,342.9 700.0,340.5 C676.7,338.1 643.2,334.5 620.0,331.8 C596.8,329.1 576.0,326.3 561.0,324.5 C546.0,322.7 540.2,322.4 530.0,321.1 C519.8,319.8 516.7,319.6 500.0,316.5 C483.3,313.4 450.0,306.6 430.0,302.5 C410.0,298.4 396.7,295.7 380.0,291.8 C363.3,287.9 346.7,284.1 330.0,279.1 C313.3,274.1 293.3,266.5 280.0,261.8 C266.7,257.1 260.3,254.7 250.0,250.7 C239.7,246.7 223.3,239.9 218.0,237.7 Z" fill="#fcfdfd"/>
<path d="M218.0,237.5 C228.3,239.8 256.3,246.6 280.0,251.0 C303.7,255.4 333.3,260.8 360.0,264.0 C386.7,267.2 416.7,269.2 440.0,270.0 C463.3,270.8 481.7,269.7 500.0,269.0 C518.3,268.3 533.3,267.8 550.0,266.0 C566.7,264.2 583.3,261.5 600.0,258.0 C616.7,254.5 633.3,250.0 650.0,245.0 C666.7,240.0 683.3,235.0 700.0,228.0 C716.7,221.0 732.2,214.0 750.0,203.0 C767.8,192.0 789.0,176.8 807.0,162.0 C825.0,147.2 849.5,122.0 858.0,114.0 L1291,265 C1285.5,267.9 1267.7,278.5 1258.0,285.0 C1248.3,291.5 1242.7,296.8 1233.0,303.5 C1223.3,310.2 1211.0,318.3 1200.0,325.0 C1189.0,331.7 1178.2,337.7 1167.0,343.5 C1155.8,349.3 1147.5,354.1 1133.0,360.0 C1118.5,365.9 1102.2,372.8 1080.0,379.0 C1057.8,385.2 1026.7,393.2 1000.0,397.5 C973.3,401.8 942.2,404.6 920.0,405.0 C897.8,405.4 882.5,403.0 867.0,400.0 C851.5,397.0 840.3,392.7 827.0,387.0 C813.7,381.3 798.2,372.8 787.0,366.0 C775.8,359.2 764.5,349.8 760.0,346.5 C750.0,345.5 723.3,342.9 700.0,340.5 C676.7,338.1 643.2,334.5 620.0,331.8 C596.8,329.1 576.0,326.3 561.0,324.5 C546.0,322.7 540.2,322.4 530.0,321.1 C519.8,319.8 516.7,319.6 500.0,316.5 C483.3,313.4 450.0,306.6 430.0,302.5 C410.0,298.4 396.7,295.7 380.0,291.8 C363.3,287.9 346.7,284.1 330.0,279.1 C313.3,274.1 293.3,266.5 280.0,261.8 C266.7,257.1 260.3,254.7 250.0,250.7 C239.7,246.7 223.3,239.9 218.0,237.7 Z" fill="#e8eef0"/>
<path d="M821,1 L869,91 L828,85 C825.8,92.5 818.5,117.5 814.5,130.0 C810.5,142.5 807.6,146.7 804.0,160.0 C800.4,173.3 795.4,194.5 793.0,210.0 C790.6,225.5 790.2,238.0 789.5,253.0 C788.8,268.0 789.1,284.2 789.0,300.0 C788.9,315.8 789.0,340.0 789.0,348.0 L725,348 C725.1,340.0 725.0,315.8 725.5,300.0 C726.0,284.2 726.7,268.0 728.0,253.0 C729.3,238.0 731.0,225.5 733.5,210.0 C736.0,194.5 739.1,176.7 743.0,160.0 C746.9,143.3 752.7,124.8 757.0,110.0 C761.3,95.2 767.0,77.5 769.0,71.0 L727,60 Z" fill="url(#arrowG)"/>
<g fill="none" stroke="#77797b" stroke-width="2.5">
<path d="M561,318 V1106.5 H400"/>
<path d="M693,592 V1244.7 H531"/>
<path d="M913,626 V1106.3 H1077.5"/>
<path d="M786.5,854 V1246.6 H950"/>
</g>
<circle cx="561" cy="318" r="6.6" fill="#717578"/>
<circle cx="693" cy="592" r="6.6" fill="#717578"/>
<circle cx="913" cy="626" r="6.6" fill="#717578"/>
<circle cx="786.5" cy="854" r="6.6" fill="#717578"/>
<text class="lbl" x="0.5" y="1114.0" textLength="393.5" lengthAdjust="spacingAndGlyphs">Premium Quilted Cotton</text>
<text class="lbl" x="1.5" y="1152.8" textLength="318.0" lengthAdjust="spacingAndGlyphs">Terry Fabric Surface</text>
<text class="lbl" x="192.0" y="1252.0" textLength="328.0" lengthAdjust="spacingAndGlyphs">Soft and Safe Fillings</text>
<text class="lbl" x="1083.0" y="1118.0" textLength="395.0" lengthAdjust="spacingAndGlyphs">Extra Durable Base Layer</text>
<text class="lbl" x="960.0" y="1254.5" textLength="539.5" lengthAdjust="spacingAndGlyphs">100% Waterproof TPU Membrane</text>
</svg></body></html>
